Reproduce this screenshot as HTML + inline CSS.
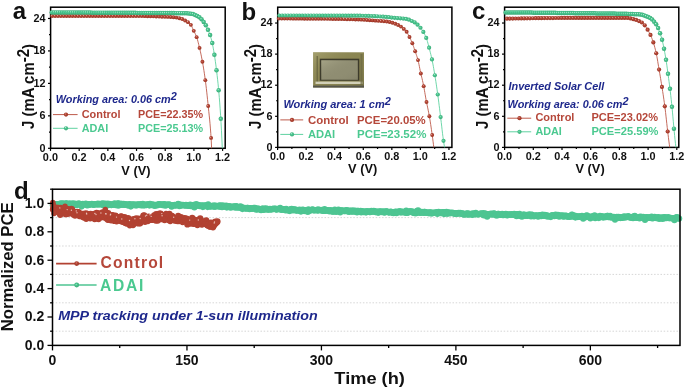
<!DOCTYPE html>
<html><head><meta charset="utf-8"><style>
html,body{margin:0;padding:0;background:#fff;}
svg{display:block;will-change:transform;}
</style></head><body>
<svg width="685" height="390" viewBox="0 0 685 390" font-family='"Liberation Sans", sans-serif'>
<defs><radialGradient id="rg" cx="0.5" cy="0.5" r="0.55" fx="0.35" fy="0.32"><stop offset="0" stop-color="#e8b4a8"/><stop offset="0.3" stop-color="#b84a3b"/><stop offset="1" stop-color="#98301f"/></radialGradient><radialGradient id="gg" cx="0.5" cy="0.5" r="0.55" fx="0.35" fy="0.32"><stop offset="0" stop-color="#c8f2e0"/><stop offset="0.3" stop-color="#50ca94"/><stop offset="1" stop-color="#36a874"/></radialGradient><radialGradient id="rgd" cx="0.5" cy="0.5" r="0.5" fx="0.4" fy="0.4"><stop offset="0" stop-color="#f4dcd6"/><stop offset="0.3" stop-color="#d08070"/><stop offset="0.6" stop-color="#b24232"/><stop offset="1" stop-color="#a83a2b"/></radialGradient><linearGradient id="phg" x1="0" y1="0" x2="1" y2="1"><stop offset="0" stop-color="#b8b484" stop-opacity="0.6"/><stop offset="0.5" stop-color="#8a8552" stop-opacity="0"/><stop offset="1" stop-color="#5a5838" stop-opacity="0.4"/></linearGradient><linearGradient id="phi" x1="0" y1="0" x2="1" y2="1"><stop offset="0" stop-color="#b0ae90" stop-opacity="0.7"/><stop offset="0.6" stop-color="#8f8d72" stop-opacity="0"/><stop offset="1" stop-color="#7a7860" stop-opacity="0.5"/></linearGradient></defs>
<rect width="685" height="390" fill="#fff"/>
<rect x="50.6" y="7.2" width="174.6" height="141.10000000000002" fill="none" stroke="#000" stroke-width="1.5"/>
<line x1="50.50" y1="148.3" x2="50.50" y2="150.9" stroke="#000" stroke-width="1.2"/>
<text x="50.40" y="161.25" font-size="10.85" font-weight="bold" font-style="normal" fill="#111" text-anchor="middle" >0.0</text>
<line x1="64.84" y1="148.3" x2="64.84" y2="149.9" stroke="#000" stroke-width="1.2"/>
<line x1="79.18" y1="148.3" x2="79.18" y2="150.9" stroke="#000" stroke-width="1.2"/>
<text x="79.08" y="161.25" font-size="10.85" font-weight="bold" font-style="normal" fill="#111" text-anchor="middle" >0.2</text>
<line x1="93.52" y1="148.3" x2="93.52" y2="149.9" stroke="#000" stroke-width="1.2"/>
<line x1="107.86" y1="148.3" x2="107.86" y2="150.9" stroke="#000" stroke-width="1.2"/>
<text x="107.76" y="161.25" font-size="10.85" font-weight="bold" font-style="normal" fill="#111" text-anchor="middle" >0.4</text>
<line x1="122.20" y1="148.3" x2="122.20" y2="149.9" stroke="#000" stroke-width="1.2"/>
<line x1="136.54" y1="148.3" x2="136.54" y2="150.9" stroke="#000" stroke-width="1.2"/>
<text x="136.44" y="161.25" font-size="10.85" font-weight="bold" font-style="normal" fill="#111" text-anchor="middle" >0.6</text>
<line x1="150.88" y1="148.3" x2="150.88" y2="149.9" stroke="#000" stroke-width="1.2"/>
<line x1="165.22" y1="148.3" x2="165.22" y2="150.9" stroke="#000" stroke-width="1.2"/>
<text x="165.12" y="161.25" font-size="10.85" font-weight="bold" font-style="normal" fill="#111" text-anchor="middle" >0.8</text>
<line x1="179.56" y1="148.3" x2="179.56" y2="149.9" stroke="#000" stroke-width="1.2"/>
<line x1="193.90" y1="148.3" x2="193.90" y2="150.9" stroke="#000" stroke-width="1.2"/>
<text x="193.80" y="161.25" font-size="10.85" font-weight="bold" font-style="normal" fill="#111" text-anchor="middle" >1.0</text>
<line x1="208.24" y1="148.3" x2="208.24" y2="149.9" stroke="#000" stroke-width="1.2"/>
<line x1="222.58" y1="148.3" x2="222.58" y2="150.9" stroke="#000" stroke-width="1.2"/>
<text x="222.48" y="161.25" font-size="10.85" font-weight="bold" font-style="normal" fill="#111" text-anchor="middle" >1.2</text>
<line x1="48.0" y1="148.30" x2="50.6" y2="148.30" stroke="#000" stroke-width="1.2"/>
<text x="45.50" y="151.55" font-size="10.8" font-weight="bold" font-style="normal" fill="#111" text-anchor="end" >0</text>
<line x1="49.0" y1="132.07" x2="50.6" y2="132.07" stroke="#000" stroke-width="1.2"/>
<line x1="48.0" y1="115.84" x2="50.6" y2="115.84" stroke="#000" stroke-width="1.2"/>
<text x="45.50" y="119.09" font-size="10.8" font-weight="bold" font-style="normal" fill="#111" text-anchor="end" >6</text>
<line x1="49.0" y1="99.61" x2="50.6" y2="99.61" stroke="#000" stroke-width="1.2"/>
<line x1="48.0" y1="83.38" x2="50.6" y2="83.38" stroke="#000" stroke-width="1.2"/>
<text x="45.50" y="86.63" font-size="10.8" font-weight="bold" font-style="normal" fill="#111" text-anchor="end" >12</text>
<line x1="49.0" y1="67.15" x2="50.6" y2="67.15" stroke="#000" stroke-width="1.2"/>
<line x1="48.0" y1="50.92" x2="50.6" y2="50.92" stroke="#000" stroke-width="1.2"/>
<text x="45.50" y="54.17" font-size="10.8" font-weight="bold" font-style="normal" fill="#111" text-anchor="end" >18</text>
<line x1="49.0" y1="34.69" x2="50.6" y2="34.69" stroke="#000" stroke-width="1.2"/>
<line x1="48.0" y1="18.46" x2="50.6" y2="18.46" stroke="#000" stroke-width="1.2"/>
<text x="45.50" y="21.71" font-size="10.8" font-weight="bold" font-style="normal" fill="#111" text-anchor="end" >24</text>
<text x="135.94" y="175.00" font-size="12.8" font-weight="bold" font-style="normal" fill="#111" text-anchor="middle" >V (V)</text>
<text transform="translate(33.80,86.50) rotate(-90)" x="0" y="0" font-size="16.6" font-weight="bold" fill="#111" text-anchor="middle" textLength="85" lengthAdjust="spacingAndGlyphs">J (mA cm<tspan dy="-4.8">-2</tspan><tspan dy="4.8">)</tspan></text>
<text x="12.80" y="19.20" font-size="24" font-weight="bold" font-style="normal" fill="#111" text-anchor="start" >a</text>
<path d="M50.60,16.00 L51.00,16.00 L51.41,16.00 L51.81,16.00 L52.21,16.00 L52.62,16.00 L53.02,16.00 L53.42,16.00 L53.83,16.00 L54.23,16.00 L54.64,16.00 L55.04,16.00 L55.44,16.00 L55.85,16.00 L56.25,16.00 L56.65,16.00 L57.06,16.00 L57.46,16.00 L57.86,16.00 L58.27,16.00 L58.67,16.00 L59.07,16.00 L59.48,16.00 L59.88,16.00 L60.28,16.00 L60.69,16.00 L61.09,16.00 L61.49,16.00 L61.90,16.00 L62.30,16.00 L62.71,16.00 L63.11,16.00 L63.51,16.00 L63.92,16.00 L64.32,16.00 L64.72,16.00 L65.13,16.00 L65.53,16.00 L65.93,16.00 L66.34,16.00 L66.74,16.00 L67.14,16.00 L67.55,16.00 L67.95,16.00 L68.35,16.00 L68.76,16.00 L69.16,16.00 L69.56,16.00 L69.97,16.00 L70.37,16.00 L70.78,16.00 L71.18,16.00 L71.58,16.00 L71.99,16.00 L72.39,16.00 L72.79,16.00 L73.20,16.00 L73.60,16.00 L74.00,16.00 L74.41,16.00 L74.81,16.00 L75.21,16.00 L75.62,16.00 L76.02,16.00 L76.42,16.00 L76.83,16.00 L77.23,16.00 L77.64,16.00 L78.04,16.00 L78.44,16.00 L78.85,16.00 L79.25,16.00 L79.65,16.00 L80.06,16.00 L80.46,16.00 L80.86,16.00 L81.27,16.00 L81.67,16.00 L82.07,16.00 L82.48,16.00 L82.88,16.00 L83.28,16.00 L83.69,16.00 L84.09,16.00 L84.49,16.00 L84.90,16.00 L85.30,16.00 L85.71,16.00 L86.11,16.00 L86.51,16.00 L86.92,16.00 L87.32,16.00 L87.72,16.00 L88.13,16.00 L88.53,16.00 L88.93,16.00 L89.34,16.00 L89.74,16.00 L90.14,16.00 L90.55,16.00 L90.95,16.00 L91.35,16.00 L91.76,16.00 L92.16,16.00 L92.56,16.00 L92.97,16.00 L93.37,16.00 L93.78,16.00 L94.18,16.00 L94.58,16.00 L94.99,16.00 L95.39,16.00 L95.79,16.00 L96.20,16.00 L96.60,16.00 L97.00,16.00 L97.41,16.00 L97.81,16.00 L98.21,16.00 L98.62,16.00 L99.02,16.00 L99.42,16.00 L99.83,16.00 L100.23,16.00 L100.64,16.00 L101.04,16.00 L101.44,16.00 L101.85,16.00 L102.25,16.00 L102.65,16.00 L103.06,16.00 L103.46,16.00 L103.86,16.00 L104.27,16.00 L104.67,16.00 L105.07,16.00 L105.48,16.00 L105.88,16.00 L106.28,16.00 L106.69,16.00 L107.09,16.00 L107.49,16.00 L107.90,16.00 L108.30,16.00 L108.71,16.00 L109.11,16.01 L109.51,16.01 L109.92,16.01 L110.32,16.01 L110.72,16.01 L111.13,16.01 L111.53,16.01 L111.93,16.01 L112.34,16.01 L112.74,16.01 L113.14,16.01 L113.55,16.01 L113.95,16.01 L114.35,16.01 L114.76,16.01 L115.16,16.01 L115.56,16.02 L115.97,16.02 L116.37,16.02 L116.78,16.02 L117.18,16.02 L117.58,16.02 L117.99,16.02 L118.39,16.02 L118.79,16.02 L119.20,16.02 L119.60,16.02 L120.00,16.03 L120.41,16.03 L120.81,16.03 L121.21,16.03 L121.62,16.03 L122.02,16.03 L122.42,16.03 L122.83,16.03 L123.23,16.03 L123.64,16.04 L124.04,16.04 L124.44,16.04 L124.85,16.04 L125.25,16.04 L125.65,16.04 L126.06,16.04 L126.46,16.04 L126.86,16.05 L127.27,16.05 L127.67,16.05 L128.07,16.05 L128.48,16.05 L128.88,16.05 L129.28,16.05 L129.69,16.06 L130.09,16.06 L130.49,16.06 L130.90,16.06 L131.30,16.06 L131.71,16.06 L132.11,16.06 L132.51,16.07 L132.92,16.07 L133.32,16.07 L133.72,16.07 L134.13,16.07 L134.53,16.07 L134.93,16.08 L135.34,16.08 L135.74,16.08 L136.14,16.08 L136.55,16.08 L136.95,16.09 L137.35,16.09 L137.76,16.09 L138.16,16.09 L138.56,16.09 L138.97,16.10 L139.37,16.10 L139.78,16.10 L140.18,16.10 L140.58,16.10 L140.99,16.11 L141.39,16.11 L141.79,16.11 L142.20,16.12 L142.60,16.12 L143.00,16.13 L143.41,16.13 L143.81,16.14 L144.21,16.14 L144.62,16.15 L145.02,16.16 L145.42,16.16 L145.83,16.17 L146.23,16.18 L146.64,16.19 L147.04,16.20 L147.44,16.20 L147.85,16.21 L148.25,16.22 L148.65,16.23 L149.06,16.24 L149.46,16.25 L149.86,16.26 L150.27,16.27 L150.67,16.29 L151.07,16.30 L151.48,16.31 L151.88,16.32 L152.28,16.33 L152.69,16.35 L153.09,16.36 L153.49,16.37 L153.90,16.38 L154.30,16.40 L154.71,16.41 L155.11,16.42 L155.51,16.44 L155.92,16.45 L156.32,16.47 L156.72,16.48 L157.13,16.49 L157.53,16.51 L157.93,16.52 L158.34,16.54 L158.74,16.55 L159.14,16.57 L159.55,16.58 L159.95,16.60 L160.35,16.62 L160.76,16.63 L161.16,16.65 L161.56,16.66 L161.97,16.68 L162.37,16.69 L162.78,16.71 L163.18,16.73 L163.58,16.74 L163.99,16.76 L164.39,16.78 L164.79,16.79 L165.20,16.81 L165.60,16.82 L166.00,16.84 L166.41,16.86 L166.81,16.87 L167.21,16.89 L167.62,16.91 L168.02,16.93 L168.42,16.95 L168.83,16.97 L169.23,16.99 L169.64,17.01 L170.04,17.03 L170.44,17.05 L170.85,17.08 L171.25,17.10 L171.65,17.13 L172.06,17.15 L172.46,17.18 L172.86,17.21 L173.27,17.25 L173.67,17.28 L174.07,17.31 L174.48,17.35 L174.88,17.39 L175.28,17.43 L175.69,17.48 L176.09,17.53 L176.49,17.60 L176.90,17.66 L177.30,17.74 L177.71,17.82 L178.11,17.91 L178.51,18.00 L178.92,18.10 L179.32,18.20 L179.72,18.31 L180.13,18.42 L180.53,18.54 L180.93,18.66 L181.34,18.79 L181.74,18.91 L182.14,19.05 L182.55,19.21 L182.95,19.39 L183.35,19.60 L183.76,19.81 L184.16,20.04 L184.56,20.28 L184.97,20.51 L185.37,20.73 L185.78,20.94 L186.18,21.15 L186.58,21.35 L186.99,21.56 L187.39,21.79 L187.79,22.03 L188.20,22.30 L188.60,22.59 L189.00,22.91 L189.41,23.25 L189.81,23.63 L190.21,24.05 L190.62,24.51 L191.02,25.03 L191.42,25.68 L191.83,26.48 L192.23,27.38 L192.64,28.34 L193.04,29.29 L193.44,30.19 L193.85,31.02 L194.25,31.83 L194.65,32.62 L195.06,33.43 L195.46,34.26 L195.86,35.16 L196.27,36.13 L196.67,37.19 L197.07,38.41 L197.48,39.76 L197.88,41.22 L198.28,42.78 L198.69,44.39 L199.09,46.04 L199.49,47.71 L199.90,49.42 L200.30,51.19 L200.71,53.03 L201.11,54.93 L201.51,56.91 L201.92,58.97 L202.32,61.10 L202.72,63.33 L203.13,65.65 L203.53,68.07 L203.93,70.59 L204.34,73.22 L204.74,75.98 L205.14,78.85 L205.55,81.88 L205.95,85.11 L206.35,88.54 L206.76,92.13 L207.16,95.86 L207.56,99.69 L207.97,103.61 L208.37,107.53 L208.78,111.32 L209.18,115.12 L209.58,119.08 L209.99,123.35 L210.39,128.06 L210.79,133.37 L211.20,139.55 L211.60,148.30" fill="none" stroke="#bd5a4b" stroke-width="0.9"/>
<circle cx="52.15" cy="16.00" r="1.95" fill="url(#rg)"/>
<circle cx="55.04" cy="16.00" r="1.95" fill="url(#rg)"/>
<circle cx="57.93" cy="16.00" r="1.95" fill="url(#rg)"/>
<circle cx="60.82" cy="16.00" r="1.95" fill="url(#rg)"/>
<circle cx="63.71" cy="16.00" r="1.95" fill="url(#rg)"/>
<circle cx="66.60" cy="16.00" r="1.95" fill="url(#rg)"/>
<circle cx="69.49" cy="16.00" r="1.95" fill="url(#rg)"/>
<circle cx="72.38" cy="16.00" r="1.95" fill="url(#rg)"/>
<circle cx="75.27" cy="16.00" r="1.95" fill="url(#rg)"/>
<circle cx="78.16" cy="16.00" r="1.95" fill="url(#rg)"/>
<circle cx="81.05" cy="16.00" r="1.95" fill="url(#rg)"/>
<circle cx="83.94" cy="16.00" r="1.95" fill="url(#rg)"/>
<circle cx="86.83" cy="16.00" r="1.95" fill="url(#rg)"/>
<circle cx="89.72" cy="16.00" r="1.95" fill="url(#rg)"/>
<circle cx="92.61" cy="16.00" r="1.95" fill="url(#rg)"/>
<circle cx="95.50" cy="16.00" r="1.95" fill="url(#rg)"/>
<circle cx="98.39" cy="16.00" r="1.95" fill="url(#rg)"/>
<circle cx="101.28" cy="16.00" r="1.95" fill="url(#rg)"/>
<circle cx="104.17" cy="16.00" r="1.95" fill="url(#rg)"/>
<circle cx="107.06" cy="16.00" r="1.95" fill="url(#rg)"/>
<circle cx="109.95" cy="16.01" r="1.95" fill="url(#rg)"/>
<circle cx="112.84" cy="16.01" r="1.95" fill="url(#rg)"/>
<circle cx="115.73" cy="16.02" r="1.95" fill="url(#rg)"/>
<circle cx="118.62" cy="16.02" r="1.95" fill="url(#rg)"/>
<circle cx="121.51" cy="16.03" r="1.95" fill="url(#rg)"/>
<circle cx="124.40" cy="16.04" r="1.95" fill="url(#rg)"/>
<circle cx="127.29" cy="16.05" r="1.95" fill="url(#rg)"/>
<circle cx="130.18" cy="16.06" r="1.95" fill="url(#rg)"/>
<circle cx="133.07" cy="16.07" r="1.95" fill="url(#rg)"/>
<circle cx="135.96" cy="16.08" r="1.95" fill="url(#rg)"/>
<circle cx="138.85" cy="16.09" r="1.95" fill="url(#rg)"/>
<circle cx="141.74" cy="16.11" r="1.95" fill="url(#rg)"/>
<circle cx="144.63" cy="16.15" r="1.95" fill="url(#rg)"/>
<circle cx="147.52" cy="16.21" r="1.95" fill="url(#rg)"/>
<circle cx="150.41" cy="16.28" r="1.95" fill="url(#rg)"/>
<circle cx="153.30" cy="16.36" r="1.95" fill="url(#rg)"/>
<circle cx="156.19" cy="16.46" r="1.95" fill="url(#rg)"/>
<circle cx="159.08" cy="16.57" r="1.95" fill="url(#rg)"/>
<circle cx="161.97" cy="16.68" r="1.95" fill="url(#rg)"/>
<circle cx="164.86" cy="16.79" r="1.95" fill="url(#rg)"/>
<circle cx="167.75" cy="16.92" r="1.95" fill="url(#rg)"/>
<circle cx="170.64" cy="17.06" r="1.95" fill="url(#rg)"/>
<circle cx="173.53" cy="17.27" r="1.95" fill="url(#rg)"/>
<circle cx="176.42" cy="17.58" r="1.95" fill="url(#rg)"/>
<circle cx="179.31" cy="18.20" r="1.95" fill="url(#rg)"/>
<circle cx="182.20" cy="19.07" r="1.95" fill="url(#rg)"/>
<circle cx="185.09" cy="20.57" r="1.95" fill="url(#rg)"/>
<circle cx="187.98" cy="22.15" r="1.95" fill="url(#rg)"/>
<circle cx="190.87" cy="24.83" r="1.95" fill="url(#rg)"/>
<circle cx="193.76" cy="30.85" r="1.95" fill="url(#rg)"/>
<circle cx="196.65" cy="37.14" r="1.95" fill="url(#rg)"/>
<circle cx="199.54" cy="47.90" r="1.95" fill="url(#rg)"/>
<circle cx="202.43" cy="61.71" r="1.95" fill="url(#rg)"/>
<circle cx="205.32" cy="80.15" r="1.95" fill="url(#rg)"/>
<circle cx="208.21" cy="105.97" r="1.95" fill="url(#rg)"/>
<circle cx="211.10" cy="137.90" r="1.95" fill="url(#rg)"/>
<path d="M50.60,12.50 L51.03,12.50 L51.46,12.50 L51.89,12.50 L52.32,12.50 L52.75,12.50 L53.18,12.50 L53.61,12.51 L54.04,12.51 L54.47,12.51 L54.90,12.51 L55.33,12.51 L55.76,12.51 L56.19,12.51 L56.62,12.51 L57.05,12.51 L57.49,12.51 L57.92,12.51 L58.35,12.51 L58.78,12.52 L59.21,12.52 L59.64,12.52 L60.07,12.52 L60.50,12.52 L60.93,12.52 L61.36,12.52 L61.79,12.52 L62.22,12.52 L62.65,12.53 L63.08,12.53 L63.51,12.53 L63.94,12.53 L64.37,12.53 L64.80,12.53 L65.23,12.53 L65.66,12.53 L66.09,12.53 L66.52,12.54 L66.95,12.54 L67.38,12.54 L67.81,12.54 L68.24,12.54 L68.67,12.54 L69.10,12.54 L69.53,12.54 L69.96,12.55 L70.39,12.55 L70.83,12.55 L71.26,12.55 L71.69,12.55 L72.12,12.55 L72.55,12.55 L72.98,12.56 L73.41,12.56 L73.84,12.56 L74.27,12.56 L74.70,12.56 L75.13,12.56 L75.56,12.57 L75.99,12.57 L76.42,12.57 L76.85,12.57 L77.28,12.57 L77.71,12.57 L78.14,12.57 L78.57,12.58 L79.00,12.58 L79.43,12.58 L79.86,12.58 L80.29,12.58 L80.72,12.58 L81.15,12.59 L81.58,12.59 L82.01,12.59 L82.44,12.59 L82.87,12.59 L83.30,12.59 L83.74,12.60 L84.17,12.60 L84.60,12.60 L85.03,12.60 L85.46,12.60 L85.89,12.61 L86.32,12.61 L86.75,12.61 L87.18,12.61 L87.61,12.61 L88.04,12.61 L88.47,12.62 L88.90,12.62 L89.33,12.62 L89.76,12.62 L90.19,12.62 L90.62,12.63 L91.05,12.63 L91.48,12.63 L91.91,12.63 L92.34,12.63 L92.77,12.64 L93.20,12.64 L93.63,12.64 L94.06,12.64 L94.49,12.64 L94.92,12.65 L95.35,12.65 L95.78,12.65 L96.21,12.65 L96.64,12.65 L97.08,12.66 L97.51,12.66 L97.94,12.66 L98.37,12.66 L98.80,12.67 L99.23,12.67 L99.66,12.67 L100.09,12.67 L100.52,12.67 L100.95,12.68 L101.38,12.68 L101.81,12.68 L102.24,12.68 L102.67,12.68 L103.10,12.69 L103.53,12.69 L103.96,12.69 L104.39,12.69 L104.82,12.70 L105.25,12.70 L105.68,12.70 L106.11,12.70 L106.54,12.70 L106.97,12.71 L107.40,12.71 L107.83,12.71 L108.26,12.71 L108.69,12.72 L109.12,12.72 L109.55,12.72 L109.98,12.72 L110.42,12.73 L110.85,12.73 L111.28,12.73 L111.71,12.73 L112.14,12.74 L112.57,12.74 L113.00,12.74 L113.43,12.74 L113.86,12.74 L114.29,12.75 L114.72,12.75 L115.15,12.75 L115.58,12.75 L116.01,12.76 L116.44,12.76 L116.87,12.76 L117.30,12.76 L117.73,12.77 L118.16,12.77 L118.59,12.77 L119.02,12.77 L119.45,12.78 L119.88,12.78 L120.31,12.78 L120.74,12.78 L121.17,12.79 L121.60,12.79 L122.03,12.79 L122.46,12.79 L122.89,12.80 L123.33,12.80 L123.76,12.80 L124.19,12.80 L124.62,12.81 L125.05,12.81 L125.48,12.81 L125.91,12.81 L126.34,12.82 L126.77,12.82 L127.20,12.82 L127.63,12.82 L128.06,12.83 L128.49,12.83 L128.92,12.83 L129.35,12.83 L129.78,12.84 L130.21,12.84 L130.64,12.84 L131.07,12.85 L131.50,12.85 L131.93,12.85 L132.36,12.85 L132.79,12.86 L133.22,12.86 L133.65,12.86 L134.08,12.86 L134.51,12.87 L134.94,12.87 L135.37,12.87 L135.80,12.87 L136.23,12.88 L136.67,12.88 L137.10,12.88 L137.53,12.88 L137.96,12.89 L138.39,12.89 L138.82,12.89 L139.25,12.90 L139.68,12.90 L140.11,12.90 L140.54,12.90 L140.97,12.91 L141.40,12.91 L141.83,12.91 L142.26,12.91 L142.69,12.92 L143.12,12.92 L143.55,12.92 L143.98,12.92 L144.41,12.93 L144.84,12.93 L145.27,12.93 L145.70,12.93 L146.13,12.93 L146.56,12.94 L146.99,12.94 L147.42,12.94 L147.85,12.94 L148.28,12.94 L148.71,12.95 L149.14,12.95 L149.57,12.95 L150.01,12.95 L150.44,12.96 L150.87,12.96 L151.30,12.96 L151.73,12.96 L152.16,12.96 L152.59,12.97 L153.02,12.97 L153.45,12.97 L153.88,12.97 L154.31,12.97 L154.74,12.98 L155.17,12.98 L155.60,12.98 L156.03,12.98 L156.46,12.99 L156.89,12.99 L157.32,12.99 L157.75,12.99 L158.18,12.99 L158.61,13.00 L159.04,13.00 L159.47,13.00 L159.90,13.00 L160.33,13.01 L160.76,13.01 L161.19,13.01 L161.62,13.02 L162.05,13.02 L162.48,13.02 L162.92,13.02 L163.35,13.03 L163.78,13.03 L164.21,13.03 L164.64,13.04 L165.07,13.04 L165.50,13.04 L165.93,13.05 L166.36,13.05 L166.79,13.05 L167.22,13.06 L167.65,13.06 L168.08,13.06 L168.51,13.07 L168.94,13.07 L169.37,13.08 L169.80,13.08 L170.23,13.08 L170.66,13.09 L171.09,13.09 L171.52,13.10 L171.95,13.10 L172.38,13.11 L172.81,13.11 L173.24,13.12 L173.67,13.12 L174.10,13.13 L174.53,13.13 L174.96,13.14 L175.39,13.14 L175.82,13.15 L176.26,13.15 L176.69,13.16 L177.12,13.17 L177.55,13.17 L177.98,13.18 L178.41,13.18 L178.84,13.19 L179.27,13.20 L179.70,13.20 L180.13,13.21 L180.56,13.22 L180.99,13.23 L181.42,13.23 L181.85,13.24 L182.28,13.25 L182.71,13.26 L183.14,13.26 L183.57,13.27 L184.00,13.28 L184.43,13.29 L184.86,13.30 L185.29,13.31 L185.72,13.32 L186.15,13.34 L186.58,13.36 L187.01,13.38 L187.44,13.41 L187.87,13.44 L188.30,13.48 L188.73,13.52 L189.16,13.56 L189.60,13.61 L190.03,13.66 L190.46,13.71 L190.89,13.76 L191.32,13.82 L191.75,13.88 L192.18,13.95 L192.61,14.02 L193.04,14.11 L193.47,14.23 L193.90,14.37 L194.33,14.54 L194.76,14.72 L195.19,14.92 L195.62,15.12 L196.05,15.33 L196.48,15.54 L196.91,15.76 L197.34,15.97 L197.77,16.19 L198.20,16.42 L198.63,16.67 L199.06,16.93 L199.49,17.22 L199.92,17.54 L200.35,17.90 L200.78,18.31 L201.21,18.78 L201.64,19.28 L202.07,19.81 L202.51,20.36 L202.94,20.92 L203.37,21.49 L203.80,22.09 L204.23,22.72 L204.66,23.38 L205.09,24.08 L205.52,24.80 L205.95,25.57 L206.38,26.40 L206.81,27.28 L207.24,28.21 L207.67,29.18 L208.10,30.15 L208.53,31.13 L208.96,32.13 L209.39,33.19 L209.82,34.32 L210.25,35.55 L210.68,36.92 L211.11,38.45 L211.54,40.11 L211.97,41.90 L212.40,43.81 L212.83,45.89 L213.26,48.16 L213.69,50.60 L214.12,53.19 L214.55,55.88 L214.98,58.73 L215.41,61.76 L215.85,64.95 L216.28,68.29 L216.71,71.79 L217.14,75.43 L217.57,79.25 L218.00,83.31 L218.43,87.67 L218.86,92.36 L219.29,97.44 L219.72,102.93 L220.15,108.88 L220.58,115.30 L221.01,122.30 L221.44,130.22 L221.87,138.96 L222.30,148.30" fill="none" stroke="#5fd2a0" stroke-width="0.9"/>
<circle cx="51.74" cy="12.50" r="2.25" fill="url(#gg)"/>
<circle cx="53.88" cy="12.51" r="2.25" fill="url(#gg)"/>
<circle cx="56.02" cy="12.51" r="2.25" fill="url(#gg)"/>
<circle cx="58.16" cy="12.51" r="2.25" fill="url(#gg)"/>
<circle cx="60.30" cy="12.52" r="2.25" fill="url(#gg)"/>
<circle cx="62.44" cy="12.52" r="2.25" fill="url(#gg)"/>
<circle cx="64.58" cy="12.53" r="2.25" fill="url(#gg)"/>
<circle cx="66.72" cy="12.54" r="2.25" fill="url(#gg)"/>
<circle cx="68.86" cy="12.54" r="2.25" fill="url(#gg)"/>
<circle cx="71.00" cy="12.55" r="2.25" fill="url(#gg)"/>
<circle cx="73.14" cy="12.56" r="2.25" fill="url(#gg)"/>
<circle cx="75.28" cy="12.56" r="2.25" fill="url(#gg)"/>
<circle cx="77.42" cy="12.57" r="2.25" fill="url(#gg)"/>
<circle cx="79.56" cy="12.58" r="2.25" fill="url(#gg)"/>
<circle cx="81.70" cy="12.59" r="2.25" fill="url(#gg)"/>
<circle cx="83.84" cy="12.60" r="2.25" fill="url(#gg)"/>
<circle cx="85.98" cy="12.61" r="2.25" fill="url(#gg)"/>
<circle cx="88.12" cy="12.62" r="2.25" fill="url(#gg)"/>
<circle cx="90.26" cy="12.62" r="2.25" fill="url(#gg)"/>
<circle cx="92.40" cy="12.63" r="2.25" fill="url(#gg)"/>
<circle cx="94.54" cy="12.64" r="2.25" fill="url(#gg)"/>
<circle cx="96.68" cy="12.65" r="2.25" fill="url(#gg)"/>
<circle cx="98.82" cy="12.67" r="2.25" fill="url(#gg)"/>
<circle cx="100.96" cy="12.68" r="2.25" fill="url(#gg)"/>
<circle cx="103.10" cy="12.69" r="2.25" fill="url(#gg)"/>
<circle cx="105.24" cy="12.70" r="2.25" fill="url(#gg)"/>
<circle cx="107.38" cy="12.71" r="2.25" fill="url(#gg)"/>
<circle cx="109.52" cy="12.72" r="2.25" fill="url(#gg)"/>
<circle cx="111.66" cy="12.73" r="2.25" fill="url(#gg)"/>
<circle cx="113.80" cy="12.74" r="2.25" fill="url(#gg)"/>
<circle cx="115.94" cy="12.76" r="2.25" fill="url(#gg)"/>
<circle cx="118.08" cy="12.77" r="2.25" fill="url(#gg)"/>
<circle cx="120.22" cy="12.78" r="2.25" fill="url(#gg)"/>
<circle cx="122.36" cy="12.79" r="2.25" fill="url(#gg)"/>
<circle cx="124.50" cy="12.81" r="2.25" fill="url(#gg)"/>
<circle cx="126.64" cy="12.82" r="2.25" fill="url(#gg)"/>
<circle cx="128.78" cy="12.83" r="2.25" fill="url(#gg)"/>
<circle cx="130.92" cy="12.84" r="2.25" fill="url(#gg)"/>
<circle cx="133.06" cy="12.86" r="2.25" fill="url(#gg)"/>
<circle cx="135.20" cy="12.87" r="2.25" fill="url(#gg)"/>
<circle cx="137.34" cy="12.88" r="2.25" fill="url(#gg)"/>
<circle cx="139.48" cy="12.90" r="2.25" fill="url(#gg)"/>
<circle cx="141.62" cy="12.91" r="2.25" fill="url(#gg)"/>
<circle cx="143.76" cy="12.92" r="2.25" fill="url(#gg)"/>
<circle cx="145.90" cy="12.93" r="2.25" fill="url(#gg)"/>
<circle cx="148.04" cy="12.94" r="2.25" fill="url(#gg)"/>
<circle cx="150.18" cy="12.95" r="2.25" fill="url(#gg)"/>
<circle cx="152.32" cy="12.96" r="2.25" fill="url(#gg)"/>
<circle cx="154.46" cy="12.97" r="2.25" fill="url(#gg)"/>
<circle cx="156.60" cy="12.99" r="2.25" fill="url(#gg)"/>
<circle cx="158.74" cy="13.00" r="2.25" fill="url(#gg)"/>
<circle cx="160.88" cy="13.01" r="2.25" fill="url(#gg)"/>
<circle cx="163.02" cy="13.02" r="2.25" fill="url(#gg)"/>
<circle cx="165.16" cy="13.04" r="2.25" fill="url(#gg)"/>
<circle cx="167.30" cy="13.06" r="2.25" fill="url(#gg)"/>
<circle cx="169.44" cy="13.08" r="2.25" fill="url(#gg)"/>
<circle cx="171.58" cy="13.10" r="2.25" fill="url(#gg)"/>
<circle cx="173.72" cy="13.12" r="2.25" fill="url(#gg)"/>
<circle cx="175.86" cy="13.15" r="2.25" fill="url(#gg)"/>
<circle cx="178.00" cy="13.18" r="2.25" fill="url(#gg)"/>
<circle cx="180.14" cy="13.21" r="2.25" fill="url(#gg)"/>
<circle cx="182.28" cy="13.25" r="2.25" fill="url(#gg)"/>
<circle cx="184.42" cy="13.29" r="2.25" fill="url(#gg)"/>
<circle cx="186.56" cy="13.36" r="2.25" fill="url(#gg)"/>
<circle cx="188.70" cy="13.51" r="2.25" fill="url(#gg)"/>
<circle cx="190.84" cy="13.76" r="2.25" fill="url(#gg)"/>
<circle cx="192.98" cy="14.10" r="2.25" fill="url(#gg)"/>
<circle cx="195.12" cy="14.88" r="2.25" fill="url(#gg)"/>
<circle cx="197.26" cy="15.93" r="2.25" fill="url(#gg)"/>
<circle cx="199.40" cy="17.16" r="2.25" fill="url(#gg)"/>
<circle cx="201.54" cy="19.15" r="2.25" fill="url(#gg)"/>
<circle cx="203.68" cy="21.92" r="2.25" fill="url(#gg)"/>
<circle cx="205.82" cy="25.34" r="2.25" fill="url(#gg)"/>
<circle cx="207.96" cy="29.84" r="2.25" fill="url(#gg)"/>
<circle cx="210.10" cy="35.10" r="2.25" fill="url(#gg)"/>
<circle cx="212.24" cy="43.08" r="2.25" fill="url(#gg)"/>
<circle cx="214.38" cy="54.77" r="2.25" fill="url(#gg)"/>
<circle cx="216.52" cy="70.26" r="2.25" fill="url(#gg)"/>
<circle cx="218.66" cy="90.16" r="2.25" fill="url(#gg)"/>
<circle cx="220.80" cy="118.80" r="2.25" fill="url(#gg)"/>
<line x1="53" y1="114.6" x2="77.6" y2="114.6" stroke="#bd5a4b" stroke-width="1"/>
<circle cx="66" cy="114.6" r="2.1" fill="url(#rg)"/>
<line x1="53" y1="128.3" x2="77.6" y2="128.3" stroke="#5fd2a0" stroke-width="1"/>
<circle cx="66" cy="128.3" r="2.1" fill="url(#gg)"/>
<text x="81.70" y="118.10" font-size="11" font-weight="bold" font-style="normal" fill="#b5473a" text-anchor="start" textLength="38.8" lengthAdjust="spacingAndGlyphs" >Control</text>
<text x="81.70" y="132.00" font-size="11" font-weight="bold" font-style="normal" fill="#4bc990" text-anchor="start" textLength="26.5" lengthAdjust="spacingAndGlyphs" >ADAI</text>
<text x="138.00" y="118.10" font-size="11" font-weight="bold" font-style="normal" fill="#b5473a" text-anchor="start" textLength="65" lengthAdjust="spacingAndGlyphs" >PCE=22.35%</text>
<text x="138.00" y="132.00" font-size="11" font-weight="bold" font-style="normal" fill="#4bc990" text-anchor="start" textLength="65" lengthAdjust="spacingAndGlyphs" >PCE=25.13%</text>
<text x="55.80" y="103.30" font-size="10.85" font-weight="bold" font-style="italic" fill="#1e288c" text-anchor="start" >Working area: 0.06 cm<tspan dy="-3.5">2</tspan></text>
<rect x="277.7" y="7.2" width="174.2" height="140.20000000000002" fill="none" stroke="#000" stroke-width="1.5"/>
<line x1="277.60" y1="147.4" x2="277.60" y2="150.0" stroke="#000" stroke-width="1.2"/>
<text x="277.50" y="160.35" font-size="10.85" font-weight="bold" font-style="normal" fill="#111" text-anchor="middle" >0.0</text>
<line x1="291.88" y1="147.4" x2="291.88" y2="149.0" stroke="#000" stroke-width="1.2"/>
<line x1="306.16" y1="147.4" x2="306.16" y2="150.0" stroke="#000" stroke-width="1.2"/>
<text x="306.06" y="160.35" font-size="10.85" font-weight="bold" font-style="normal" fill="#111" text-anchor="middle" >0.2</text>
<line x1="320.44" y1="147.4" x2="320.44" y2="149.0" stroke="#000" stroke-width="1.2"/>
<line x1="334.72" y1="147.4" x2="334.72" y2="150.0" stroke="#000" stroke-width="1.2"/>
<text x="334.62" y="160.35" font-size="10.85" font-weight="bold" font-style="normal" fill="#111" text-anchor="middle" >0.4</text>
<line x1="349.00" y1="147.4" x2="349.00" y2="149.0" stroke="#000" stroke-width="1.2"/>
<line x1="363.28" y1="147.4" x2="363.28" y2="150.0" stroke="#000" stroke-width="1.2"/>
<text x="363.18" y="160.35" font-size="10.85" font-weight="bold" font-style="normal" fill="#111" text-anchor="middle" >0.6</text>
<line x1="377.56" y1="147.4" x2="377.56" y2="149.0" stroke="#000" stroke-width="1.2"/>
<line x1="391.84" y1="147.4" x2="391.84" y2="150.0" stroke="#000" stroke-width="1.2"/>
<text x="391.74" y="160.35" font-size="10.85" font-weight="bold" font-style="normal" fill="#111" text-anchor="middle" >0.8</text>
<line x1="406.12" y1="147.4" x2="406.12" y2="149.0" stroke="#000" stroke-width="1.2"/>
<line x1="420.40" y1="147.4" x2="420.40" y2="150.0" stroke="#000" stroke-width="1.2"/>
<text x="420.30" y="160.35" font-size="10.85" font-weight="bold" font-style="normal" fill="#111" text-anchor="middle" >1.0</text>
<line x1="434.68" y1="147.4" x2="434.68" y2="149.0" stroke="#000" stroke-width="1.2"/>
<line x1="448.96" y1="147.4" x2="448.96" y2="150.0" stroke="#000" stroke-width="1.2"/>
<text x="448.86" y="160.35" font-size="10.85" font-weight="bold" font-style="normal" fill="#111" text-anchor="middle" >1.2</text>
<line x1="275.09999999999997" y1="147.40" x2="277.7" y2="147.40" stroke="#000" stroke-width="1.2"/>
<text x="272.60" y="150.65" font-size="10.8" font-weight="bold" font-style="normal" fill="#111" text-anchor="end" >0</text>
<line x1="276.09999999999997" y1="131.85" x2="277.7" y2="131.85" stroke="#000" stroke-width="1.2"/>
<line x1="275.09999999999997" y1="116.31" x2="277.7" y2="116.31" stroke="#000" stroke-width="1.2"/>
<text x="272.60" y="119.56" font-size="10.8" font-weight="bold" font-style="normal" fill="#111" text-anchor="end" >6</text>
<line x1="276.09999999999997" y1="100.76" x2="277.7" y2="100.76" stroke="#000" stroke-width="1.2"/>
<line x1="275.09999999999997" y1="85.22" x2="277.7" y2="85.22" stroke="#000" stroke-width="1.2"/>
<text x="272.60" y="88.47" font-size="10.8" font-weight="bold" font-style="normal" fill="#111" text-anchor="end" >12</text>
<line x1="276.09999999999997" y1="69.67" x2="277.7" y2="69.67" stroke="#000" stroke-width="1.2"/>
<line x1="275.09999999999997" y1="54.12" x2="277.7" y2="54.12" stroke="#000" stroke-width="1.2"/>
<text x="272.60" y="57.37" font-size="10.8" font-weight="bold" font-style="normal" fill="#111" text-anchor="end" >18</text>
<line x1="276.09999999999997" y1="38.58" x2="277.7" y2="38.58" stroke="#000" stroke-width="1.2"/>
<line x1="275.09999999999997" y1="23.03" x2="277.7" y2="23.03" stroke="#000" stroke-width="1.2"/>
<text x="272.60" y="26.28" font-size="10.8" font-weight="bold" font-style="normal" fill="#111" text-anchor="end" >24</text>
<text x="362.68" y="173.00" font-size="12.8" font-weight="bold" font-style="normal" fill="#111" text-anchor="middle" >V (V)</text>
<text transform="translate(260.90,86.50) rotate(-90)" x="0" y="0" font-size="16.6" font-weight="bold" fill="#111" text-anchor="middle" textLength="85" lengthAdjust="spacingAndGlyphs">J (mA cm<tspan dy="-4.8">-2</tspan><tspan dy="4.8">)</tspan></text>
<text x="241.60" y="19.70" font-size="24" font-weight="bold" font-style="normal" fill="#111" text-anchor="start" >b</text>
<path d="M278.00,18.60 L278.39,18.60 L278.78,18.60 L279.17,18.60 L279.56,18.60 L279.95,18.60 L280.34,18.60 L280.73,18.60 L281.12,18.60 L281.51,18.60 L281.90,18.60 L282.30,18.60 L282.69,18.60 L283.08,18.60 L283.47,18.60 L283.86,18.60 L284.25,18.61 L284.64,18.61 L285.03,18.61 L285.42,18.61 L285.81,18.61 L286.20,18.61 L286.59,18.61 L286.98,18.61 L287.37,18.61 L287.76,18.61 L288.15,18.61 L288.54,18.62 L288.93,18.62 L289.32,18.62 L289.71,18.62 L290.10,18.62 L290.50,18.62 L290.89,18.62 L291.28,18.62 L291.67,18.63 L292.06,18.63 L292.45,18.63 L292.84,18.63 L293.23,18.63 L293.62,18.63 L294.01,18.63 L294.40,18.64 L294.79,18.64 L295.18,18.64 L295.57,18.64 L295.96,18.64 L296.35,18.64 L296.74,18.65 L297.13,18.65 L297.52,18.65 L297.91,18.65 L298.30,18.65 L298.70,18.66 L299.09,18.66 L299.48,18.66 L299.87,18.66 L300.26,18.66 L300.65,18.67 L301.04,18.67 L301.43,18.67 L301.82,18.67 L302.21,18.68 L302.60,18.68 L302.99,18.68 L303.38,18.68 L303.77,18.69 L304.16,18.69 L304.55,18.69 L304.94,18.69 L305.33,18.69 L305.72,18.70 L306.11,18.70 L306.50,18.70 L306.90,18.71 L307.29,18.71 L307.68,18.71 L308.07,18.71 L308.46,18.72 L308.85,18.72 L309.24,18.72 L309.63,18.72 L310.02,18.73 L310.41,18.73 L310.80,18.73 L311.19,18.74 L311.58,18.74 L311.97,18.74 L312.36,18.74 L312.75,18.75 L313.14,18.75 L313.53,18.75 L313.92,18.76 L314.31,18.76 L314.70,18.76 L315.10,18.77 L315.49,18.77 L315.88,18.77 L316.27,18.78 L316.66,18.78 L317.05,18.78 L317.44,18.79 L317.83,18.79 L318.22,18.79 L318.61,18.80 L319.00,18.80 L319.39,18.80 L319.78,18.81 L320.17,18.81 L320.56,18.81 L320.95,18.82 L321.34,18.82 L321.73,18.82 L322.12,18.83 L322.51,18.83 L322.90,18.83 L323.30,18.84 L323.69,18.84 L324.08,18.84 L324.47,18.85 L324.86,18.85 L325.25,18.85 L325.64,18.86 L326.03,18.86 L326.42,18.87 L326.81,18.87 L327.20,18.87 L327.59,18.88 L327.98,18.88 L328.37,18.88 L328.76,18.89 L329.15,18.89 L329.54,18.90 L329.93,18.90 L330.32,18.90 L330.71,18.91 L331.10,18.91 L331.50,18.92 L331.89,18.92 L332.28,18.92 L332.67,18.93 L333.06,18.93 L333.45,18.94 L333.84,18.94 L334.23,18.95 L334.62,18.96 L335.01,18.96 L335.40,18.97 L335.79,18.97 L336.18,18.98 L336.57,18.98 L336.96,18.99 L337.35,19.00 L337.74,19.00 L338.13,19.01 L338.52,19.02 L338.91,19.02 L339.30,19.03 L339.70,19.04 L340.09,19.05 L340.48,19.05 L340.87,19.06 L341.26,19.07 L341.65,19.08 L342.04,19.08 L342.43,19.09 L342.82,19.10 L343.21,19.11 L343.60,19.12 L343.99,19.13 L344.38,19.14 L344.77,19.14 L345.16,19.15 L345.55,19.16 L345.94,19.17 L346.33,19.18 L346.72,19.19 L347.11,19.20 L347.50,19.21 L347.90,19.22 L348.29,19.23 L348.68,19.24 L349.07,19.25 L349.46,19.26 L349.85,19.27 L350.24,19.29 L350.63,19.30 L351.02,19.31 L351.41,19.32 L351.80,19.33 L352.19,19.34 L352.58,19.35 L352.97,19.37 L353.36,19.38 L353.75,19.39 L354.14,19.40 L354.53,19.41 L354.92,19.43 L355.31,19.44 L355.70,19.45 L356.10,19.46 L356.49,19.48 L356.88,19.49 L357.27,19.50 L357.66,19.52 L358.05,19.53 L358.44,19.54 L358.83,19.56 L359.22,19.57 L359.61,19.59 L360.00,19.60 L360.39,19.61 L360.78,19.63 L361.17,19.65 L361.56,19.66 L361.95,19.68 L362.34,19.70 L362.73,19.72 L363.12,19.74 L363.51,19.76 L363.90,19.78 L364.30,19.81 L364.69,19.83 L365.08,19.85 L365.47,19.88 L365.86,19.90 L366.25,19.93 L366.64,19.95 L367.03,19.98 L367.42,20.01 L367.81,20.04 L368.20,20.06 L368.59,20.09 L368.98,20.12 L369.37,20.15 L369.76,20.18 L370.15,20.21 L370.54,20.24 L370.93,20.27 L371.32,20.30 L371.71,20.33 L372.10,20.36 L372.50,20.39 L372.89,20.43 L373.28,20.46 L373.67,20.49 L374.06,20.52 L374.45,20.55 L374.84,20.58 L375.23,20.62 L375.62,20.65 L376.01,20.68 L376.40,20.71 L376.79,20.74 L377.18,20.77 L377.57,20.81 L377.96,20.84 L378.35,20.87 L378.74,20.90 L379.13,20.93 L379.52,20.95 L379.91,20.98 L380.30,21.01 L380.70,21.04 L381.09,21.07 L381.48,21.10 L381.87,21.13 L382.26,21.16 L382.65,21.19 L383.04,21.22 L383.43,21.25 L383.82,21.28 L384.21,21.32 L384.60,21.35 L384.99,21.39 L385.38,21.43 L385.77,21.47 L386.16,21.51 L386.55,21.55 L386.94,21.60 L387.33,21.64 L387.72,21.69 L388.11,21.74 L388.50,21.80 L388.90,21.85 L389.29,21.91 L389.68,21.98 L390.07,22.06 L390.46,22.16 L390.85,22.26 L391.24,22.37 L391.63,22.49 L392.02,22.62 L392.41,22.75 L392.80,22.89 L393.19,23.03 L393.58,23.17 L393.97,23.32 L394.36,23.46 L394.75,23.61 L395.14,23.75 L395.53,23.90 L395.92,24.05 L396.31,24.20 L396.70,24.36 L397.10,24.52 L397.49,24.69 L397.88,24.87 L398.27,25.05 L398.66,25.25 L399.05,25.45 L399.44,25.65 L399.83,25.87 L400.22,26.11 L400.61,26.37 L401.00,26.64 L401.39,26.93 L401.78,27.24 L402.17,27.55 L402.56,27.87 L402.95,28.19 L403.34,28.52 L403.73,28.85 L404.12,29.18 L404.51,29.52 L404.90,29.87 L405.30,30.25 L405.69,30.65 L406.08,31.08 L406.47,31.56 L406.86,32.10 L407.25,32.73 L407.64,33.43 L408.03,34.18 L408.42,34.95 L408.81,35.73 L409.20,36.49 L409.59,37.26 L409.98,38.03 L410.37,38.82 L410.76,39.63 L411.15,40.46 L411.54,41.33 L411.93,42.24 L412.32,43.20 L412.71,44.21 L413.10,45.28 L413.50,46.38 L413.89,47.51 L414.28,48.66 L414.67,49.81 L415.06,50.97 L415.45,52.11 L415.84,53.23 L416.23,54.36 L416.62,55.52 L417.01,56.73 L417.40,58.00 L417.79,59.35 L418.18,60.82 L418.57,62.48 L418.96,64.34 L419.35,66.30 L419.74,68.29 L420.13,70.24 L420.52,72.06 L420.91,73.79 L421.30,75.46 L421.70,77.11 L422.09,78.76 L422.48,80.44 L422.87,82.17 L423.26,84.00 L423.65,85.96 L424.04,88.06 L424.43,90.26 L424.82,92.53 L425.21,94.82 L425.60,97.08 L425.99,99.27 L426.38,101.35 L426.77,103.32 L427.16,105.23 L427.55,107.10 L427.94,108.97 L428.33,110.87 L428.72,112.84 L429.11,114.90 L429.50,117.10 L429.90,119.44 L430.29,121.88 L430.68,124.42 L431.07,127.04 L431.46,129.73 L431.85,132.48 L432.24,135.27 L432.63,138.16 L433.02,141.15 L433.41,144.24 L433.80,147.40" fill="none" stroke="#bd5a4b" stroke-width="0.9"/>
<circle cx="278.84" cy="18.60" r="1.95" fill="url(#rg)"/>
<circle cx="281.68" cy="18.60" r="1.95" fill="url(#rg)"/>
<circle cx="284.52" cy="18.61" r="1.95" fill="url(#rg)"/>
<circle cx="287.36" cy="18.61" r="1.95" fill="url(#rg)"/>
<circle cx="290.20" cy="18.62" r="1.95" fill="url(#rg)"/>
<circle cx="293.04" cy="18.63" r="1.95" fill="url(#rg)"/>
<circle cx="295.88" cy="18.64" r="1.95" fill="url(#rg)"/>
<circle cx="298.72" cy="18.66" r="1.95" fill="url(#rg)"/>
<circle cx="301.56" cy="18.67" r="1.95" fill="url(#rg)"/>
<circle cx="304.40" cy="18.69" r="1.95" fill="url(#rg)"/>
<circle cx="307.24" cy="18.71" r="1.95" fill="url(#rg)"/>
<circle cx="310.08" cy="18.73" r="1.95" fill="url(#rg)"/>
<circle cx="312.92" cy="18.75" r="1.95" fill="url(#rg)"/>
<circle cx="315.76" cy="18.77" r="1.95" fill="url(#rg)"/>
<circle cx="318.60" cy="18.80" r="1.95" fill="url(#rg)"/>
<circle cx="321.44" cy="18.82" r="1.95" fill="url(#rg)"/>
<circle cx="324.28" cy="18.85" r="1.95" fill="url(#rg)"/>
<circle cx="327.12" cy="18.87" r="1.95" fill="url(#rg)"/>
<circle cx="329.96" cy="18.90" r="1.95" fill="url(#rg)"/>
<circle cx="332.80" cy="18.93" r="1.95" fill="url(#rg)"/>
<circle cx="335.64" cy="18.97" r="1.95" fill="url(#rg)"/>
<circle cx="338.48" cy="19.02" r="1.95" fill="url(#rg)"/>
<circle cx="341.32" cy="19.07" r="1.95" fill="url(#rg)"/>
<circle cx="344.16" cy="19.13" r="1.95" fill="url(#rg)"/>
<circle cx="347.00" cy="19.20" r="1.95" fill="url(#rg)"/>
<circle cx="349.84" cy="19.27" r="1.95" fill="url(#rg)"/>
<circle cx="352.68" cy="19.36" r="1.95" fill="url(#rg)"/>
<circle cx="355.52" cy="19.45" r="1.95" fill="url(#rg)"/>
<circle cx="358.36" cy="19.54" r="1.95" fill="url(#rg)"/>
<circle cx="361.20" cy="19.65" r="1.95" fill="url(#rg)"/>
<circle cx="364.04" cy="19.79" r="1.95" fill="url(#rg)"/>
<circle cx="366.88" cy="19.97" r="1.95" fill="url(#rg)"/>
<circle cx="369.72" cy="20.18" r="1.95" fill="url(#rg)"/>
<circle cx="372.56" cy="20.40" r="1.95" fill="url(#rg)"/>
<circle cx="375.40" cy="20.63" r="1.95" fill="url(#rg)"/>
<circle cx="378.24" cy="20.86" r="1.95" fill="url(#rg)"/>
<circle cx="381.08" cy="21.07" r="1.95" fill="url(#rg)"/>
<circle cx="383.92" cy="21.29" r="1.95" fill="url(#rg)"/>
<circle cx="386.76" cy="21.57" r="1.95" fill="url(#rg)"/>
<circle cx="389.60" cy="21.97" r="1.95" fill="url(#rg)"/>
<circle cx="392.44" cy="22.76" r="1.95" fill="url(#rg)"/>
<circle cx="395.28" cy="23.80" r="1.95" fill="url(#rg)"/>
<circle cx="398.12" cy="24.98" r="1.95" fill="url(#rg)"/>
<circle cx="400.96" cy="26.62" r="1.95" fill="url(#rg)"/>
<circle cx="403.80" cy="28.90" r="1.95" fill="url(#rg)"/>
<circle cx="406.64" cy="31.79" r="1.95" fill="url(#rg)"/>
<circle cx="409.48" cy="37.04" r="1.95" fill="url(#rg)"/>
<circle cx="412.32" cy="43.19" r="1.95" fill="url(#rg)"/>
<circle cx="415.16" cy="51.27" r="1.95" fill="url(#rg)"/>
<circle cx="418.00" cy="60.12" r="1.95" fill="url(#rg)"/>
<circle cx="420.84" cy="73.47" r="1.95" fill="url(#rg)"/>
<circle cx="423.68" cy="86.13" r="1.95" fill="url(#rg)"/>
<circle cx="426.52" cy="102.06" r="1.95" fill="url(#rg)"/>
<circle cx="429.36" cy="116.27" r="1.95" fill="url(#rg)"/>
<circle cx="432.20" cy="135.00" r="1.95" fill="url(#rg)"/>
<path d="M278.00,15.50 L278.42,15.50 L278.84,15.50 L279.25,15.50 L279.67,15.50 L280.09,15.50 L280.51,15.50 L280.92,15.50 L281.34,15.50 L281.76,15.50 L282.18,15.50 L282.59,15.50 L283.01,15.50 L283.43,15.50 L283.85,15.50 L284.26,15.50 L284.68,15.50 L285.10,15.50 L285.52,15.50 L285.93,15.50 L286.35,15.50 L286.77,15.50 L287.19,15.50 L287.60,15.50 L288.02,15.50 L288.44,15.50 L288.86,15.50 L289.27,15.50 L289.69,15.50 L290.11,15.50 L290.53,15.50 L290.94,15.50 L291.36,15.50 L291.78,15.50 L292.20,15.50 L292.61,15.50 L293.03,15.51 L293.45,15.51 L293.87,15.51 L294.28,15.51 L294.70,15.51 L295.12,15.51 L295.54,15.51 L295.95,15.51 L296.37,15.51 L296.79,15.51 L297.21,15.51 L297.62,15.51 L298.04,15.51 L298.46,15.51 L298.88,15.51 L299.29,15.51 L299.71,15.51 L300.13,15.51 L300.55,15.51 L300.96,15.51 L301.38,15.51 L301.80,15.51 L302.22,15.51 L302.64,15.51 L303.05,15.52 L303.47,15.52 L303.89,15.52 L304.31,15.52 L304.72,15.52 L305.14,15.52 L305.56,15.52 L305.98,15.52 L306.39,15.52 L306.81,15.52 L307.23,15.52 L307.65,15.52 L308.06,15.52 L308.48,15.52 L308.90,15.52 L309.32,15.52 L309.73,15.53 L310.15,15.53 L310.57,15.53 L310.99,15.53 L311.40,15.53 L311.82,15.53 L312.24,15.53 L312.66,15.53 L313.07,15.53 L313.49,15.53 L313.91,15.53 L314.33,15.53 L314.74,15.53 L315.16,15.54 L315.58,15.54 L316.00,15.54 L316.41,15.54 L316.83,15.54 L317.25,15.54 L317.67,15.54 L318.08,15.54 L318.50,15.54 L318.92,15.54 L319.34,15.54 L319.75,15.55 L320.17,15.55 L320.59,15.55 L321.01,15.55 L321.42,15.55 L321.84,15.55 L322.26,15.55 L322.68,15.55 L323.09,15.55 L323.51,15.55 L323.93,15.56 L324.35,15.56 L324.76,15.56 L325.18,15.56 L325.60,15.56 L326.02,15.56 L326.44,15.56 L326.85,15.56 L327.27,15.56 L327.69,15.57 L328.11,15.57 L328.52,15.57 L328.94,15.57 L329.36,15.57 L329.78,15.57 L330.19,15.57 L330.61,15.57 L331.03,15.58 L331.45,15.58 L331.86,15.58 L332.28,15.58 L332.70,15.58 L333.12,15.58 L333.53,15.58 L333.95,15.59 L334.37,15.59 L334.79,15.59 L335.20,15.59 L335.62,15.59 L336.04,15.59 L336.46,15.59 L336.87,15.60 L337.29,15.60 L337.71,15.60 L338.13,15.60 L338.54,15.60 L338.96,15.60 L339.38,15.60 L339.80,15.61 L340.21,15.61 L340.63,15.61 L341.05,15.61 L341.47,15.61 L341.88,15.61 L342.30,15.62 L342.72,15.62 L343.14,15.62 L343.55,15.62 L343.97,15.62 L344.39,15.62 L344.81,15.63 L345.22,15.63 L345.64,15.63 L346.06,15.63 L346.48,15.63 L346.89,15.64 L347.31,15.64 L347.73,15.64 L348.15,15.64 L348.56,15.64 L348.98,15.64 L349.40,15.65 L349.82,15.65 L350.24,15.65 L350.65,15.65 L351.07,15.65 L351.49,15.66 L351.91,15.66 L352.32,15.66 L352.74,15.66 L353.16,15.66 L353.58,15.67 L353.99,15.67 L354.41,15.67 L354.83,15.67 L355.25,15.67 L355.66,15.68 L356.08,15.68 L356.50,15.68 L356.92,15.68 L357.33,15.69 L357.75,15.69 L358.17,15.69 L358.59,15.69 L359.00,15.69 L359.42,15.70 L359.84,15.70 L360.26,15.70 L360.67,15.70 L361.09,15.71 L361.51,15.71 L361.93,15.72 L362.34,15.73 L362.76,15.73 L363.18,15.74 L363.60,15.75 L364.01,15.76 L364.43,15.77 L364.85,15.78 L365.27,15.79 L365.68,15.80 L366.10,15.81 L366.52,15.83 L366.94,15.84 L367.35,15.85 L367.77,15.87 L368.19,15.88 L368.61,15.90 L369.02,15.91 L369.44,15.93 L369.86,15.95 L370.28,15.97 L370.69,15.98 L371.11,16.00 L371.53,16.02 L371.95,16.04 L372.36,16.06 L372.78,16.08 L373.20,16.10 L373.62,16.12 L374.04,16.15 L374.45,16.17 L374.87,16.19 L375.29,16.21 L375.71,16.24 L376.12,16.26 L376.54,16.28 L376.96,16.31 L377.38,16.33 L377.79,16.36 L378.21,16.38 L378.63,16.40 L379.05,16.43 L379.46,16.45 L379.88,16.48 L380.30,16.51 L380.72,16.53 L381.13,16.56 L381.55,16.58 L381.97,16.61 L382.39,16.64 L382.80,16.66 L383.22,16.69 L383.64,16.72 L384.06,16.74 L384.47,16.78 L384.89,16.81 L385.31,16.85 L385.73,16.88 L386.14,16.92 L386.56,16.96 L386.98,17.01 L387.40,17.05 L387.81,17.09 L388.23,17.14 L388.65,17.19 L389.07,17.23 L389.48,17.28 L389.90,17.33 L390.32,17.38 L390.74,17.43 L391.15,17.48 L391.57,17.53 L391.99,17.57 L392.41,17.62 L392.82,17.67 L393.24,17.72 L393.66,17.76 L394.08,17.81 L394.49,17.85 L394.91,17.89 L395.33,17.93 L395.75,17.97 L396.16,18.01 L396.58,18.04 L397.00,18.07 L397.42,18.11 L397.84,18.14 L398.25,18.17 L398.67,18.20 L399.09,18.23 L399.51,18.26 L399.92,18.28 L400.34,18.31 L400.76,18.35 L401.18,18.38 L401.59,18.41 L402.01,18.44 L402.43,18.48 L402.85,18.52 L403.26,18.56 L403.68,18.60 L404.10,18.65 L404.52,18.69 L404.93,18.74 L405.35,18.80 L405.77,18.86 L406.19,18.92 L406.60,18.98 L407.02,19.06 L407.44,19.16 L407.86,19.29 L408.27,19.43 L408.69,19.60 L409.11,19.77 L409.53,19.95 L409.94,20.14 L410.36,20.33 L410.78,20.52 L411.20,20.71 L411.61,20.89 L412.03,21.07 L412.45,21.25 L412.87,21.44 L413.28,21.63 L413.70,21.84 L414.12,22.05 L414.54,22.28 L414.95,22.53 L415.37,22.81 L415.79,23.13 L416.21,23.46 L416.62,23.82 L417.04,24.20 L417.46,24.58 L417.88,24.97 L418.29,25.37 L418.71,25.79 L419.13,26.23 L419.55,26.68 L419.96,27.16 L420.38,27.66 L420.80,28.18 L421.22,28.72 L421.64,29.28 L422.05,29.87 L422.47,30.49 L422.89,31.14 L423.31,31.82 L423.72,32.54 L424.14,33.30 L424.56,34.11 L424.98,34.98 L425.39,35.89 L425.81,36.87 L426.23,37.91 L426.65,39.03 L427.06,40.27 L427.48,41.65 L427.90,43.14 L428.32,44.71 L428.73,46.31 L429.15,47.91 L429.57,49.51 L429.99,51.11 L430.40,52.75 L430.82,54.44 L431.24,56.18 L431.66,58.00 L432.07,59.90 L432.49,61.92 L432.91,64.06 L433.33,66.31 L433.74,68.66 L434.16,71.08 L434.58,73.56 L435.00,76.09 L435.41,78.68 L435.83,81.36 L436.25,84.11 L436.67,86.93 L437.08,89.83 L437.50,92.78 L437.92,95.80 L438.34,98.92 L438.75,102.15 L439.17,105.44 L439.59,108.77 L440.01,112.13 L440.42,115.49 L440.84,118.91 L441.26,122.47 L441.68,126.11 L442.09,129.73 L442.51,133.27 L442.93,136.63 L443.35,139.74 L443.76,142.54 L444.18,145.07 L444.60,147.40" fill="none" stroke="#5fd2a0" stroke-width="0.9"/>
<circle cx="279.34" cy="15.50" r="2.1" fill="url(#gg)"/>
<circle cx="282.22" cy="15.50" r="2.1" fill="url(#gg)"/>
<circle cx="285.10" cy="15.50" r="2.1" fill="url(#gg)"/>
<circle cx="287.98" cy="15.50" r="2.1" fill="url(#gg)"/>
<circle cx="290.86" cy="15.50" r="2.1" fill="url(#gg)"/>
<circle cx="293.74" cy="15.51" r="2.1" fill="url(#gg)"/>
<circle cx="296.62" cy="15.51" r="2.1" fill="url(#gg)"/>
<circle cx="299.50" cy="15.51" r="2.1" fill="url(#gg)"/>
<circle cx="302.38" cy="15.51" r="2.1" fill="url(#gg)"/>
<circle cx="305.26" cy="15.52" r="2.1" fill="url(#gg)"/>
<circle cx="308.14" cy="15.52" r="2.1" fill="url(#gg)"/>
<circle cx="311.02" cy="15.53" r="2.1" fill="url(#gg)"/>
<circle cx="313.90" cy="15.53" r="2.1" fill="url(#gg)"/>
<circle cx="316.78" cy="15.54" r="2.1" fill="url(#gg)"/>
<circle cx="319.66" cy="15.54" r="2.1" fill="url(#gg)"/>
<circle cx="322.54" cy="15.55" r="2.1" fill="url(#gg)"/>
<circle cx="325.42" cy="15.56" r="2.1" fill="url(#gg)"/>
<circle cx="328.30" cy="15.57" r="2.1" fill="url(#gg)"/>
<circle cx="331.18" cy="15.58" r="2.1" fill="url(#gg)"/>
<circle cx="334.06" cy="15.59" r="2.1" fill="url(#gg)"/>
<circle cx="336.94" cy="15.60" r="2.1" fill="url(#gg)"/>
<circle cx="339.82" cy="15.61" r="2.1" fill="url(#gg)"/>
<circle cx="342.70" cy="15.62" r="2.1" fill="url(#gg)"/>
<circle cx="345.58" cy="15.63" r="2.1" fill="url(#gg)"/>
<circle cx="348.46" cy="15.64" r="2.1" fill="url(#gg)"/>
<circle cx="351.34" cy="15.66" r="2.1" fill="url(#gg)"/>
<circle cx="354.22" cy="15.67" r="2.1" fill="url(#gg)"/>
<circle cx="357.10" cy="15.68" r="2.1" fill="url(#gg)"/>
<circle cx="359.98" cy="15.70" r="2.1" fill="url(#gg)"/>
<circle cx="362.86" cy="15.73" r="2.1" fill="url(#gg)"/>
<circle cx="365.74" cy="15.80" r="2.1" fill="url(#gg)"/>
<circle cx="368.62" cy="15.90" r="2.1" fill="url(#gg)"/>
<circle cx="371.50" cy="16.02" r="2.1" fill="url(#gg)"/>
<circle cx="374.38" cy="16.16" r="2.1" fill="url(#gg)"/>
<circle cx="377.26" cy="16.32" r="2.1" fill="url(#gg)"/>
<circle cx="380.14" cy="16.50" r="2.1" fill="url(#gg)"/>
<circle cx="383.02" cy="16.68" r="2.1" fill="url(#gg)"/>
<circle cx="385.90" cy="16.90" r="2.1" fill="url(#gg)"/>
<circle cx="388.78" cy="17.20" r="2.1" fill="url(#gg)"/>
<circle cx="391.66" cy="17.54" r="2.1" fill="url(#gg)"/>
<circle cx="394.54" cy="17.85" r="2.1" fill="url(#gg)"/>
<circle cx="397.42" cy="18.11" r="2.1" fill="url(#gg)"/>
<circle cx="400.30" cy="18.31" r="2.1" fill="url(#gg)"/>
<circle cx="403.18" cy="18.55" r="2.1" fill="url(#gg)"/>
<circle cx="406.06" cy="18.90" r="2.1" fill="url(#gg)"/>
<circle cx="408.94" cy="19.70" r="2.1" fill="url(#gg)"/>
<circle cx="411.82" cy="20.98" r="2.1" fill="url(#gg)"/>
<circle cx="414.70" cy="22.38" r="2.1" fill="url(#gg)"/>
<circle cx="417.58" cy="24.69" r="2.1" fill="url(#gg)"/>
<circle cx="420.46" cy="27.75" r="2.1" fill="url(#gg)"/>
<circle cx="423.34" cy="31.88" r="2.1" fill="url(#gg)"/>
<circle cx="426.22" cy="37.89" r="2.1" fill="url(#gg)"/>
<circle cx="429.10" cy="47.72" r="2.1" fill="url(#gg)"/>
<circle cx="431.98" cy="59.47" r="2.1" fill="url(#gg)"/>
<circle cx="434.86" cy="75.26" r="2.1" fill="url(#gg)"/>
<circle cx="437.74" cy="94.49" r="2.1" fill="url(#gg)"/>
<circle cx="440.62" cy="117.07" r="2.1" fill="url(#gg)"/>
<circle cx="443.50" cy="140.80" r="2.1" fill="url(#gg)"/>
<line x1="280.3" y1="119.9" x2="303.2" y2="119.9" stroke="#bd5a4b" stroke-width="1"/>
<circle cx="292" cy="119.9" r="2.1" fill="url(#rg)"/>
<line x1="280.3" y1="134.4" x2="303.2" y2="134.4" stroke="#5fd2a0" stroke-width="1"/>
<circle cx="292" cy="134.4" r="2.1" fill="url(#gg)"/>
<text x="307.90" y="123.90" font-size="11" font-weight="bold" font-style="normal" fill="#b5473a" text-anchor="start" textLength="40.7" lengthAdjust="spacingAndGlyphs" >Control</text>
<text x="307.90" y="138.40" font-size="11" font-weight="bold" font-style="normal" fill="#4bc990" text-anchor="start" textLength="27.3" lengthAdjust="spacingAndGlyphs" >ADAI</text>
<text x="357.00" y="123.90" font-size="11" font-weight="bold" font-style="normal" fill="#b5473a" text-anchor="start" textLength="68.7" lengthAdjust="spacingAndGlyphs" >PCE=20.05%</text>
<text x="357.00" y="138.40" font-size="11" font-weight="bold" font-style="normal" fill="#4bc990" text-anchor="start" textLength="69.4" lengthAdjust="spacingAndGlyphs" >PCE=23.52%</text>
<text x="283.40" y="108.40" font-size="11.0" font-weight="bold" font-style="italic" fill="#1e288c" text-anchor="start" >Working area: 1 cm<tspan dy="-3.5">2</tspan></text>
<g><rect x="313.1" y="52.3" width="50.9" height="35.2" fill="#8a8552"/><rect x="313.1" y="52.3" width="50.9" height="35.2" fill="url(#phg)"/><rect x="316.6" y="56" width="1.2" height="26" fill="#5e5b3a" opacity="0.8"/><rect x="319.8" y="58.7" width="39.5" height="22" fill="#3d3b2b"/><rect x="321.3" y="60.3" width="36.5" height="19.4" fill="#8f8d72"/><rect x="321.3" y="60.3" width="36.5" height="19.4" fill="url(#phi)"/><rect x="315.5" y="81.6" width="47" height="2.4" fill="#d2d0b8"/><rect x="313.1" y="85.6" width="50.9" height="1.9" fill="#55554c"/><rect x="360.5" y="54" width="2" height="31" fill="#6b6842" opacity="0.7"/></g>
<rect x="504.6" y="7.2" width="174.19999999999993" height="140.20000000000002" fill="none" stroke="#000" stroke-width="1.5"/>
<line x1="504.60" y1="147.4" x2="504.60" y2="150.0" stroke="#000" stroke-width="1.2"/>
<text x="504.50" y="160.35" font-size="10.85" font-weight="bold" font-style="normal" fill="#111" text-anchor="middle" >0.0</text>
<line x1="518.95" y1="147.4" x2="518.95" y2="149.0" stroke="#000" stroke-width="1.2"/>
<line x1="533.30" y1="147.4" x2="533.30" y2="150.0" stroke="#000" stroke-width="1.2"/>
<text x="533.20" y="160.35" font-size="10.85" font-weight="bold" font-style="normal" fill="#111" text-anchor="middle" >0.2</text>
<line x1="547.65" y1="147.4" x2="547.65" y2="149.0" stroke="#000" stroke-width="1.2"/>
<line x1="562.00" y1="147.4" x2="562.00" y2="150.0" stroke="#000" stroke-width="1.2"/>
<text x="561.90" y="160.35" font-size="10.85" font-weight="bold" font-style="normal" fill="#111" text-anchor="middle" >0.4</text>
<line x1="576.35" y1="147.4" x2="576.35" y2="149.0" stroke="#000" stroke-width="1.2"/>
<line x1="590.70" y1="147.4" x2="590.70" y2="150.0" stroke="#000" stroke-width="1.2"/>
<text x="590.60" y="160.35" font-size="10.85" font-weight="bold" font-style="normal" fill="#111" text-anchor="middle" >0.6</text>
<line x1="605.05" y1="147.4" x2="605.05" y2="149.0" stroke="#000" stroke-width="1.2"/>
<line x1="619.40" y1="147.4" x2="619.40" y2="150.0" stroke="#000" stroke-width="1.2"/>
<text x="619.30" y="160.35" font-size="10.85" font-weight="bold" font-style="normal" fill="#111" text-anchor="middle" >0.8</text>
<line x1="633.75" y1="147.4" x2="633.75" y2="149.0" stroke="#000" stroke-width="1.2"/>
<line x1="648.10" y1="147.4" x2="648.10" y2="150.0" stroke="#000" stroke-width="1.2"/>
<text x="648.00" y="160.35" font-size="10.85" font-weight="bold" font-style="normal" fill="#111" text-anchor="middle" >1.0</text>
<line x1="662.45" y1="147.4" x2="662.45" y2="149.0" stroke="#000" stroke-width="1.2"/>
<line x1="676.80" y1="147.4" x2="676.80" y2="150.0" stroke="#000" stroke-width="1.2"/>
<text x="676.70" y="160.35" font-size="10.85" font-weight="bold" font-style="normal" fill="#111" text-anchor="middle" >1.2</text>
<line x1="502.0" y1="147.40" x2="504.6" y2="147.40" stroke="#000" stroke-width="1.2"/>
<text x="499.50" y="150.65" font-size="10.8" font-weight="bold" font-style="normal" fill="#111" text-anchor="end" >0</text>
<line x1="503.0" y1="131.85" x2="504.6" y2="131.85" stroke="#000" stroke-width="1.2"/>
<line x1="502.0" y1="116.31" x2="504.6" y2="116.31" stroke="#000" stroke-width="1.2"/>
<text x="499.50" y="119.56" font-size="10.8" font-weight="bold" font-style="normal" fill="#111" text-anchor="end" >6</text>
<line x1="503.0" y1="100.76" x2="504.6" y2="100.76" stroke="#000" stroke-width="1.2"/>
<line x1="502.0" y1="85.22" x2="504.6" y2="85.22" stroke="#000" stroke-width="1.2"/>
<text x="499.50" y="88.47" font-size="10.8" font-weight="bold" font-style="normal" fill="#111" text-anchor="end" >12</text>
<line x1="503.0" y1="69.67" x2="504.6" y2="69.67" stroke="#000" stroke-width="1.2"/>
<line x1="502.0" y1="54.12" x2="504.6" y2="54.12" stroke="#000" stroke-width="1.2"/>
<text x="499.50" y="57.37" font-size="10.8" font-weight="bold" font-style="normal" fill="#111" text-anchor="end" >18</text>
<line x1="503.0" y1="38.58" x2="504.6" y2="38.58" stroke="#000" stroke-width="1.2"/>
<line x1="502.0" y1="23.03" x2="504.6" y2="23.03" stroke="#000" stroke-width="1.2"/>
<text x="499.50" y="26.28" font-size="10.8" font-weight="bold" font-style="normal" fill="#111" text-anchor="end" >24</text>
<text x="590.10" y="173.00" font-size="12.8" font-weight="bold" font-style="normal" fill="#111" text-anchor="middle" >V (V)</text>
<text transform="translate(487.80,86.50) rotate(-90)" x="0" y="0" font-size="16.6" font-weight="bold" fill="#111" text-anchor="middle" textLength="85" lengthAdjust="spacingAndGlyphs">J (mA cm<tspan dy="-4.8">-2</tspan><tspan dy="4.8">)</tspan></text>
<text x="472.00" y="19.40" font-size="24" font-weight="bold" font-style="normal" fill="#111" text-anchor="start" >c</text>
<path d="M505.00,18.70 L505.41,18.69 L505.83,18.69 L506.24,18.68 L506.65,18.67 L507.06,18.66 L507.48,18.66 L507.89,18.65 L508.30,18.64 L508.72,18.64 L509.13,18.63 L509.54,18.62 L509.95,18.62 L510.37,18.61 L510.78,18.60 L511.19,18.59 L511.60,18.59 L512.02,18.58 L512.43,18.57 L512.84,18.57 L513.26,18.56 L513.67,18.55 L514.08,18.55 L514.49,18.54 L514.91,18.53 L515.32,18.53 L515.73,18.52 L516.15,18.51 L516.56,18.51 L516.97,18.50 L517.38,18.49 L517.80,18.49 L518.21,18.48 L518.62,18.47 L519.03,18.47 L519.45,18.46 L519.86,18.45 L520.27,18.45 L520.69,18.44 L521.10,18.43 L521.51,18.43 L521.92,18.42 L522.34,18.41 L522.75,18.41 L523.16,18.40 L523.58,18.40 L523.99,18.39 L524.40,18.38 L524.81,18.38 L525.23,18.37 L525.64,18.36 L526.05,18.36 L526.46,18.35 L526.88,18.35 L527.29,18.34 L527.70,18.33 L528.12,18.33 L528.53,18.32 L528.94,18.32 L529.35,18.31 L529.77,18.30 L530.18,18.30 L530.59,18.29 L531.01,18.29 L531.42,18.28 L531.83,18.28 L532.24,18.27 L532.66,18.26 L533.07,18.26 L533.48,18.25 L533.89,18.25 L534.31,18.24 L534.72,18.24 L535.13,18.23 L535.55,18.22 L535.96,18.22 L536.37,18.21 L536.78,18.21 L537.20,18.20 L537.61,18.20 L538.02,18.19 L538.44,18.19 L538.85,18.18 L539.26,18.18 L539.67,18.17 L540.09,18.17 L540.50,18.16 L540.91,18.16 L541.32,18.15 L541.74,18.15 L542.15,18.14 L542.56,18.14 L542.98,18.13 L543.39,18.13 L543.80,18.12 L544.21,18.12 L544.63,18.11 L545.04,18.11 L545.45,18.10 L545.87,18.10 L546.28,18.10 L546.69,18.09 L547.10,18.09 L547.52,18.08 L547.93,18.08 L548.34,18.07 L548.75,18.07 L549.17,18.07 L549.58,18.06 L549.99,18.06 L550.41,18.05 L550.82,18.05 L551.23,18.05 L551.64,18.04 L552.06,18.04 L552.47,18.03 L552.88,18.03 L553.30,18.03 L553.71,18.02 L554.12,18.02 L554.53,18.02 L554.95,18.01 L555.36,18.01 L555.77,18.01 L556.18,18.00 L556.60,18.00 L557.01,18.00 L557.42,17.99 L557.84,17.99 L558.25,17.99 L558.66,17.98 L559.07,17.98 L559.49,17.98 L559.90,17.97 L560.31,17.97 L560.73,17.97 L561.14,17.97 L561.55,17.96 L561.96,17.96 L562.38,17.96 L562.79,17.95 L563.20,17.95 L563.62,17.95 L564.03,17.95 L564.44,17.94 L564.85,17.94 L565.27,17.94 L565.68,17.94 L566.09,17.94 L566.50,17.93 L566.92,17.93 L567.33,17.93 L567.74,17.93 L568.16,17.93 L568.57,17.92 L568.98,17.92 L569.39,17.92 L569.81,17.92 L570.22,17.92 L570.63,17.92 L571.05,17.92 L571.46,17.91 L571.87,17.91 L572.28,17.91 L572.70,17.91 L573.11,17.91 L573.52,17.91 L573.93,17.91 L574.35,17.91 L574.76,17.91 L575.17,17.90 L575.59,17.90 L576.00,17.90 L576.41,17.90 L576.82,17.90 L577.24,17.90 L577.65,17.90 L578.06,17.90 L578.48,17.90 L578.89,17.90 L579.30,17.90 L579.71,17.90 L580.13,17.90 L580.54,17.90 L580.95,17.90 L581.36,17.90 L581.78,17.90 L582.19,17.90 L582.60,17.90 L583.02,17.90 L583.43,17.90 L583.84,17.90 L584.25,17.90 L584.67,17.90 L585.08,17.90 L585.49,17.90 L585.91,17.90 L586.32,17.90 L586.73,17.90 L587.14,17.90 L587.56,17.90 L587.97,17.90 L588.38,17.90 L588.79,17.90 L589.21,17.90 L589.62,17.90 L590.03,17.90 L590.45,17.90 L590.86,17.90 L591.27,17.90 L591.68,17.90 L592.10,17.90 L592.51,17.90 L592.92,17.90 L593.34,17.90 L593.75,17.90 L594.16,17.90 L594.57,17.90 L594.99,17.90 L595.40,17.90 L595.81,17.90 L596.22,17.90 L596.64,17.90 L597.05,17.90 L597.46,17.90 L597.88,17.90 L598.29,17.90 L598.70,17.90 L599.11,17.90 L599.53,17.90 L599.94,17.90 L600.35,17.90 L600.77,17.90 L601.18,17.90 L601.59,17.90 L602.00,17.90 L602.42,17.90 L602.83,17.90 L603.24,17.90 L603.65,17.90 L604.07,17.90 L604.48,17.90 L604.89,17.90 L605.31,17.90 L605.72,17.90 L606.13,17.90 L606.54,17.90 L606.96,17.90 L607.37,17.90 L607.78,17.90 L608.20,17.90 L608.61,17.90 L609.02,17.90 L609.43,17.90 L609.85,17.90 L610.26,17.90 L610.67,17.90 L611.08,17.90 L611.50,17.90 L611.91,17.90 L612.32,17.90 L612.74,17.90 L613.15,17.90 L613.56,17.90 L613.97,17.90 L614.39,17.90 L614.80,17.90 L615.21,17.90 L615.63,17.90 L616.04,17.90 L616.45,17.90 L616.86,17.90 L617.28,17.90 L617.69,17.90 L618.10,17.90 L618.52,17.90 L618.93,17.90 L619.34,17.90 L619.75,17.90 L620.17,17.90 L620.58,17.90 L620.99,17.90 L621.40,17.90 L621.82,17.90 L622.23,17.90 L622.64,17.90 L623.06,17.90 L623.47,17.90 L623.88,17.90 L624.29,17.90 L624.71,17.90 L625.12,17.90 L625.53,17.90 L625.95,17.90 L626.36,17.90 L626.77,17.90 L627.18,17.91 L627.60,17.93 L628.01,17.97 L628.42,18.02 L628.83,18.08 L629.25,18.14 L629.66,18.22 L630.07,18.31 L630.49,18.40 L630.90,18.50 L631.31,18.60 L631.72,18.71 L632.14,18.83 L632.55,18.94 L632.96,19.06 L633.38,19.18 L633.79,19.29 L634.20,19.41 L634.61,19.52 L635.03,19.63 L635.44,19.75 L635.85,19.88 L636.26,20.01 L636.68,20.15 L637.09,20.30 L637.50,20.45 L637.92,20.61 L638.33,20.77 L638.74,20.94 L639.15,21.11 L639.57,21.28 L639.98,21.46 L640.39,21.65 L640.81,21.86 L641.22,22.08 L641.63,22.33 L642.04,22.60 L642.46,22.92 L642.87,23.28 L643.28,23.68 L643.69,24.12 L644.11,24.58 L644.52,25.06 L644.93,25.56 L645.35,26.11 L645.76,26.70 L646.17,27.33 L646.58,27.99 L647.00,28.67 L647.41,29.35 L647.82,30.04 L648.24,30.73 L648.65,31.44 L649.06,32.17 L649.47,32.94 L649.89,33.74 L650.30,34.59 L650.71,35.48 L651.12,36.43 L651.54,37.43 L651.95,38.48 L652.36,39.58 L652.78,40.74 L653.19,41.96 L653.60,43.23 L654.01,44.58 L654.43,46.01 L654.84,47.52 L655.25,49.12 L655.67,50.81 L656.08,52.60 L656.49,54.51 L656.90,56.64 L657.32,58.98 L657.73,61.43 L658.14,63.94 L658.55,66.45 L658.97,68.88 L659.38,71.29 L659.79,73.71 L660.21,76.15 L660.62,78.61 L661.03,81.11 L661.44,83.66 L661.86,86.26 L662.27,88.89 L662.68,91.53 L663.10,94.21 L663.51,96.95 L663.92,99.77 L664.33,102.69 L664.75,105.73 L665.16,108.95 L665.57,112.43 L665.98,116.10 L666.40,119.87 L666.81,123.66 L667.22,127.39 L667.64,130.97 L668.05,134.38 L668.46,137.73 L668.87,141.01 L669.29,144.23 L669.70,147.40" fill="none" stroke="#bd5a4b" stroke-width="0.9"/>
<circle cx="506.98" cy="18.67" r="2.1" fill="url(#rg)"/>
<circle cx="509.85" cy="18.62" r="2.1" fill="url(#rg)"/>
<circle cx="512.72" cy="18.57" r="2.1" fill="url(#rg)"/>
<circle cx="515.59" cy="18.52" r="2.1" fill="url(#rg)"/>
<circle cx="518.46" cy="18.48" r="2.1" fill="url(#rg)"/>
<circle cx="521.33" cy="18.43" r="2.1" fill="url(#rg)"/>
<circle cx="524.20" cy="18.39" r="2.1" fill="url(#rg)"/>
<circle cx="527.07" cy="18.34" r="2.1" fill="url(#rg)"/>
<circle cx="529.94" cy="18.30" r="2.1" fill="url(#rg)"/>
<circle cx="532.81" cy="18.26" r="2.1" fill="url(#rg)"/>
<circle cx="535.68" cy="18.22" r="2.1" fill="url(#rg)"/>
<circle cx="538.55" cy="18.19" r="2.1" fill="url(#rg)"/>
<circle cx="541.42" cy="18.15" r="2.1" fill="url(#rg)"/>
<circle cx="544.29" cy="18.12" r="2.1" fill="url(#rg)"/>
<circle cx="547.16" cy="18.09" r="2.1" fill="url(#rg)"/>
<circle cx="550.03" cy="18.06" r="2.1" fill="url(#rg)"/>
<circle cx="552.90" cy="18.03" r="2.1" fill="url(#rg)"/>
<circle cx="555.77" cy="18.01" r="2.1" fill="url(#rg)"/>
<circle cx="558.64" cy="17.98" r="2.1" fill="url(#rg)"/>
<circle cx="561.51" cy="17.96" r="2.1" fill="url(#rg)"/>
<circle cx="564.38" cy="17.95" r="2.1" fill="url(#rg)"/>
<circle cx="567.25" cy="17.93" r="2.1" fill="url(#rg)"/>
<circle cx="570.12" cy="17.92" r="2.1" fill="url(#rg)"/>
<circle cx="572.99" cy="17.91" r="2.1" fill="url(#rg)"/>
<circle cx="575.86" cy="17.90" r="2.1" fill="url(#rg)"/>
<circle cx="578.73" cy="17.90" r="2.1" fill="url(#rg)"/>
<circle cx="581.60" cy="17.90" r="2.1" fill="url(#rg)"/>
<circle cx="584.47" cy="17.90" r="2.1" fill="url(#rg)"/>
<circle cx="587.34" cy="17.90" r="2.1" fill="url(#rg)"/>
<circle cx="590.21" cy="17.90" r="2.1" fill="url(#rg)"/>
<circle cx="593.08" cy="17.90" r="2.1" fill="url(#rg)"/>
<circle cx="595.95" cy="17.90" r="2.1" fill="url(#rg)"/>
<circle cx="598.82" cy="17.90" r="2.1" fill="url(#rg)"/>
<circle cx="601.69" cy="17.90" r="2.1" fill="url(#rg)"/>
<circle cx="604.56" cy="17.90" r="2.1" fill="url(#rg)"/>
<circle cx="607.43" cy="17.90" r="2.1" fill="url(#rg)"/>
<circle cx="610.30" cy="17.90" r="2.1" fill="url(#rg)"/>
<circle cx="613.17" cy="17.90" r="2.1" fill="url(#rg)"/>
<circle cx="616.04" cy="17.90" r="2.1" fill="url(#rg)"/>
<circle cx="618.91" cy="17.90" r="2.1" fill="url(#rg)"/>
<circle cx="621.78" cy="17.90" r="2.1" fill="url(#rg)"/>
<circle cx="624.65" cy="17.90" r="2.1" fill="url(#rg)"/>
<circle cx="627.52" cy="17.93" r="2.1" fill="url(#rg)"/>
<circle cx="630.39" cy="18.38" r="2.1" fill="url(#rg)"/>
<circle cx="633.26" cy="19.14" r="2.1" fill="url(#rg)"/>
<circle cx="636.13" cy="19.97" r="2.1" fill="url(#rg)"/>
<circle cx="639.00" cy="21.04" r="2.1" fill="url(#rg)"/>
<circle cx="641.87" cy="22.48" r="2.1" fill="url(#rg)"/>
<circle cx="644.74" cy="25.33" r="2.1" fill="url(#rg)"/>
<circle cx="647.61" cy="29.68" r="2.1" fill="url(#rg)"/>
<circle cx="650.48" cy="34.97" r="2.1" fill="url(#rg)"/>
<circle cx="653.35" cy="42.45" r="2.1" fill="url(#rg)"/>
<circle cx="656.22" cy="53.24" r="2.1" fill="url(#rg)"/>
<circle cx="659.09" cy="69.60" r="2.1" fill="url(#rg)"/>
<circle cx="661.96" cy="86.92" r="2.1" fill="url(#rg)"/>
<circle cx="664.83" cy="106.37" r="2.1" fill="url(#rg)"/>
<circle cx="667.70" cy="131.50" r="2.1" fill="url(#rg)"/>
<path d="M505.00,12.40 L505.43,12.40 L505.86,12.41 L506.28,12.41 L506.71,12.41 L507.14,12.41 L507.57,12.42 L508.00,12.42 L508.43,12.42 L508.85,12.42 L509.28,12.43 L509.71,12.43 L510.14,12.43 L510.57,12.44 L511.00,12.44 L511.42,12.44 L511.85,12.45 L512.28,12.45 L512.71,12.45 L513.14,12.45 L513.57,12.46 L513.99,12.46 L514.42,12.46 L514.85,12.47 L515.28,12.47 L515.71,12.47 L516.14,12.48 L516.56,12.48 L516.99,12.48 L517.42,12.49 L517.85,12.49 L518.28,12.49 L518.71,12.50 L519.13,12.50 L519.56,12.50 L519.99,12.51 L520.42,12.51 L520.85,12.52 L521.28,12.52 L521.70,12.52 L522.13,12.53 L522.56,12.53 L522.99,12.53 L523.42,12.54 L523.85,12.54 L524.27,12.55 L524.70,12.55 L525.13,12.55 L525.56,12.56 L525.99,12.56 L526.42,12.56 L526.84,12.57 L527.27,12.57 L527.70,12.58 L528.13,12.58 L528.56,12.58 L528.99,12.59 L529.41,12.59 L529.84,12.60 L530.27,12.60 L530.70,12.61 L531.13,12.61 L531.56,12.61 L531.98,12.62 L532.41,12.62 L532.84,12.63 L533.27,12.63 L533.70,12.63 L534.13,12.64 L534.55,12.64 L534.98,12.65 L535.41,12.65 L535.84,12.66 L536.27,12.66 L536.70,12.67 L537.12,12.67 L537.55,12.67 L537.98,12.68 L538.41,12.68 L538.84,12.69 L539.27,12.69 L539.69,12.70 L540.12,12.70 L540.55,12.71 L540.98,12.71 L541.41,12.72 L541.84,12.72 L542.26,12.73 L542.69,12.73 L543.12,12.73 L543.55,12.74 L543.98,12.74 L544.41,12.75 L544.83,12.75 L545.26,12.76 L545.69,12.76 L546.12,12.77 L546.55,12.77 L546.98,12.78 L547.40,12.78 L547.83,12.79 L548.26,12.79 L548.69,12.80 L549.12,12.80 L549.55,12.81 L549.97,12.81 L550.40,12.82 L550.83,12.82 L551.26,12.83 L551.69,12.83 L552.12,12.84 L552.54,12.84 L552.97,12.85 L553.40,12.85 L553.83,12.86 L554.26,12.86 L554.69,12.87 L555.11,12.87 L555.54,12.88 L555.97,12.89 L556.40,12.89 L556.83,12.90 L557.26,12.90 L557.68,12.91 L558.11,12.91 L558.54,12.92 L558.97,12.92 L559.40,12.93 L559.83,12.93 L560.25,12.94 L560.68,12.94 L561.11,12.95 L561.54,12.95 L561.97,12.96 L562.39,12.97 L562.82,12.97 L563.25,12.98 L563.68,12.98 L564.11,12.99 L564.54,12.99 L564.96,13.00 L565.39,13.00 L565.82,13.01 L566.25,13.02 L566.68,13.02 L567.11,13.03 L567.53,13.03 L567.96,13.04 L568.39,13.04 L568.82,13.05 L569.25,13.05 L569.68,13.06 L570.10,13.07 L570.53,13.07 L570.96,13.08 L571.39,13.08 L571.82,13.09 L572.25,13.09 L572.67,13.10 L573.10,13.11 L573.53,13.11 L573.96,13.12 L574.39,13.12 L574.82,13.13 L575.24,13.13 L575.67,13.14 L576.10,13.15 L576.53,13.15 L576.96,13.16 L577.39,13.16 L577.81,13.17 L578.24,13.18 L578.67,13.18 L579.10,13.19 L579.53,13.19 L579.96,13.20 L580.38,13.21 L580.81,13.21 L581.24,13.22 L581.67,13.22 L582.10,13.23 L582.53,13.23 L582.95,13.24 L583.38,13.24 L583.81,13.25 L584.24,13.25 L584.67,13.26 L585.10,13.26 L585.52,13.27 L585.95,13.27 L586.38,13.28 L586.81,13.28 L587.24,13.29 L587.67,13.29 L588.09,13.30 L588.52,13.30 L588.95,13.31 L589.38,13.31 L589.81,13.32 L590.24,13.32 L590.66,13.32 L591.09,13.33 L591.52,13.33 L591.95,13.34 L592.38,13.34 L592.81,13.35 L593.23,13.35 L593.66,13.35 L594.09,13.36 L594.52,13.36 L594.95,13.37 L595.38,13.37 L595.80,13.38 L596.23,13.38 L596.66,13.38 L597.09,13.39 L597.52,13.39 L597.95,13.40 L598.37,13.40 L598.80,13.41 L599.23,13.41 L599.66,13.42 L600.09,13.42 L600.52,13.42 L600.94,13.43 L601.37,13.43 L601.80,13.44 L602.23,13.44 L602.66,13.45 L603.09,13.45 L603.51,13.46 L603.94,13.46 L604.37,13.47 L604.80,13.47 L605.23,13.48 L605.66,13.48 L606.08,13.49 L606.51,13.49 L606.94,13.50 L607.37,13.50 L607.80,13.51 L608.23,13.51 L608.65,13.52 L609.08,13.53 L609.51,13.53 L609.94,13.54 L610.37,13.54 L610.80,13.55 L611.22,13.56 L611.65,13.56 L612.08,13.57 L612.51,13.58 L612.94,13.58 L613.37,13.59 L613.79,13.60 L614.22,13.60 L614.65,13.61 L615.08,13.62 L615.51,13.63 L615.94,13.63 L616.36,13.64 L616.79,13.65 L617.22,13.66 L617.65,13.67 L618.08,13.67 L618.51,13.68 L618.93,13.69 L619.36,13.70 L619.79,13.71 L620.22,13.72 L620.65,13.73 L621.07,13.74 L621.50,13.75 L621.93,13.76 L622.36,13.77 L622.79,13.78 L623.22,13.79 L623.64,13.80 L624.07,13.81 L624.50,13.82 L624.93,13.83 L625.36,13.84 L625.79,13.86 L626.21,13.87 L626.64,13.88 L627.07,13.89 L627.50,13.90 L627.93,13.92 L628.36,13.93 L628.78,13.94 L629.21,13.96 L629.64,13.97 L630.07,13.98 L630.50,14.00 L630.93,14.01 L631.35,14.03 L631.78,14.04 L632.21,14.06 L632.64,14.07 L633.07,14.09 L633.50,14.10 L633.92,14.12 L634.35,14.13 L634.78,14.15 L635.21,14.17 L635.64,14.18 L636.07,14.20 L636.49,14.22 L636.92,14.24 L637.35,14.25 L637.78,14.27 L638.21,14.29 L638.64,14.31 L639.06,14.34 L639.49,14.38 L639.92,14.43 L640.35,14.49 L640.78,14.56 L641.21,14.63 L641.63,14.72 L642.06,14.82 L642.49,14.92 L642.92,15.03 L643.35,15.15 L643.78,15.28 L644.20,15.41 L644.63,15.55 L645.06,15.70 L645.49,15.86 L645.92,16.02 L646.35,16.19 L646.77,16.36 L647.20,16.54 L647.63,16.73 L648.06,16.92 L648.49,17.12 L648.92,17.32 L649.34,17.52 L649.77,17.74 L650.20,17.95 L650.63,18.21 L651.06,18.51 L651.49,18.86 L651.91,19.24 L652.34,19.66 L652.77,20.11 L653.20,20.58 L653.63,21.08 L654.06,21.59 L654.48,22.11 L654.91,22.64 L655.34,23.21 L655.77,23.82 L656.20,24.49 L656.63,25.20 L657.05,25.96 L657.48,26.77 L657.91,27.65 L658.34,28.64 L658.77,29.71 L659.20,30.84 L659.62,32.01 L660.05,33.21 L660.48,34.46 L660.91,35.77 L661.34,37.16 L661.77,38.64 L662.19,40.24 L662.62,42.01 L663.05,43.91 L663.48,45.93 L663.91,48.04 L664.34,50.22 L664.76,52.51 L665.19,54.91 L665.62,57.42 L666.05,60.05 L666.48,62.81 L666.91,65.78 L667.33,68.90 L667.76,72.08 L668.19,75.27 L668.62,78.43 L669.05,81.61 L669.48,84.86 L669.90,88.23 L670.33,91.77 L670.76,95.51 L671.19,99.42 L671.62,103.50 L672.05,107.72 L672.47,112.11 L672.90,116.86 L673.33,121.79 L673.76,126.65 L674.19,131.19 L674.62,135.47 L675.04,139.61 L675.47,143.59 L675.90,147.40" fill="none" stroke="#5fd2a0" stroke-width="0.9"/>
<circle cx="505.64" cy="12.40" r="2.25" fill="url(#gg)"/>
<circle cx="507.62" cy="12.42" r="2.25" fill="url(#gg)"/>
<circle cx="509.60" cy="12.43" r="2.25" fill="url(#gg)"/>
<circle cx="511.58" cy="12.44" r="2.25" fill="url(#gg)"/>
<circle cx="513.56" cy="12.46" r="2.25" fill="url(#gg)"/>
<circle cx="515.54" cy="12.47" r="2.25" fill="url(#gg)"/>
<circle cx="517.52" cy="12.49" r="2.25" fill="url(#gg)"/>
<circle cx="519.50" cy="12.50" r="2.25" fill="url(#gg)"/>
<circle cx="521.48" cy="12.52" r="2.25" fill="url(#gg)"/>
<circle cx="523.46" cy="12.54" r="2.25" fill="url(#gg)"/>
<circle cx="525.44" cy="12.56" r="2.25" fill="url(#gg)"/>
<circle cx="527.42" cy="12.57" r="2.25" fill="url(#gg)"/>
<circle cx="529.40" cy="12.59" r="2.25" fill="url(#gg)"/>
<circle cx="531.38" cy="12.61" r="2.25" fill="url(#gg)"/>
<circle cx="533.36" cy="12.63" r="2.25" fill="url(#gg)"/>
<circle cx="535.34" cy="12.65" r="2.25" fill="url(#gg)"/>
<circle cx="537.32" cy="12.67" r="2.25" fill="url(#gg)"/>
<circle cx="539.30" cy="12.69" r="2.25" fill="url(#gg)"/>
<circle cx="541.28" cy="12.71" r="2.25" fill="url(#gg)"/>
<circle cx="543.26" cy="12.74" r="2.25" fill="url(#gg)"/>
<circle cx="545.24" cy="12.76" r="2.25" fill="url(#gg)"/>
<circle cx="547.22" cy="12.78" r="2.25" fill="url(#gg)"/>
<circle cx="549.20" cy="12.80" r="2.25" fill="url(#gg)"/>
<circle cx="551.18" cy="12.83" r="2.25" fill="url(#gg)"/>
<circle cx="553.16" cy="12.85" r="2.25" fill="url(#gg)"/>
<circle cx="555.14" cy="12.87" r="2.25" fill="url(#gg)"/>
<circle cx="557.12" cy="12.90" r="2.25" fill="url(#gg)"/>
<circle cx="559.10" cy="12.92" r="2.25" fill="url(#gg)"/>
<circle cx="561.08" cy="12.95" r="2.25" fill="url(#gg)"/>
<circle cx="563.06" cy="12.97" r="2.25" fill="url(#gg)"/>
<circle cx="565.04" cy="13.00" r="2.25" fill="url(#gg)"/>
<circle cx="567.02" cy="13.03" r="2.25" fill="url(#gg)"/>
<circle cx="569.00" cy="13.05" r="2.25" fill="url(#gg)"/>
<circle cx="570.98" cy="13.08" r="2.25" fill="url(#gg)"/>
<circle cx="572.96" cy="13.10" r="2.25" fill="url(#gg)"/>
<circle cx="574.94" cy="13.13" r="2.25" fill="url(#gg)"/>
<circle cx="576.92" cy="13.16" r="2.25" fill="url(#gg)"/>
<circle cx="578.90" cy="13.18" r="2.25" fill="url(#gg)"/>
<circle cx="580.88" cy="13.21" r="2.25" fill="url(#gg)"/>
<circle cx="582.86" cy="13.24" r="2.25" fill="url(#gg)"/>
<circle cx="584.84" cy="13.26" r="2.25" fill="url(#gg)"/>
<circle cx="586.82" cy="13.28" r="2.25" fill="url(#gg)"/>
<circle cx="588.80" cy="13.31" r="2.25" fill="url(#gg)"/>
<circle cx="590.78" cy="13.33" r="2.25" fill="url(#gg)"/>
<circle cx="592.76" cy="13.35" r="2.25" fill="url(#gg)"/>
<circle cx="594.74" cy="13.37" r="2.25" fill="url(#gg)"/>
<circle cx="596.72" cy="13.39" r="2.25" fill="url(#gg)"/>
<circle cx="598.70" cy="13.41" r="2.25" fill="url(#gg)"/>
<circle cx="600.68" cy="13.43" r="2.25" fill="url(#gg)"/>
<circle cx="602.66" cy="13.45" r="2.25" fill="url(#gg)"/>
<circle cx="604.64" cy="13.47" r="2.25" fill="url(#gg)"/>
<circle cx="606.62" cy="13.49" r="2.25" fill="url(#gg)"/>
<circle cx="608.60" cy="13.52" r="2.25" fill="url(#gg)"/>
<circle cx="610.58" cy="13.55" r="2.25" fill="url(#gg)"/>
<circle cx="612.56" cy="13.58" r="2.25" fill="url(#gg)"/>
<circle cx="614.54" cy="13.61" r="2.25" fill="url(#gg)"/>
<circle cx="616.52" cy="13.65" r="2.25" fill="url(#gg)"/>
<circle cx="618.50" cy="13.68" r="2.25" fill="url(#gg)"/>
<circle cx="620.48" cy="13.73" r="2.25" fill="url(#gg)"/>
<circle cx="622.46" cy="13.77" r="2.25" fill="url(#gg)"/>
<circle cx="624.44" cy="13.82" r="2.25" fill="url(#gg)"/>
<circle cx="626.42" cy="13.87" r="2.25" fill="url(#gg)"/>
<circle cx="628.40" cy="13.93" r="2.25" fill="url(#gg)"/>
<circle cx="630.38" cy="13.99" r="2.25" fill="url(#gg)"/>
<circle cx="632.36" cy="14.06" r="2.25" fill="url(#gg)"/>
<circle cx="634.34" cy="14.13" r="2.25" fill="url(#gg)"/>
<circle cx="636.32" cy="14.21" r="2.25" fill="url(#gg)"/>
<circle cx="638.30" cy="14.30" r="2.25" fill="url(#gg)"/>
<circle cx="640.28" cy="14.48" r="2.25" fill="url(#gg)"/>
<circle cx="642.26" cy="14.86" r="2.25" fill="url(#gg)"/>
<circle cx="644.24" cy="15.42" r="2.25" fill="url(#gg)"/>
<circle cx="646.22" cy="16.14" r="2.25" fill="url(#gg)"/>
<circle cx="648.20" cy="16.98" r="2.25" fill="url(#gg)"/>
<circle cx="650.18" cy="17.94" r="2.25" fill="url(#gg)"/>
<circle cx="652.16" cy="19.48" r="2.25" fill="url(#gg)"/>
<circle cx="654.14" cy="21.69" r="2.25" fill="url(#gg)"/>
<circle cx="656.12" cy="24.36" r="2.25" fill="url(#gg)"/>
<circle cx="658.10" cy="28.08" r="2.25" fill="url(#gg)"/>
<circle cx="660.08" cy="33.29" r="2.25" fill="url(#gg)"/>
<circle cx="662.06" cy="39.73" r="2.25" fill="url(#gg)"/>
<circle cx="664.04" cy="48.70" r="2.25" fill="url(#gg)"/>
<circle cx="666.02" cy="59.87" r="2.25" fill="url(#gg)"/>
<circle cx="668.00" cy="73.86" r="2.25" fill="url(#gg)"/>
<circle cx="669.98" cy="88.85" r="2.25" fill="url(#gg)"/>
<circle cx="671.96" cy="106.87" r="2.25" fill="url(#gg)"/>
<circle cx="673.94" cy="128.63" r="2.25" fill="url(#gg)"/>
<line x1="507.3" y1="118.2" x2="531.2" y2="118.2" stroke="#bd5a4b" stroke-width="1"/>
<circle cx="519.5" cy="118.2" r="2.1" fill="url(#rg)"/>
<line x1="507.3" y1="131.8" x2="531.2" y2="131.8" stroke="#5fd2a0" stroke-width="1"/>
<circle cx="519.5" cy="131.8" r="2.1" fill="url(#gg)"/>
<text x="535.40" y="121.30" font-size="11" font-weight="bold" font-style="normal" fill="#b5473a" text-anchor="start" textLength="39" lengthAdjust="spacingAndGlyphs" >Control</text>
<text x="535.40" y="135.30" font-size="11" font-weight="bold" font-style="normal" fill="#4bc990" text-anchor="start" textLength="26.4" lengthAdjust="spacingAndGlyphs" >ADAI</text>
<text x="591.40" y="121.30" font-size="11" font-weight="bold" font-style="normal" fill="#b5473a" text-anchor="start" textLength="66.6" lengthAdjust="spacingAndGlyphs" >PCE=23.02%</text>
<text x="591.40" y="135.30" font-size="11" font-weight="bold" font-style="normal" fill="#4bc990" text-anchor="start" textLength="67.1" lengthAdjust="spacingAndGlyphs" >PCE=25.59%</text>
<text x="508.50" y="90.20" font-size="10.2" font-weight="bold" font-style="italic" fill="#1e288c" text-anchor="start" textLength="95.8" lengthAdjust="spacingAndGlyphs" >Inverted Solar Cell</text>
<text x="507.60" y="108.40" font-size="10.85" font-weight="bold" font-style="italic" fill="#1e288c" text-anchor="start" >Working area: 0.06 cm<tspan dy="-3.5">2</tspan></text>
<line x1="52.5" y1="331.20" x2="680.0" y2="331.20" stroke="#cfcfcf" stroke-width="0.85" stroke-dasharray="1.5,1.7"/>
<line x1="52.5" y1="302.80" x2="680.0" y2="302.80" stroke="#cfcfcf" stroke-width="0.85" stroke-dasharray="1.5,1.7"/>
<line x1="52.5" y1="274.40" x2="680.0" y2="274.40" stroke="#cfcfcf" stroke-width="0.85" stroke-dasharray="1.5,1.7"/>
<line x1="52.5" y1="246.00" x2="680.0" y2="246.00" stroke="#cfcfcf" stroke-width="0.85" stroke-dasharray="1.5,1.7"/>
<line x1="52.5" y1="217.60" x2="680.0" y2="217.60" stroke="#cfcfcf" stroke-width="0.85" stroke-dasharray="1.5,1.7"/>
<circle cx="52.8" cy="205.3" r="3.05" fill="#4ec592"/>
<circle cx="53.4" cy="204.0" r="3.05" fill="#4ec592"/>
<circle cx="54.0" cy="203.8" r="3.05" fill="#4ec592"/>
<circle cx="54.6" cy="204.3" r="3.05" fill="#4ec592"/>
<circle cx="55.2" cy="204.9" r="3.05" fill="#4ec592"/>
<circle cx="55.8" cy="204.7" r="3.05" fill="#4ec592"/>
<circle cx="56.4" cy="204.6" r="3.05" fill="#4ec592"/>
<circle cx="57.0" cy="204.1" r="3.05" fill="#4ec592"/>
<circle cx="57.6" cy="204.6" r="3.05" fill="#4ec592"/>
<circle cx="58.2" cy="204.4" r="3.05" fill="#4ec592"/>
<circle cx="58.8" cy="205.3" r="3.05" fill="#4ec592"/>
<circle cx="59.4" cy="204.4" r="3.05" fill="#4ec592"/>
<circle cx="60.0" cy="204.3" r="3.05" fill="#4ec592"/>
<circle cx="60.6" cy="203.4" r="3.05" fill="#4ec592"/>
<circle cx="61.2" cy="204.9" r="3.05" fill="#4ec592"/>
<circle cx="61.8" cy="204.1" r="3.05" fill="#4ec592"/>
<circle cx="62.4" cy="203.3" r="3.05" fill="#4ec592"/>
<circle cx="63.0" cy="204.6" r="3.05" fill="#4ec592"/>
<circle cx="63.6" cy="203.6" r="3.05" fill="#4ec592"/>
<circle cx="64.2" cy="205.2" r="3.05" fill="#4ec592"/>
<circle cx="64.8" cy="204.8" r="3.05" fill="#4ec592"/>
<circle cx="65.4" cy="204.2" r="3.05" fill="#4ec592"/>
<circle cx="66.0" cy="203.3" r="3.05" fill="#4ec592"/>
<circle cx="66.6" cy="203.2" r="3.05" fill="#4ec592"/>
<circle cx="67.2" cy="204.5" r="3.05" fill="#4ec592"/>
<circle cx="67.8" cy="204.0" r="3.05" fill="#4ec592"/>
<circle cx="68.4" cy="204.4" r="3.05" fill="#4ec592"/>
<circle cx="69.0" cy="204.5" r="3.05" fill="#4ec592"/>
<circle cx="69.6" cy="203.4" r="3.05" fill="#4ec592"/>
<circle cx="70.2" cy="204.6" r="3.05" fill="#4ec592"/>
<circle cx="70.8" cy="204.2" r="3.05" fill="#4ec592"/>
<circle cx="71.4" cy="205.0" r="3.05" fill="#4ec592"/>
<circle cx="72.0" cy="204.1" r="3.05" fill="#4ec592"/>
<circle cx="72.6" cy="203.2" r="3.05" fill="#4ec592"/>
<circle cx="73.2" cy="204.1" r="3.05" fill="#4ec592"/>
<circle cx="73.8" cy="203.8" r="3.05" fill="#4ec592"/>
<circle cx="74.4" cy="204.1" r="3.05" fill="#4ec592"/>
<circle cx="75.0" cy="203.6" r="3.05" fill="#4ec592"/>
<circle cx="75.6" cy="204.4" r="3.05" fill="#4ec592"/>
<circle cx="76.2" cy="205.2" r="3.05" fill="#4ec592"/>
<circle cx="76.8" cy="204.5" r="3.05" fill="#4ec592"/>
<circle cx="77.4" cy="204.7" r="3.05" fill="#4ec592"/>
<circle cx="78.0" cy="204.2" r="3.05" fill="#4ec592"/>
<circle cx="78.6" cy="203.2" r="3.05" fill="#4ec592"/>
<circle cx="79.2" cy="204.5" r="3.05" fill="#4ec592"/>
<circle cx="79.8" cy="203.7" r="3.05" fill="#4ec592"/>
<circle cx="80.4" cy="204.1" r="3.05" fill="#4ec592"/>
<circle cx="81.0" cy="205.1" r="3.05" fill="#4ec592"/>
<circle cx="81.6" cy="206.6" r="3.05" fill="#4ec592"/>
<circle cx="82.2" cy="204.7" r="3.05" fill="#4ec592"/>
<circle cx="82.8" cy="203.9" r="3.05" fill="#4ec592"/>
<circle cx="83.4" cy="204.3" r="3.05" fill="#4ec592"/>
<circle cx="84.0" cy="204.1" r="3.05" fill="#4ec592"/>
<circle cx="84.6" cy="204.0" r="3.05" fill="#4ec592"/>
<circle cx="85.2" cy="204.6" r="3.05" fill="#4ec592"/>
<circle cx="85.8" cy="203.5" r="3.05" fill="#4ec592"/>
<circle cx="86.4" cy="205.2" r="3.05" fill="#4ec592"/>
<circle cx="87.0" cy="204.4" r="3.05" fill="#4ec592"/>
<circle cx="87.6" cy="205.4" r="3.05" fill="#4ec592"/>
<circle cx="88.2" cy="204.1" r="3.05" fill="#4ec592"/>
<circle cx="88.8" cy="205.0" r="3.05" fill="#4ec592"/>
<circle cx="89.4" cy="204.7" r="3.05" fill="#4ec592"/>
<circle cx="90.0" cy="204.4" r="3.05" fill="#4ec592"/>
<circle cx="90.6" cy="204.1" r="3.05" fill="#4ec592"/>
<circle cx="91.2" cy="204.1" r="3.05" fill="#4ec592"/>
<circle cx="91.8" cy="203.9" r="3.05" fill="#4ec592"/>
<circle cx="92.4" cy="204.3" r="3.05" fill="#4ec592"/>
<circle cx="93.0" cy="204.8" r="3.05" fill="#4ec592"/>
<circle cx="93.6" cy="205.0" r="3.05" fill="#4ec592"/>
<circle cx="94.2" cy="204.6" r="3.05" fill="#4ec592"/>
<circle cx="94.8" cy="204.0" r="3.05" fill="#4ec592"/>
<circle cx="95.4" cy="204.2" r="3.05" fill="#4ec592"/>
<circle cx="96.0" cy="204.1" r="3.05" fill="#4ec592"/>
<circle cx="96.6" cy="204.5" r="3.05" fill="#4ec592"/>
<circle cx="97.2" cy="204.5" r="3.05" fill="#4ec592"/>
<circle cx="97.8" cy="203.6" r="3.05" fill="#4ec592"/>
<circle cx="98.4" cy="204.0" r="3.05" fill="#4ec592"/>
<circle cx="99.0" cy="204.7" r="3.05" fill="#4ec592"/>
<circle cx="99.6" cy="203.7" r="3.05" fill="#4ec592"/>
<circle cx="100.2" cy="204.1" r="3.05" fill="#4ec592"/>
<circle cx="100.8" cy="204.3" r="3.05" fill="#4ec592"/>
<circle cx="101.4" cy="203.9" r="3.05" fill="#4ec592"/>
<circle cx="102.0" cy="204.4" r="3.05" fill="#4ec592"/>
<circle cx="102.6" cy="203.4" r="3.05" fill="#4ec592"/>
<circle cx="103.2" cy="205.1" r="3.05" fill="#4ec592"/>
<circle cx="103.8" cy="205.5" r="3.05" fill="#4ec592"/>
<circle cx="104.4" cy="203.5" r="3.05" fill="#4ec592"/>
<circle cx="105.0" cy="204.9" r="3.05" fill="#4ec592"/>
<circle cx="105.6" cy="203.9" r="3.05" fill="#4ec592"/>
<circle cx="106.2" cy="204.7" r="3.05" fill="#4ec592"/>
<circle cx="106.8" cy="205.6" r="3.05" fill="#4ec592"/>
<circle cx="107.4" cy="203.6" r="3.05" fill="#4ec592"/>
<circle cx="108.0" cy="204.8" r="3.05" fill="#4ec592"/>
<circle cx="108.6" cy="205.1" r="3.05" fill="#4ec592"/>
<circle cx="109.2" cy="203.8" r="3.05" fill="#4ec592"/>
<circle cx="109.8" cy="204.0" r="3.05" fill="#4ec592"/>
<circle cx="110.4" cy="204.4" r="3.05" fill="#4ec592"/>
<circle cx="111.0" cy="205.1" r="3.05" fill="#4ec592"/>
<circle cx="111.6" cy="205.1" r="3.05" fill="#4ec592"/>
<circle cx="112.2" cy="204.8" r="3.05" fill="#4ec592"/>
<circle cx="112.8" cy="204.2" r="3.05" fill="#4ec592"/>
<circle cx="113.4" cy="204.7" r="3.05" fill="#4ec592"/>
<circle cx="114.0" cy="204.6" r="3.05" fill="#4ec592"/>
<circle cx="114.6" cy="203.4" r="3.05" fill="#4ec592"/>
<circle cx="115.2" cy="204.4" r="3.05" fill="#4ec592"/>
<circle cx="115.8" cy="205.2" r="3.05" fill="#4ec592"/>
<circle cx="116.4" cy="204.7" r="3.05" fill="#4ec592"/>
<circle cx="117.0" cy="204.1" r="3.05" fill="#4ec592"/>
<circle cx="117.6" cy="203.3" r="3.05" fill="#4ec592"/>
<circle cx="118.2" cy="205.8" r="3.05" fill="#4ec592"/>
<circle cx="118.8" cy="203.4" r="3.05" fill="#4ec592"/>
<circle cx="119.4" cy="204.9" r="3.05" fill="#4ec592"/>
<circle cx="120.0" cy="205.1" r="3.05" fill="#4ec592"/>
<circle cx="120.6" cy="204.6" r="3.05" fill="#4ec592"/>
<circle cx="121.2" cy="203.7" r="3.05" fill="#4ec592"/>
<circle cx="121.8" cy="203.7" r="3.05" fill="#4ec592"/>
<circle cx="122.4" cy="204.7" r="3.05" fill="#4ec592"/>
<circle cx="123.0" cy="205.0" r="3.05" fill="#4ec592"/>
<circle cx="123.6" cy="203.9" r="3.05" fill="#4ec592"/>
<circle cx="124.2" cy="204.4" r="3.05" fill="#4ec592"/>
<circle cx="124.8" cy="204.9" r="3.05" fill="#4ec592"/>
<circle cx="125.4" cy="204.2" r="3.05" fill="#4ec592"/>
<circle cx="126.0" cy="204.2" r="3.05" fill="#4ec592"/>
<circle cx="126.6" cy="204.6" r="3.05" fill="#4ec592"/>
<circle cx="127.2" cy="204.7" r="3.05" fill="#4ec592"/>
<circle cx="127.8" cy="205.6" r="3.05" fill="#4ec592"/>
<circle cx="128.4" cy="204.5" r="3.05" fill="#4ec592"/>
<circle cx="129.0" cy="204.5" r="3.05" fill="#4ec592"/>
<circle cx="129.6" cy="204.0" r="3.05" fill="#4ec592"/>
<circle cx="130.2" cy="204.6" r="3.05" fill="#4ec592"/>
<circle cx="130.8" cy="206.6" r="3.05" fill="#4ec592"/>
<circle cx="131.4" cy="205.0" r="3.05" fill="#4ec592"/>
<circle cx="132.0" cy="204.5" r="3.05" fill="#4ec592"/>
<circle cx="132.6" cy="204.3" r="3.05" fill="#4ec592"/>
<circle cx="133.2" cy="204.9" r="3.05" fill="#4ec592"/>
<circle cx="133.8" cy="205.3" r="3.05" fill="#4ec592"/>
<circle cx="134.4" cy="204.3" r="3.05" fill="#4ec592"/>
<circle cx="135.0" cy="204.8" r="3.05" fill="#4ec592"/>
<circle cx="135.6" cy="205.4" r="3.05" fill="#4ec592"/>
<circle cx="136.2" cy="204.7" r="3.05" fill="#4ec592"/>
<circle cx="136.8" cy="205.5" r="3.05" fill="#4ec592"/>
<circle cx="137.4" cy="204.3" r="3.05" fill="#4ec592"/>
<circle cx="138.0" cy="204.6" r="3.05" fill="#4ec592"/>
<circle cx="138.6" cy="204.6" r="3.05" fill="#4ec592"/>
<circle cx="139.2" cy="204.7" r="3.05" fill="#4ec592"/>
<circle cx="139.8" cy="205.3" r="3.05" fill="#4ec592"/>
<circle cx="140.4" cy="204.4" r="3.05" fill="#4ec592"/>
<circle cx="141.0" cy="204.1" r="3.05" fill="#4ec592"/>
<circle cx="141.6" cy="205.5" r="3.05" fill="#4ec592"/>
<circle cx="142.2" cy="205.2" r="3.05" fill="#4ec592"/>
<circle cx="142.8" cy="203.7" r="3.05" fill="#4ec592"/>
<circle cx="143.4" cy="205.0" r="3.05" fill="#4ec592"/>
<circle cx="144.0" cy="205.6" r="3.05" fill="#4ec592"/>
<circle cx="144.6" cy="204.8" r="3.05" fill="#4ec592"/>
<circle cx="145.2" cy="204.5" r="3.05" fill="#4ec592"/>
<circle cx="145.8" cy="205.2" r="3.05" fill="#4ec592"/>
<circle cx="146.4" cy="205.1" r="3.05" fill="#4ec592"/>
<circle cx="147.0" cy="204.4" r="3.05" fill="#4ec592"/>
<circle cx="147.6" cy="204.5" r="3.05" fill="#4ec592"/>
<circle cx="148.2" cy="204.6" r="3.05" fill="#4ec592"/>
<circle cx="148.8" cy="204.5" r="3.05" fill="#4ec592"/>
<circle cx="149.4" cy="205.6" r="3.05" fill="#4ec592"/>
<circle cx="150.0" cy="203.8" r="3.05" fill="#4ec592"/>
<circle cx="150.6" cy="204.7" r="3.05" fill="#4ec592"/>
<circle cx="151.2" cy="205.1" r="3.05" fill="#4ec592"/>
<circle cx="151.8" cy="204.2" r="3.05" fill="#4ec592"/>
<circle cx="152.4" cy="205.2" r="3.05" fill="#4ec592"/>
<circle cx="153.0" cy="204.9" r="3.05" fill="#4ec592"/>
<circle cx="153.6" cy="204.6" r="3.05" fill="#4ec592"/>
<circle cx="154.2" cy="205.5" r="3.05" fill="#4ec592"/>
<circle cx="154.8" cy="206.0" r="3.05" fill="#4ec592"/>
<circle cx="155.4" cy="204.9" r="3.05" fill="#4ec592"/>
<circle cx="156.0" cy="205.1" r="3.05" fill="#4ec592"/>
<circle cx="156.6" cy="204.8" r="3.05" fill="#4ec592"/>
<circle cx="157.2" cy="205.5" r="3.05" fill="#4ec592"/>
<circle cx="157.8" cy="204.8" r="3.05" fill="#4ec592"/>
<circle cx="158.4" cy="204.2" r="3.05" fill="#4ec592"/>
<circle cx="159.0" cy="204.0" r="3.05" fill="#4ec592"/>
<circle cx="159.6" cy="204.6" r="3.05" fill="#4ec592"/>
<circle cx="160.2" cy="204.2" r="3.05" fill="#4ec592"/>
<circle cx="160.8" cy="204.5" r="3.05" fill="#4ec592"/>
<circle cx="161.4" cy="204.6" r="3.05" fill="#4ec592"/>
<circle cx="162.0" cy="204.5" r="3.05" fill="#4ec592"/>
<circle cx="162.6" cy="205.2" r="3.05" fill="#4ec592"/>
<circle cx="163.2" cy="204.5" r="3.05" fill="#4ec592"/>
<circle cx="163.8" cy="204.3" r="3.05" fill="#4ec592"/>
<circle cx="164.4" cy="204.0" r="3.05" fill="#4ec592"/>
<circle cx="165.0" cy="205.7" r="3.05" fill="#4ec592"/>
<circle cx="165.6" cy="204.9" r="3.05" fill="#4ec592"/>
<circle cx="166.2" cy="205.2" r="3.05" fill="#4ec592"/>
<circle cx="166.8" cy="205.2" r="3.05" fill="#4ec592"/>
<circle cx="167.4" cy="204.2" r="3.05" fill="#4ec592"/>
<circle cx="168.0" cy="205.0" r="3.05" fill="#4ec592"/>
<circle cx="168.6" cy="205.0" r="3.05" fill="#4ec592"/>
<circle cx="169.2" cy="204.2" r="3.05" fill="#4ec592"/>
<circle cx="169.8" cy="204.7" r="3.05" fill="#4ec592"/>
<circle cx="170.4" cy="205.3" r="3.05" fill="#4ec592"/>
<circle cx="171.0" cy="205.6" r="3.05" fill="#4ec592"/>
<circle cx="171.6" cy="206.7" r="3.05" fill="#4ec592"/>
<circle cx="172.2" cy="206.3" r="3.05" fill="#4ec592"/>
<circle cx="172.8" cy="205.1" r="3.05" fill="#4ec592"/>
<circle cx="173.4" cy="205.2" r="3.05" fill="#4ec592"/>
<circle cx="174.0" cy="205.0" r="3.05" fill="#4ec592"/>
<circle cx="174.6" cy="204.7" r="3.05" fill="#4ec592"/>
<circle cx="175.2" cy="205.5" r="3.05" fill="#4ec592"/>
<circle cx="175.8" cy="205.8" r="3.05" fill="#4ec592"/>
<circle cx="176.4" cy="204.8" r="3.05" fill="#4ec592"/>
<circle cx="177.0" cy="204.7" r="3.05" fill="#4ec592"/>
<circle cx="177.6" cy="204.8" r="3.05" fill="#4ec592"/>
<circle cx="178.2" cy="203.9" r="3.05" fill="#4ec592"/>
<circle cx="178.8" cy="205.3" r="3.05" fill="#4ec592"/>
<circle cx="179.4" cy="206.3" r="3.05" fill="#4ec592"/>
<circle cx="180.0" cy="205.2" r="3.05" fill="#4ec592"/>
<circle cx="180.6" cy="204.5" r="3.05" fill="#4ec592"/>
<circle cx="181.2" cy="205.2" r="3.05" fill="#4ec592"/>
<circle cx="181.8" cy="205.6" r="3.05" fill="#4ec592"/>
<circle cx="182.4" cy="205.1" r="3.05" fill="#4ec592"/>
<circle cx="183.0" cy="204.7" r="3.05" fill="#4ec592"/>
<circle cx="183.6" cy="205.3" r="3.05" fill="#4ec592"/>
<circle cx="184.2" cy="205.2" r="3.05" fill="#4ec592"/>
<circle cx="184.8" cy="205.4" r="3.05" fill="#4ec592"/>
<circle cx="185.4" cy="205.8" r="3.05" fill="#4ec592"/>
<circle cx="186.0" cy="204.8" r="3.05" fill="#4ec592"/>
<circle cx="186.6" cy="205.2" r="3.05" fill="#4ec592"/>
<circle cx="187.2" cy="205.4" r="3.05" fill="#4ec592"/>
<circle cx="187.8" cy="205.7" r="3.05" fill="#4ec592"/>
<circle cx="188.4" cy="205.4" r="3.05" fill="#4ec592"/>
<circle cx="189.0" cy="205.9" r="3.05" fill="#4ec592"/>
<circle cx="189.6" cy="205.5" r="3.05" fill="#4ec592"/>
<circle cx="190.2" cy="204.5" r="3.05" fill="#4ec592"/>
<circle cx="190.8" cy="206.3" r="3.05" fill="#4ec592"/>
<circle cx="191.4" cy="205.1" r="3.05" fill="#4ec592"/>
<circle cx="192.0" cy="206.1" r="3.05" fill="#4ec592"/>
<circle cx="192.6" cy="206.3" r="3.05" fill="#4ec592"/>
<circle cx="193.2" cy="205.1" r="3.05" fill="#4ec592"/>
<circle cx="193.8" cy="204.7" r="3.05" fill="#4ec592"/>
<circle cx="194.4" cy="207.4" r="3.05" fill="#4ec592"/>
<circle cx="195.0" cy="205.2" r="3.05" fill="#4ec592"/>
<circle cx="195.6" cy="205.9" r="3.05" fill="#4ec592"/>
<circle cx="196.2" cy="204.0" r="3.05" fill="#4ec592"/>
<circle cx="196.8" cy="205.8" r="3.05" fill="#4ec592"/>
<circle cx="197.4" cy="205.2" r="3.05" fill="#4ec592"/>
<circle cx="198.0" cy="204.8" r="3.05" fill="#4ec592"/>
<circle cx="198.6" cy="205.7" r="3.05" fill="#4ec592"/>
<circle cx="199.2" cy="205.3" r="3.05" fill="#4ec592"/>
<circle cx="199.8" cy="206.3" r="3.05" fill="#4ec592"/>
<circle cx="200.4" cy="206.0" r="3.05" fill="#4ec592"/>
<circle cx="201.0" cy="205.3" r="3.05" fill="#4ec592"/>
<circle cx="201.6" cy="206.0" r="3.05" fill="#4ec592"/>
<circle cx="202.2" cy="205.6" r="3.05" fill="#4ec592"/>
<circle cx="202.8" cy="207.1" r="3.05" fill="#4ec592"/>
<circle cx="203.4" cy="205.3" r="3.05" fill="#4ec592"/>
<circle cx="204.0" cy="206.3" r="3.05" fill="#4ec592"/>
<circle cx="204.6" cy="206.1" r="3.05" fill="#4ec592"/>
<circle cx="205.2" cy="205.5" r="3.05" fill="#4ec592"/>
<circle cx="205.8" cy="205.3" r="3.05" fill="#4ec592"/>
<circle cx="206.4" cy="205.9" r="3.05" fill="#4ec592"/>
<circle cx="207.0" cy="205.5" r="3.05" fill="#4ec592"/>
<circle cx="207.6" cy="207.1" r="3.05" fill="#4ec592"/>
<circle cx="208.2" cy="204.3" r="3.05" fill="#4ec592"/>
<circle cx="208.8" cy="206.0" r="3.05" fill="#4ec592"/>
<circle cx="209.4" cy="205.8" r="3.05" fill="#4ec592"/>
<circle cx="210.0" cy="206.5" r="3.05" fill="#4ec592"/>
<circle cx="210.6" cy="206.7" r="3.05" fill="#4ec592"/>
<circle cx="211.2" cy="206.1" r="3.05" fill="#4ec592"/>
<circle cx="211.8" cy="205.9" r="3.05" fill="#4ec592"/>
<circle cx="212.4" cy="205.7" r="3.05" fill="#4ec592"/>
<circle cx="213.0" cy="206.2" r="3.05" fill="#4ec592"/>
<circle cx="213.6" cy="206.8" r="3.05" fill="#4ec592"/>
<circle cx="214.2" cy="205.4" r="3.05" fill="#4ec592"/>
<circle cx="214.8" cy="206.8" r="3.05" fill="#4ec592"/>
<circle cx="215.4" cy="206.7" r="3.05" fill="#4ec592"/>
<circle cx="216.0" cy="205.9" r="3.05" fill="#4ec592"/>
<circle cx="216.6" cy="205.8" r="3.05" fill="#4ec592"/>
<circle cx="217.2" cy="206.0" r="3.05" fill="#4ec592"/>
<circle cx="217.8" cy="206.3" r="3.05" fill="#4ec592"/>
<circle cx="218.4" cy="205.9" r="3.05" fill="#4ec592"/>
<circle cx="219.0" cy="206.7" r="3.05" fill="#4ec592"/>
<circle cx="219.6" cy="205.4" r="3.05" fill="#4ec592"/>
<circle cx="220.2" cy="206.7" r="3.05" fill="#4ec592"/>
<circle cx="220.8" cy="205.6" r="3.05" fill="#4ec592"/>
<circle cx="221.4" cy="206.5" r="3.05" fill="#4ec592"/>
<circle cx="222.0" cy="207.3" r="3.05" fill="#4ec592"/>
<circle cx="222.6" cy="205.3" r="3.05" fill="#4ec592"/>
<circle cx="223.2" cy="206.0" r="3.05" fill="#4ec592"/>
<circle cx="223.8" cy="206.8" r="3.05" fill="#4ec592"/>
<circle cx="224.4" cy="205.8" r="3.05" fill="#4ec592"/>
<circle cx="225.0" cy="206.8" r="3.05" fill="#4ec592"/>
<circle cx="225.6" cy="206.1" r="3.05" fill="#4ec592"/>
<circle cx="226.2" cy="205.6" r="3.05" fill="#4ec592"/>
<circle cx="226.8" cy="207.6" r="3.05" fill="#4ec592"/>
<circle cx="227.4" cy="206.6" r="3.05" fill="#4ec592"/>
<circle cx="228.0" cy="206.1" r="3.05" fill="#4ec592"/>
<circle cx="228.6" cy="206.6" r="3.05" fill="#4ec592"/>
<circle cx="229.2" cy="206.4" r="3.05" fill="#4ec592"/>
<circle cx="229.8" cy="206.4" r="3.05" fill="#4ec592"/>
<circle cx="230.4" cy="207.7" r="3.05" fill="#4ec592"/>
<circle cx="231.0" cy="206.6" r="3.05" fill="#4ec592"/>
<circle cx="231.6" cy="207.3" r="3.05" fill="#4ec592"/>
<circle cx="232.2" cy="207.1" r="3.05" fill="#4ec592"/>
<circle cx="232.8" cy="207.1" r="3.05" fill="#4ec592"/>
<circle cx="233.4" cy="206.3" r="3.05" fill="#4ec592"/>
<circle cx="234.0" cy="206.5" r="3.05" fill="#4ec592"/>
<circle cx="234.6" cy="206.9" r="3.05" fill="#4ec592"/>
<circle cx="235.2" cy="207.7" r="3.05" fill="#4ec592"/>
<circle cx="235.8" cy="206.3" r="3.05" fill="#4ec592"/>
<circle cx="236.4" cy="206.1" r="3.05" fill="#4ec592"/>
<circle cx="237.0" cy="207.4" r="3.05" fill="#4ec592"/>
<circle cx="237.6" cy="207.5" r="3.05" fill="#4ec592"/>
<circle cx="238.2" cy="207.2" r="3.05" fill="#4ec592"/>
<circle cx="238.8" cy="207.4" r="3.05" fill="#4ec592"/>
<circle cx="239.4" cy="206.9" r="3.05" fill="#4ec592"/>
<circle cx="240.0" cy="207.7" r="3.05" fill="#4ec592"/>
<circle cx="240.6" cy="206.3" r="3.05" fill="#4ec592"/>
<circle cx="241.2" cy="208.1" r="3.05" fill="#4ec592"/>
<circle cx="241.8" cy="207.1" r="3.05" fill="#4ec592"/>
<circle cx="242.4" cy="209.1" r="3.05" fill="#4ec592"/>
<circle cx="243.0" cy="207.9" r="3.05" fill="#4ec592"/>
<circle cx="243.6" cy="208.2" r="3.05" fill="#4ec592"/>
<circle cx="244.2" cy="208.1" r="3.05" fill="#4ec592"/>
<circle cx="244.8" cy="207.8" r="3.05" fill="#4ec592"/>
<circle cx="245.4" cy="208.6" r="3.05" fill="#4ec592"/>
<circle cx="246.0" cy="208.3" r="3.05" fill="#4ec592"/>
<circle cx="246.6" cy="208.7" r="3.05" fill="#4ec592"/>
<circle cx="247.2" cy="207.9" r="3.05" fill="#4ec592"/>
<circle cx="247.8" cy="207.7" r="3.05" fill="#4ec592"/>
<circle cx="248.4" cy="208.8" r="3.05" fill="#4ec592"/>
<circle cx="249.0" cy="208.3" r="3.05" fill="#4ec592"/>
<circle cx="249.6" cy="209.2" r="3.05" fill="#4ec592"/>
<circle cx="250.2" cy="208.6" r="3.05" fill="#4ec592"/>
<circle cx="250.8" cy="208.0" r="3.05" fill="#4ec592"/>
<circle cx="251.4" cy="208.8" r="3.05" fill="#4ec592"/>
<circle cx="252.0" cy="208.7" r="3.05" fill="#4ec592"/>
<circle cx="252.6" cy="208.6" r="3.05" fill="#4ec592"/>
<circle cx="253.2" cy="208.5" r="3.05" fill="#4ec592"/>
<circle cx="253.8" cy="207.8" r="3.05" fill="#4ec592"/>
<circle cx="254.4" cy="208.8" r="3.05" fill="#4ec592"/>
<circle cx="255.0" cy="207.9" r="3.05" fill="#4ec592"/>
<circle cx="255.6" cy="208.5" r="3.05" fill="#4ec592"/>
<circle cx="256.2" cy="209.7" r="3.05" fill="#4ec592"/>
<circle cx="256.8" cy="208.6" r="3.05" fill="#4ec592"/>
<circle cx="257.4" cy="209.4" r="3.05" fill="#4ec592"/>
<circle cx="258.0" cy="208.6" r="3.05" fill="#4ec592"/>
<circle cx="258.6" cy="208.8" r="3.05" fill="#4ec592"/>
<circle cx="259.2" cy="208.9" r="3.05" fill="#4ec592"/>
<circle cx="259.8" cy="209.4" r="3.05" fill="#4ec592"/>
<circle cx="260.4" cy="209.5" r="3.05" fill="#4ec592"/>
<circle cx="261.0" cy="210.2" r="3.05" fill="#4ec592"/>
<circle cx="261.6" cy="209.4" r="3.05" fill="#4ec592"/>
<circle cx="262.2" cy="209.5" r="3.05" fill="#4ec592"/>
<circle cx="262.8" cy="208.3" r="3.05" fill="#4ec592"/>
<circle cx="263.4" cy="210.0" r="3.05" fill="#4ec592"/>
<circle cx="264.0" cy="209.8" r="3.05" fill="#4ec592"/>
<circle cx="264.6" cy="209.0" r="3.05" fill="#4ec592"/>
<circle cx="265.2" cy="208.8" r="3.05" fill="#4ec592"/>
<circle cx="265.8" cy="208.3" r="3.05" fill="#4ec592"/>
<circle cx="266.4" cy="209.3" r="3.05" fill="#4ec592"/>
<circle cx="267.0" cy="209.7" r="3.05" fill="#4ec592"/>
<circle cx="267.6" cy="208.9" r="3.05" fill="#4ec592"/>
<circle cx="268.2" cy="209.6" r="3.05" fill="#4ec592"/>
<circle cx="268.8" cy="209.6" r="3.05" fill="#4ec592"/>
<circle cx="269.4" cy="209.2" r="3.05" fill="#4ec592"/>
<circle cx="270.0" cy="208.9" r="3.05" fill="#4ec592"/>
<circle cx="270.6" cy="209.4" r="3.05" fill="#4ec592"/>
<circle cx="271.2" cy="209.7" r="3.05" fill="#4ec592"/>
<circle cx="271.8" cy="209.0" r="3.05" fill="#4ec592"/>
<circle cx="272.4" cy="208.7" r="3.05" fill="#4ec592"/>
<circle cx="273.0" cy="208.7" r="3.05" fill="#4ec592"/>
<circle cx="273.6" cy="209.2" r="3.05" fill="#4ec592"/>
<circle cx="274.2" cy="208.6" r="3.05" fill="#4ec592"/>
<circle cx="274.8" cy="209.0" r="3.05" fill="#4ec592"/>
<circle cx="275.4" cy="208.5" r="3.05" fill="#4ec592"/>
<circle cx="276.0" cy="209.6" r="3.05" fill="#4ec592"/>
<circle cx="276.6" cy="209.5" r="3.05" fill="#4ec592"/>
<circle cx="277.2" cy="209.5" r="3.05" fill="#4ec592"/>
<circle cx="277.8" cy="208.9" r="3.05" fill="#4ec592"/>
<circle cx="278.4" cy="209.1" r="3.05" fill="#4ec592"/>
<circle cx="279.0" cy="208.9" r="3.05" fill="#4ec592"/>
<circle cx="279.6" cy="209.2" r="3.05" fill="#4ec592"/>
<circle cx="280.2" cy="207.8" r="3.05" fill="#4ec592"/>
<circle cx="280.8" cy="209.5" r="3.05" fill="#4ec592"/>
<circle cx="281.4" cy="210.0" r="3.05" fill="#4ec592"/>
<circle cx="282.0" cy="209.2" r="3.05" fill="#4ec592"/>
<circle cx="282.6" cy="209.4" r="3.05" fill="#4ec592"/>
<circle cx="283.2" cy="209.6" r="3.05" fill="#4ec592"/>
<circle cx="283.8" cy="209.1" r="3.05" fill="#4ec592"/>
<circle cx="284.4" cy="209.9" r="3.05" fill="#4ec592"/>
<circle cx="285.0" cy="209.4" r="3.05" fill="#4ec592"/>
<circle cx="285.6" cy="210.4" r="3.05" fill="#4ec592"/>
<circle cx="286.2" cy="208.7" r="3.05" fill="#4ec592"/>
<circle cx="286.8" cy="210.3" r="3.05" fill="#4ec592"/>
<circle cx="287.4" cy="210.1" r="3.05" fill="#4ec592"/>
<circle cx="288.0" cy="209.9" r="3.05" fill="#4ec592"/>
<circle cx="288.6" cy="210.6" r="3.05" fill="#4ec592"/>
<circle cx="289.2" cy="210.5" r="3.05" fill="#4ec592"/>
<circle cx="289.8" cy="211.1" r="3.05" fill="#4ec592"/>
<circle cx="290.4" cy="209.6" r="3.05" fill="#4ec592"/>
<circle cx="291.0" cy="209.1" r="3.05" fill="#4ec592"/>
<circle cx="291.6" cy="208.8" r="3.05" fill="#4ec592"/>
<circle cx="292.2" cy="209.6" r="3.05" fill="#4ec592"/>
<circle cx="292.8" cy="210.4" r="3.05" fill="#4ec592"/>
<circle cx="293.4" cy="209.2" r="3.05" fill="#4ec592"/>
<circle cx="294.0" cy="209.9" r="3.05" fill="#4ec592"/>
<circle cx="294.6" cy="209.2" r="3.05" fill="#4ec592"/>
<circle cx="295.2" cy="210.4" r="3.05" fill="#4ec592"/>
<circle cx="295.8" cy="209.5" r="3.05" fill="#4ec592"/>
<circle cx="296.4" cy="210.6" r="3.05" fill="#4ec592"/>
<circle cx="297.0" cy="210.5" r="3.05" fill="#4ec592"/>
<circle cx="297.6" cy="210.5" r="3.05" fill="#4ec592"/>
<circle cx="298.2" cy="210.1" r="3.05" fill="#4ec592"/>
<circle cx="298.8" cy="210.6" r="3.05" fill="#4ec592"/>
<circle cx="299.4" cy="209.6" r="3.05" fill="#4ec592"/>
<circle cx="300.0" cy="210.4" r="3.05" fill="#4ec592"/>
<circle cx="300.6" cy="211.4" r="3.05" fill="#4ec592"/>
<circle cx="301.2" cy="211.4" r="3.05" fill="#4ec592"/>
<circle cx="301.8" cy="210.2" r="3.05" fill="#4ec592"/>
<circle cx="302.4" cy="209.5" r="3.05" fill="#4ec592"/>
<circle cx="303.0" cy="211.0" r="3.05" fill="#4ec592"/>
<circle cx="303.6" cy="209.8" r="3.05" fill="#4ec592"/>
<circle cx="304.2" cy="211.1" r="3.05" fill="#4ec592"/>
<circle cx="304.8" cy="210.3" r="3.05" fill="#4ec592"/>
<circle cx="305.4" cy="210.3" r="3.05" fill="#4ec592"/>
<circle cx="306.0" cy="211.1" r="3.05" fill="#4ec592"/>
<circle cx="306.6" cy="210.1" r="3.05" fill="#4ec592"/>
<circle cx="307.2" cy="210.3" r="3.05" fill="#4ec592"/>
<circle cx="307.8" cy="212.0" r="3.05" fill="#4ec592"/>
<circle cx="308.4" cy="209.3" r="3.05" fill="#4ec592"/>
<circle cx="309.0" cy="210.7" r="3.05" fill="#4ec592"/>
<circle cx="309.6" cy="210.3" r="3.05" fill="#4ec592"/>
<circle cx="310.2" cy="210.8" r="3.05" fill="#4ec592"/>
<circle cx="310.8" cy="210.2" r="3.05" fill="#4ec592"/>
<circle cx="311.4" cy="209.7" r="3.05" fill="#4ec592"/>
<circle cx="312.0" cy="209.8" r="3.05" fill="#4ec592"/>
<circle cx="312.6" cy="209.3" r="3.05" fill="#4ec592"/>
<circle cx="313.2" cy="209.9" r="3.05" fill="#4ec592"/>
<circle cx="313.8" cy="210.5" r="3.05" fill="#4ec592"/>
<circle cx="314.4" cy="210.4" r="3.05" fill="#4ec592"/>
<circle cx="315.0" cy="210.0" r="3.05" fill="#4ec592"/>
<circle cx="315.6" cy="210.1" r="3.05" fill="#4ec592"/>
<circle cx="316.2" cy="210.0" r="3.05" fill="#4ec592"/>
<circle cx="316.8" cy="210.0" r="3.05" fill="#4ec592"/>
<circle cx="317.4" cy="210.8" r="3.05" fill="#4ec592"/>
<circle cx="318.0" cy="209.4" r="3.05" fill="#4ec592"/>
<circle cx="318.6" cy="210.5" r="3.05" fill="#4ec592"/>
<circle cx="319.2" cy="210.0" r="3.05" fill="#4ec592"/>
<circle cx="319.8" cy="209.8" r="3.05" fill="#4ec592"/>
<circle cx="320.4" cy="210.2" r="3.05" fill="#4ec592"/>
<circle cx="321.0" cy="210.2" r="3.05" fill="#4ec592"/>
<circle cx="321.6" cy="210.5" r="3.05" fill="#4ec592"/>
<circle cx="322.2" cy="209.9" r="3.05" fill="#4ec592"/>
<circle cx="322.8" cy="210.9" r="3.05" fill="#4ec592"/>
<circle cx="323.4" cy="210.3" r="3.05" fill="#4ec592"/>
<circle cx="324.0" cy="210.9" r="3.05" fill="#4ec592"/>
<circle cx="324.6" cy="209.1" r="3.05" fill="#4ec592"/>
<circle cx="325.2" cy="211.0" r="3.05" fill="#4ec592"/>
<circle cx="325.8" cy="210.5" r="3.05" fill="#4ec592"/>
<circle cx="326.4" cy="210.0" r="3.05" fill="#4ec592"/>
<circle cx="327.0" cy="210.6" r="3.05" fill="#4ec592"/>
<circle cx="327.6" cy="210.1" r="3.05" fill="#4ec592"/>
<circle cx="328.2" cy="210.4" r="3.05" fill="#4ec592"/>
<circle cx="328.8" cy="210.6" r="3.05" fill="#4ec592"/>
<circle cx="329.4" cy="211.5" r="3.05" fill="#4ec592"/>
<circle cx="330.0" cy="211.0" r="3.05" fill="#4ec592"/>
<circle cx="330.6" cy="210.1" r="3.05" fill="#4ec592"/>
<circle cx="331.2" cy="210.6" r="3.05" fill="#4ec592"/>
<circle cx="331.8" cy="211.6" r="3.05" fill="#4ec592"/>
<circle cx="332.4" cy="211.1" r="3.05" fill="#4ec592"/>
<circle cx="333.0" cy="211.8" r="3.05" fill="#4ec592"/>
<circle cx="333.6" cy="211.6" r="3.05" fill="#4ec592"/>
<circle cx="334.2" cy="210.4" r="3.05" fill="#4ec592"/>
<circle cx="334.8" cy="209.6" r="3.05" fill="#4ec592"/>
<circle cx="335.4" cy="210.9" r="3.05" fill="#4ec592"/>
<circle cx="336.0" cy="212.0" r="3.05" fill="#4ec592"/>
<circle cx="336.6" cy="211.2" r="3.05" fill="#4ec592"/>
<circle cx="337.2" cy="210.9" r="3.05" fill="#4ec592"/>
<circle cx="337.8" cy="211.4" r="3.05" fill="#4ec592"/>
<circle cx="338.4" cy="209.6" r="3.05" fill="#4ec592"/>
<circle cx="339.0" cy="211.2" r="3.05" fill="#4ec592"/>
<circle cx="339.6" cy="210.8" r="3.05" fill="#4ec592"/>
<circle cx="340.2" cy="212.5" r="3.05" fill="#4ec592"/>
<circle cx="340.8" cy="210.4" r="3.05" fill="#4ec592"/>
<circle cx="341.4" cy="210.6" r="3.05" fill="#4ec592"/>
<circle cx="342.0" cy="210.4" r="3.05" fill="#4ec592"/>
<circle cx="342.6" cy="210.7" r="3.05" fill="#4ec592"/>
<circle cx="343.2" cy="211.1" r="3.05" fill="#4ec592"/>
<circle cx="343.8" cy="210.5" r="3.05" fill="#4ec592"/>
<circle cx="344.4" cy="211.3" r="3.05" fill="#4ec592"/>
<circle cx="345.0" cy="211.2" r="3.05" fill="#4ec592"/>
<circle cx="345.6" cy="210.3" r="3.05" fill="#4ec592"/>
<circle cx="346.2" cy="210.6" r="3.05" fill="#4ec592"/>
<circle cx="346.8" cy="210.0" r="3.05" fill="#4ec592"/>
<circle cx="347.4" cy="211.4" r="3.05" fill="#4ec592"/>
<circle cx="348.0" cy="210.6" r="3.05" fill="#4ec592"/>
<circle cx="348.6" cy="211.5" r="3.05" fill="#4ec592"/>
<circle cx="349.2" cy="211.9" r="3.05" fill="#4ec592"/>
<circle cx="349.8" cy="210.5" r="3.05" fill="#4ec592"/>
<circle cx="350.4" cy="210.9" r="3.05" fill="#4ec592"/>
<circle cx="351.0" cy="210.8" r="3.05" fill="#4ec592"/>
<circle cx="351.6" cy="211.6" r="3.05" fill="#4ec592"/>
<circle cx="352.2" cy="211.6" r="3.05" fill="#4ec592"/>
<circle cx="352.8" cy="210.3" r="3.05" fill="#4ec592"/>
<circle cx="353.4" cy="211.4" r="3.05" fill="#4ec592"/>
<circle cx="354.0" cy="211.1" r="3.05" fill="#4ec592"/>
<circle cx="354.6" cy="211.7" r="3.05" fill="#4ec592"/>
<circle cx="355.2" cy="210.5" r="3.05" fill="#4ec592"/>
<circle cx="355.8" cy="211.1" r="3.05" fill="#4ec592"/>
<circle cx="356.4" cy="211.7" r="3.05" fill="#4ec592"/>
<circle cx="357.0" cy="212.4" r="3.05" fill="#4ec592"/>
<circle cx="357.6" cy="210.9" r="3.05" fill="#4ec592"/>
<circle cx="358.2" cy="210.9" r="3.05" fill="#4ec592"/>
<circle cx="358.8" cy="211.6" r="3.05" fill="#4ec592"/>
<circle cx="359.4" cy="211.5" r="3.05" fill="#4ec592"/>
<circle cx="360.0" cy="211.3" r="3.05" fill="#4ec592"/>
<circle cx="360.6" cy="210.9" r="3.05" fill="#4ec592"/>
<circle cx="361.2" cy="212.4" r="3.05" fill="#4ec592"/>
<circle cx="361.8" cy="212.0" r="3.05" fill="#4ec592"/>
<circle cx="362.4" cy="211.1" r="3.05" fill="#4ec592"/>
<circle cx="363.0" cy="211.5" r="3.05" fill="#4ec592"/>
<circle cx="363.6" cy="212.1" r="3.05" fill="#4ec592"/>
<circle cx="364.2" cy="212.1" r="3.05" fill="#4ec592"/>
<circle cx="364.8" cy="211.7" r="3.05" fill="#4ec592"/>
<circle cx="365.4" cy="211.4" r="3.05" fill="#4ec592"/>
<circle cx="366.0" cy="212.6" r="3.05" fill="#4ec592"/>
<circle cx="366.6" cy="211.2" r="3.05" fill="#4ec592"/>
<circle cx="367.2" cy="211.6" r="3.05" fill="#4ec592"/>
<circle cx="367.8" cy="211.3" r="3.05" fill="#4ec592"/>
<circle cx="368.4" cy="212.0" r="3.05" fill="#4ec592"/>
<circle cx="369.0" cy="211.2" r="3.05" fill="#4ec592"/>
<circle cx="369.6" cy="212.1" r="3.05" fill="#4ec592"/>
<circle cx="370.2" cy="212.3" r="3.05" fill="#4ec592"/>
<circle cx="370.8" cy="212.0" r="3.05" fill="#4ec592"/>
<circle cx="371.4" cy="210.9" r="3.05" fill="#4ec592"/>
<circle cx="372.0" cy="211.4" r="3.05" fill="#4ec592"/>
<circle cx="372.6" cy="211.2" r="3.05" fill="#4ec592"/>
<circle cx="373.2" cy="211.6" r="3.05" fill="#4ec592"/>
<circle cx="373.8" cy="210.9" r="3.05" fill="#4ec592"/>
<circle cx="374.4" cy="211.1" r="3.05" fill="#4ec592"/>
<circle cx="375.0" cy="211.7" r="3.05" fill="#4ec592"/>
<circle cx="375.6" cy="212.3" r="3.05" fill="#4ec592"/>
<circle cx="376.2" cy="212.3" r="3.05" fill="#4ec592"/>
<circle cx="376.8" cy="211.5" r="3.05" fill="#4ec592"/>
<circle cx="377.4" cy="211.5" r="3.05" fill="#4ec592"/>
<circle cx="378.0" cy="212.6" r="3.05" fill="#4ec592"/>
<circle cx="378.6" cy="212.7" r="3.05" fill="#4ec592"/>
<circle cx="379.2" cy="211.6" r="3.05" fill="#4ec592"/>
<circle cx="379.8" cy="211.5" r="3.05" fill="#4ec592"/>
<circle cx="380.4" cy="211.3" r="3.05" fill="#4ec592"/>
<circle cx="381.0" cy="211.8" r="3.05" fill="#4ec592"/>
<circle cx="381.6" cy="212.1" r="3.05" fill="#4ec592"/>
<circle cx="382.2" cy="211.5" r="3.05" fill="#4ec592"/>
<circle cx="382.8" cy="212.3" r="3.05" fill="#4ec592"/>
<circle cx="383.4" cy="211.2" r="3.05" fill="#4ec592"/>
<circle cx="384.0" cy="212.2" r="3.05" fill="#4ec592"/>
<circle cx="384.6" cy="212.7" r="3.05" fill="#4ec592"/>
<circle cx="385.2" cy="212.1" r="3.05" fill="#4ec592"/>
<circle cx="385.8" cy="211.2" r="3.05" fill="#4ec592"/>
<circle cx="386.4" cy="211.4" r="3.05" fill="#4ec592"/>
<circle cx="387.0" cy="211.8" r="3.05" fill="#4ec592"/>
<circle cx="387.6" cy="211.6" r="3.05" fill="#4ec592"/>
<circle cx="388.2" cy="212.2" r="3.05" fill="#4ec592"/>
<circle cx="388.8" cy="212.6" r="3.05" fill="#4ec592"/>
<circle cx="389.4" cy="212.4" r="3.05" fill="#4ec592"/>
<circle cx="390.0" cy="212.1" r="3.05" fill="#4ec592"/>
<circle cx="390.6" cy="211.6" r="3.05" fill="#4ec592"/>
<circle cx="391.2" cy="211.7" r="3.05" fill="#4ec592"/>
<circle cx="391.8" cy="212.0" r="3.05" fill="#4ec592"/>
<circle cx="392.4" cy="213.0" r="3.05" fill="#4ec592"/>
<circle cx="393.0" cy="212.9" r="3.05" fill="#4ec592"/>
<circle cx="393.6" cy="213.3" r="3.05" fill="#4ec592"/>
<circle cx="394.2" cy="212.3" r="3.05" fill="#4ec592"/>
<circle cx="394.8" cy="212.4" r="3.05" fill="#4ec592"/>
<circle cx="395.4" cy="211.5" r="3.05" fill="#4ec592"/>
<circle cx="396.0" cy="211.7" r="3.05" fill="#4ec592"/>
<circle cx="396.6" cy="213.2" r="3.05" fill="#4ec592"/>
<circle cx="397.2" cy="211.7" r="3.05" fill="#4ec592"/>
<circle cx="397.8" cy="212.0" r="3.05" fill="#4ec592"/>
<circle cx="398.4" cy="212.0" r="3.05" fill="#4ec592"/>
<circle cx="399.0" cy="211.3" r="3.05" fill="#4ec592"/>
<circle cx="399.6" cy="211.2" r="3.05" fill="#4ec592"/>
<circle cx="400.2" cy="212.4" r="3.05" fill="#4ec592"/>
<circle cx="400.8" cy="211.4" r="3.05" fill="#4ec592"/>
<circle cx="401.4" cy="212.5" r="3.05" fill="#4ec592"/>
<circle cx="402.0" cy="212.1" r="3.05" fill="#4ec592"/>
<circle cx="402.6" cy="211.8" r="3.05" fill="#4ec592"/>
<circle cx="403.2" cy="211.9" r="3.05" fill="#4ec592"/>
<circle cx="403.8" cy="212.5" r="3.05" fill="#4ec592"/>
<circle cx="404.4" cy="211.8" r="3.05" fill="#4ec592"/>
<circle cx="405.0" cy="212.4" r="3.05" fill="#4ec592"/>
<circle cx="405.6" cy="212.8" r="3.05" fill="#4ec592"/>
<circle cx="406.2" cy="210.6" r="3.05" fill="#4ec592"/>
<circle cx="406.8" cy="213.0" r="3.05" fill="#4ec592"/>
<circle cx="407.4" cy="211.9" r="3.05" fill="#4ec592"/>
<circle cx="408.0" cy="212.8" r="3.05" fill="#4ec592"/>
<circle cx="408.6" cy="212.2" r="3.05" fill="#4ec592"/>
<circle cx="409.2" cy="211.2" r="3.05" fill="#4ec592"/>
<circle cx="409.8" cy="211.6" r="3.05" fill="#4ec592"/>
<circle cx="410.4" cy="211.4" r="3.05" fill="#4ec592"/>
<circle cx="411.0" cy="211.6" r="3.05" fill="#4ec592"/>
<circle cx="411.6" cy="212.0" r="3.05" fill="#4ec592"/>
<circle cx="412.2" cy="211.3" r="3.05" fill="#4ec592"/>
<circle cx="412.8" cy="212.8" r="3.05" fill="#4ec592"/>
<circle cx="413.4" cy="212.3" r="3.05" fill="#4ec592"/>
<circle cx="414.0" cy="213.0" r="3.05" fill="#4ec592"/>
<circle cx="414.6" cy="213.2" r="3.05" fill="#4ec592"/>
<circle cx="415.2" cy="213.1" r="3.05" fill="#4ec592"/>
<circle cx="415.8" cy="213.2" r="3.05" fill="#4ec592"/>
<circle cx="416.4" cy="213.2" r="3.05" fill="#4ec592"/>
<circle cx="417.0" cy="210.9" r="3.05" fill="#4ec592"/>
<circle cx="417.6" cy="212.1" r="3.05" fill="#4ec592"/>
<circle cx="418.2" cy="210.3" r="3.05" fill="#4ec592"/>
<circle cx="418.8" cy="212.3" r="3.05" fill="#4ec592"/>
<circle cx="419.4" cy="212.2" r="3.05" fill="#4ec592"/>
<circle cx="420.0" cy="212.9" r="3.05" fill="#4ec592"/>
<circle cx="420.6" cy="212.6" r="3.05" fill="#4ec592"/>
<circle cx="421.2" cy="212.4" r="3.05" fill="#4ec592"/>
<circle cx="421.8" cy="211.7" r="3.05" fill="#4ec592"/>
<circle cx="422.4" cy="212.3" r="3.05" fill="#4ec592"/>
<circle cx="423.0" cy="212.8" r="3.05" fill="#4ec592"/>
<circle cx="423.6" cy="212.9" r="3.05" fill="#4ec592"/>
<circle cx="424.2" cy="211.7" r="3.05" fill="#4ec592"/>
<circle cx="424.8" cy="211.9" r="3.05" fill="#4ec592"/>
<circle cx="425.4" cy="212.7" r="3.05" fill="#4ec592"/>
<circle cx="426.0" cy="212.6" r="3.05" fill="#4ec592"/>
<circle cx="426.6" cy="212.7" r="3.05" fill="#4ec592"/>
<circle cx="427.2" cy="212.2" r="3.05" fill="#4ec592"/>
<circle cx="427.8" cy="212.7" r="3.05" fill="#4ec592"/>
<circle cx="428.4" cy="213.2" r="3.05" fill="#4ec592"/>
<circle cx="429.0" cy="213.3" r="3.05" fill="#4ec592"/>
<circle cx="429.6" cy="212.2" r="3.05" fill="#4ec592"/>
<circle cx="430.2" cy="212.4" r="3.05" fill="#4ec592"/>
<circle cx="430.8" cy="213.4" r="3.05" fill="#4ec592"/>
<circle cx="431.4" cy="212.6" r="3.05" fill="#4ec592"/>
<circle cx="432.0" cy="213.5" r="3.05" fill="#4ec592"/>
<circle cx="432.6" cy="213.3" r="3.05" fill="#4ec592"/>
<circle cx="433.2" cy="212.6" r="3.05" fill="#4ec592"/>
<circle cx="433.8" cy="212.8" r="3.05" fill="#4ec592"/>
<circle cx="434.4" cy="212.9" r="3.05" fill="#4ec592"/>
<circle cx="435.0" cy="212.7" r="3.05" fill="#4ec592"/>
<circle cx="435.6" cy="212.6" r="3.05" fill="#4ec592"/>
<circle cx="436.2" cy="212.9" r="3.05" fill="#4ec592"/>
<circle cx="436.8" cy="212.0" r="3.05" fill="#4ec592"/>
<circle cx="437.4" cy="213.9" r="3.05" fill="#4ec592"/>
<circle cx="438.0" cy="212.4" r="3.05" fill="#4ec592"/>
<circle cx="438.6" cy="211.8" r="3.05" fill="#4ec592"/>
<circle cx="439.2" cy="212.7" r="3.05" fill="#4ec592"/>
<circle cx="439.8" cy="212.5" r="3.05" fill="#4ec592"/>
<circle cx="440.4" cy="213.1" r="3.05" fill="#4ec592"/>
<circle cx="441.0" cy="212.5" r="3.05" fill="#4ec592"/>
<circle cx="441.6" cy="213.3" r="3.05" fill="#4ec592"/>
<circle cx="442.2" cy="212.1" r="3.05" fill="#4ec592"/>
<circle cx="442.8" cy="212.6" r="3.05" fill="#4ec592"/>
<circle cx="443.4" cy="212.3" r="3.05" fill="#4ec592"/>
<circle cx="444.0" cy="214.1" r="3.05" fill="#4ec592"/>
<circle cx="444.6" cy="212.1" r="3.05" fill="#4ec592"/>
<circle cx="445.2" cy="213.1" r="3.05" fill="#4ec592"/>
<circle cx="445.8" cy="213.3" r="3.05" fill="#4ec592"/>
<circle cx="446.4" cy="211.7" r="3.05" fill="#4ec592"/>
<circle cx="447.0" cy="213.8" r="3.05" fill="#4ec592"/>
<circle cx="447.6" cy="213.6" r="3.05" fill="#4ec592"/>
<circle cx="448.2" cy="212.4" r="3.05" fill="#4ec592"/>
<circle cx="448.8" cy="212.8" r="3.05" fill="#4ec592"/>
<circle cx="449.4" cy="213.5" r="3.05" fill="#4ec592"/>
<circle cx="450.0" cy="212.6" r="3.05" fill="#4ec592"/>
<circle cx="450.6" cy="213.3" r="3.05" fill="#4ec592"/>
<circle cx="451.2" cy="212.9" r="3.05" fill="#4ec592"/>
<circle cx="451.8" cy="213.1" r="3.05" fill="#4ec592"/>
<circle cx="452.4" cy="212.6" r="3.05" fill="#4ec592"/>
<circle cx="453.0" cy="213.2" r="3.05" fill="#4ec592"/>
<circle cx="453.6" cy="213.4" r="3.05" fill="#4ec592"/>
<circle cx="454.2" cy="213.4" r="3.05" fill="#4ec592"/>
<circle cx="454.8" cy="213.6" r="3.05" fill="#4ec592"/>
<circle cx="455.4" cy="214.0" r="3.05" fill="#4ec592"/>
<circle cx="456.0" cy="213.0" r="3.05" fill="#4ec592"/>
<circle cx="456.6" cy="213.3" r="3.05" fill="#4ec592"/>
<circle cx="457.2" cy="214.0" r="3.05" fill="#4ec592"/>
<circle cx="457.8" cy="213.0" r="3.05" fill="#4ec592"/>
<circle cx="458.4" cy="212.8" r="3.05" fill="#4ec592"/>
<circle cx="459.0" cy="213.4" r="3.05" fill="#4ec592"/>
<circle cx="459.6" cy="213.3" r="3.05" fill="#4ec592"/>
<circle cx="460.2" cy="212.7" r="3.05" fill="#4ec592"/>
<circle cx="460.8" cy="213.7" r="3.05" fill="#4ec592"/>
<circle cx="461.4" cy="213.6" r="3.05" fill="#4ec592"/>
<circle cx="462.0" cy="214.0" r="3.05" fill="#4ec592"/>
<circle cx="462.6" cy="213.3" r="3.05" fill="#4ec592"/>
<circle cx="463.2" cy="213.6" r="3.05" fill="#4ec592"/>
<circle cx="463.8" cy="214.7" r="3.05" fill="#4ec592"/>
<circle cx="464.4" cy="214.5" r="3.05" fill="#4ec592"/>
<circle cx="465.0" cy="214.2" r="3.05" fill="#4ec592"/>
<circle cx="465.6" cy="214.3" r="3.05" fill="#4ec592"/>
<circle cx="466.2" cy="213.8" r="3.05" fill="#4ec592"/>
<circle cx="466.8" cy="213.2" r="3.05" fill="#4ec592"/>
<circle cx="467.4" cy="214.6" r="3.05" fill="#4ec592"/>
<circle cx="468.0" cy="213.4" r="3.05" fill="#4ec592"/>
<circle cx="468.6" cy="214.8" r="3.05" fill="#4ec592"/>
<circle cx="469.2" cy="213.7" r="3.05" fill="#4ec592"/>
<circle cx="469.8" cy="214.1" r="3.05" fill="#4ec592"/>
<circle cx="470.4" cy="214.3" r="3.05" fill="#4ec592"/>
<circle cx="471.0" cy="213.7" r="3.05" fill="#4ec592"/>
<circle cx="471.6" cy="214.3" r="3.05" fill="#4ec592"/>
<circle cx="472.2" cy="214.9" r="3.05" fill="#4ec592"/>
<circle cx="472.8" cy="213.4" r="3.05" fill="#4ec592"/>
<circle cx="473.4" cy="214.2" r="3.05" fill="#4ec592"/>
<circle cx="474.0" cy="213.6" r="3.05" fill="#4ec592"/>
<circle cx="474.6" cy="214.4" r="3.05" fill="#4ec592"/>
<circle cx="475.2" cy="214.3" r="3.05" fill="#4ec592"/>
<circle cx="475.8" cy="212.9" r="3.05" fill="#4ec592"/>
<circle cx="476.4" cy="213.7" r="3.05" fill="#4ec592"/>
<circle cx="477.0" cy="214.0" r="3.05" fill="#4ec592"/>
<circle cx="477.6" cy="214.6" r="3.05" fill="#4ec592"/>
<circle cx="478.2" cy="214.2" r="3.05" fill="#4ec592"/>
<circle cx="478.8" cy="214.2" r="3.05" fill="#4ec592"/>
<circle cx="479.4" cy="214.3" r="3.05" fill="#4ec592"/>
<circle cx="480.0" cy="213.5" r="3.05" fill="#4ec592"/>
<circle cx="480.6" cy="213.9" r="3.05" fill="#4ec592"/>
<circle cx="481.2" cy="213.9" r="3.05" fill="#4ec592"/>
<circle cx="481.8" cy="213.3" r="3.05" fill="#4ec592"/>
<circle cx="482.4" cy="214.2" r="3.05" fill="#4ec592"/>
<circle cx="483.0" cy="215.1" r="3.05" fill="#4ec592"/>
<circle cx="483.6" cy="213.0" r="3.05" fill="#4ec592"/>
<circle cx="484.2" cy="215.4" r="3.05" fill="#4ec592"/>
<circle cx="484.8" cy="214.0" r="3.05" fill="#4ec592"/>
<circle cx="485.4" cy="213.5" r="3.05" fill="#4ec592"/>
<circle cx="486.0" cy="213.8" r="3.05" fill="#4ec592"/>
<circle cx="486.6" cy="214.0" r="3.05" fill="#4ec592"/>
<circle cx="487.2" cy="216.7" r="3.05" fill="#4ec592"/>
<circle cx="487.8" cy="214.1" r="3.05" fill="#4ec592"/>
<circle cx="488.4" cy="214.1" r="3.05" fill="#4ec592"/>
<circle cx="489.0" cy="214.7" r="3.05" fill="#4ec592"/>
<circle cx="489.6" cy="214.2" r="3.05" fill="#4ec592"/>
<circle cx="490.2" cy="214.3" r="3.05" fill="#4ec592"/>
<circle cx="490.8" cy="213.5" r="3.05" fill="#4ec592"/>
<circle cx="491.4" cy="214.5" r="3.05" fill="#4ec592"/>
<circle cx="492.0" cy="213.8" r="3.05" fill="#4ec592"/>
<circle cx="492.6" cy="214.6" r="3.05" fill="#4ec592"/>
<circle cx="493.2" cy="214.3" r="3.05" fill="#4ec592"/>
<circle cx="493.8" cy="213.4" r="3.05" fill="#4ec592"/>
<circle cx="494.4" cy="213.5" r="3.05" fill="#4ec592"/>
<circle cx="495.0" cy="214.0" r="3.05" fill="#4ec592"/>
<circle cx="495.6" cy="215.2" r="3.05" fill="#4ec592"/>
<circle cx="496.2" cy="215.4" r="3.05" fill="#4ec592"/>
<circle cx="496.8" cy="214.4" r="3.05" fill="#4ec592"/>
<circle cx="497.4" cy="215.5" r="3.05" fill="#4ec592"/>
<circle cx="498.0" cy="213.9" r="3.05" fill="#4ec592"/>
<circle cx="498.6" cy="213.8" r="3.05" fill="#4ec592"/>
<circle cx="499.2" cy="214.8" r="3.05" fill="#4ec592"/>
<circle cx="499.8" cy="214.9" r="3.05" fill="#4ec592"/>
<circle cx="500.4" cy="214.6" r="3.05" fill="#4ec592"/>
<circle cx="501.0" cy="214.4" r="3.05" fill="#4ec592"/>
<circle cx="501.6" cy="214.3" r="3.05" fill="#4ec592"/>
<circle cx="502.2" cy="213.7" r="3.05" fill="#4ec592"/>
<circle cx="502.8" cy="215.1" r="3.05" fill="#4ec592"/>
<circle cx="503.4" cy="215.3" r="3.05" fill="#4ec592"/>
<circle cx="504.0" cy="214.5" r="3.05" fill="#4ec592"/>
<circle cx="504.6" cy="214.0" r="3.05" fill="#4ec592"/>
<circle cx="505.2" cy="214.7" r="3.05" fill="#4ec592"/>
<circle cx="505.8" cy="213.7" r="3.05" fill="#4ec592"/>
<circle cx="506.4" cy="214.0" r="3.05" fill="#4ec592"/>
<circle cx="507.0" cy="215.5" r="3.05" fill="#4ec592"/>
<circle cx="507.6" cy="215.1" r="3.05" fill="#4ec592"/>
<circle cx="508.2" cy="214.6" r="3.05" fill="#4ec592"/>
<circle cx="508.8" cy="214.3" r="3.05" fill="#4ec592"/>
<circle cx="509.4" cy="214.7" r="3.05" fill="#4ec592"/>
<circle cx="510.0" cy="214.7" r="3.05" fill="#4ec592"/>
<circle cx="510.6" cy="214.6" r="3.05" fill="#4ec592"/>
<circle cx="511.2" cy="214.1" r="3.05" fill="#4ec592"/>
<circle cx="511.8" cy="214.7" r="3.05" fill="#4ec592"/>
<circle cx="512.4" cy="214.7" r="3.05" fill="#4ec592"/>
<circle cx="513.0" cy="214.7" r="3.05" fill="#4ec592"/>
<circle cx="513.6" cy="214.5" r="3.05" fill="#4ec592"/>
<circle cx="514.2" cy="213.7" r="3.05" fill="#4ec592"/>
<circle cx="514.8" cy="215.3" r="3.05" fill="#4ec592"/>
<circle cx="515.4" cy="215.1" r="3.05" fill="#4ec592"/>
<circle cx="516.0" cy="214.4" r="3.05" fill="#4ec592"/>
<circle cx="516.6" cy="216.3" r="3.05" fill="#4ec592"/>
<circle cx="517.2" cy="214.1" r="3.05" fill="#4ec592"/>
<circle cx="517.8" cy="214.3" r="3.05" fill="#4ec592"/>
<circle cx="518.4" cy="214.7" r="3.05" fill="#4ec592"/>
<circle cx="519.0" cy="215.5" r="3.05" fill="#4ec592"/>
<circle cx="519.6" cy="213.9" r="3.05" fill="#4ec592"/>
<circle cx="520.2" cy="215.7" r="3.05" fill="#4ec592"/>
<circle cx="520.8" cy="216.2" r="3.05" fill="#4ec592"/>
<circle cx="521.4" cy="215.6" r="3.05" fill="#4ec592"/>
<circle cx="522.0" cy="216.7" r="3.05" fill="#4ec592"/>
<circle cx="522.6" cy="215.3" r="3.05" fill="#4ec592"/>
<circle cx="523.2" cy="215.1" r="3.05" fill="#4ec592"/>
<circle cx="523.8" cy="214.4" r="3.05" fill="#4ec592"/>
<circle cx="524.4" cy="215.3" r="3.05" fill="#4ec592"/>
<circle cx="525.0" cy="216.0" r="3.05" fill="#4ec592"/>
<circle cx="525.6" cy="215.5" r="3.05" fill="#4ec592"/>
<circle cx="526.2" cy="215.4" r="3.05" fill="#4ec592"/>
<circle cx="526.8" cy="214.9" r="3.05" fill="#4ec592"/>
<circle cx="527.4" cy="216.0" r="3.05" fill="#4ec592"/>
<circle cx="528.0" cy="215.5" r="3.05" fill="#4ec592"/>
<circle cx="528.6" cy="215.2" r="3.05" fill="#4ec592"/>
<circle cx="529.2" cy="214.4" r="3.05" fill="#4ec592"/>
<circle cx="529.8" cy="214.7" r="3.05" fill="#4ec592"/>
<circle cx="530.4" cy="215.2" r="3.05" fill="#4ec592"/>
<circle cx="531.0" cy="216.4" r="3.05" fill="#4ec592"/>
<circle cx="531.6" cy="214.5" r="3.05" fill="#4ec592"/>
<circle cx="532.2" cy="214.9" r="3.05" fill="#4ec592"/>
<circle cx="532.8" cy="215.6" r="3.05" fill="#4ec592"/>
<circle cx="533.4" cy="215.9" r="3.05" fill="#4ec592"/>
<circle cx="534.0" cy="216.4" r="3.05" fill="#4ec592"/>
<circle cx="534.6" cy="215.5" r="3.05" fill="#4ec592"/>
<circle cx="535.2" cy="215.8" r="3.05" fill="#4ec592"/>
<circle cx="535.8" cy="215.5" r="3.05" fill="#4ec592"/>
<circle cx="536.4" cy="215.5" r="3.05" fill="#4ec592"/>
<circle cx="537.0" cy="215.2" r="3.05" fill="#4ec592"/>
<circle cx="537.6" cy="216.2" r="3.05" fill="#4ec592"/>
<circle cx="538.2" cy="216.7" r="3.05" fill="#4ec592"/>
<circle cx="538.8" cy="215.7" r="3.05" fill="#4ec592"/>
<circle cx="539.4" cy="215.4" r="3.05" fill="#4ec592"/>
<circle cx="540.0" cy="215.2" r="3.05" fill="#4ec592"/>
<circle cx="540.6" cy="215.0" r="3.05" fill="#4ec592"/>
<circle cx="541.2" cy="216.2" r="3.05" fill="#4ec592"/>
<circle cx="541.8" cy="215.5" r="3.05" fill="#4ec592"/>
<circle cx="542.4" cy="214.6" r="3.05" fill="#4ec592"/>
<circle cx="543.0" cy="215.8" r="3.05" fill="#4ec592"/>
<circle cx="543.6" cy="215.6" r="3.05" fill="#4ec592"/>
<circle cx="544.2" cy="216.0" r="3.05" fill="#4ec592"/>
<circle cx="544.8" cy="214.8" r="3.05" fill="#4ec592"/>
<circle cx="545.4" cy="215.4" r="3.05" fill="#4ec592"/>
<circle cx="546.0" cy="216.2" r="3.05" fill="#4ec592"/>
<circle cx="546.6" cy="215.3" r="3.05" fill="#4ec592"/>
<circle cx="547.2" cy="215.5" r="3.05" fill="#4ec592"/>
<circle cx="547.8" cy="216.7" r="3.05" fill="#4ec592"/>
<circle cx="548.4" cy="215.9" r="3.05" fill="#4ec592"/>
<circle cx="549.0" cy="216.3" r="3.05" fill="#4ec592"/>
<circle cx="549.6" cy="216.2" r="3.05" fill="#4ec592"/>
<circle cx="550.2" cy="216.2" r="3.05" fill="#4ec592"/>
<circle cx="550.8" cy="217.1" r="3.05" fill="#4ec592"/>
<circle cx="551.4" cy="215.7" r="3.05" fill="#4ec592"/>
<circle cx="552.0" cy="215.0" r="3.05" fill="#4ec592"/>
<circle cx="552.6" cy="215.9" r="3.05" fill="#4ec592"/>
<circle cx="553.2" cy="215.5" r="3.05" fill="#4ec592"/>
<circle cx="553.8" cy="215.2" r="3.05" fill="#4ec592"/>
<circle cx="554.4" cy="216.2" r="3.05" fill="#4ec592"/>
<circle cx="555.0" cy="215.4" r="3.05" fill="#4ec592"/>
<circle cx="555.6" cy="214.5" r="3.05" fill="#4ec592"/>
<circle cx="556.2" cy="216.0" r="3.05" fill="#4ec592"/>
<circle cx="556.8" cy="215.8" r="3.05" fill="#4ec592"/>
<circle cx="557.4" cy="215.7" r="3.05" fill="#4ec592"/>
<circle cx="558.0" cy="214.8" r="3.05" fill="#4ec592"/>
<circle cx="558.6" cy="216.1" r="3.05" fill="#4ec592"/>
<circle cx="559.2" cy="216.7" r="3.05" fill="#4ec592"/>
<circle cx="559.8" cy="215.3" r="3.05" fill="#4ec592"/>
<circle cx="560.4" cy="216.1" r="3.05" fill="#4ec592"/>
<circle cx="561.0" cy="215.7" r="3.05" fill="#4ec592"/>
<circle cx="561.6" cy="215.5" r="3.05" fill="#4ec592"/>
<circle cx="562.2" cy="216.2" r="3.05" fill="#4ec592"/>
<circle cx="562.8" cy="215.2" r="3.05" fill="#4ec592"/>
<circle cx="563.4" cy="216.7" r="3.05" fill="#4ec592"/>
<circle cx="564.0" cy="215.9" r="3.05" fill="#4ec592"/>
<circle cx="564.6" cy="216.5" r="3.05" fill="#4ec592"/>
<circle cx="565.2" cy="215.8" r="3.05" fill="#4ec592"/>
<circle cx="565.8" cy="215.6" r="3.05" fill="#4ec592"/>
<circle cx="566.4" cy="215.9" r="3.05" fill="#4ec592"/>
<circle cx="567.0" cy="216.6" r="3.05" fill="#4ec592"/>
<circle cx="567.6" cy="216.8" r="3.05" fill="#4ec592"/>
<circle cx="568.2" cy="216.3" r="3.05" fill="#4ec592"/>
<circle cx="568.8" cy="216.6" r="3.05" fill="#4ec592"/>
<circle cx="569.4" cy="216.9" r="3.05" fill="#4ec592"/>
<circle cx="570.0" cy="216.0" r="3.05" fill="#4ec592"/>
<circle cx="570.6" cy="216.2" r="3.05" fill="#4ec592"/>
<circle cx="571.2" cy="216.8" r="3.05" fill="#4ec592"/>
<circle cx="571.8" cy="214.5" r="3.05" fill="#4ec592"/>
<circle cx="572.4" cy="214.9" r="3.05" fill="#4ec592"/>
<circle cx="573.0" cy="216.5" r="3.05" fill="#4ec592"/>
<circle cx="573.6" cy="216.3" r="3.05" fill="#4ec592"/>
<circle cx="574.2" cy="216.5" r="3.05" fill="#4ec592"/>
<circle cx="574.8" cy="215.5" r="3.05" fill="#4ec592"/>
<circle cx="575.4" cy="217.6" r="3.05" fill="#4ec592"/>
<circle cx="576.0" cy="216.4" r="3.05" fill="#4ec592"/>
<circle cx="576.6" cy="216.2" r="3.05" fill="#4ec592"/>
<circle cx="577.2" cy="216.9" r="3.05" fill="#4ec592"/>
<circle cx="577.8" cy="217.1" r="3.05" fill="#4ec592"/>
<circle cx="578.4" cy="216.2" r="3.05" fill="#4ec592"/>
<circle cx="579.0" cy="216.6" r="3.05" fill="#4ec592"/>
<circle cx="579.6" cy="216.6" r="3.05" fill="#4ec592"/>
<circle cx="580.2" cy="216.9" r="3.05" fill="#4ec592"/>
<circle cx="580.8" cy="216.4" r="3.05" fill="#4ec592"/>
<circle cx="581.4" cy="216.8" r="3.05" fill="#4ec592"/>
<circle cx="582.0" cy="215.8" r="3.05" fill="#4ec592"/>
<circle cx="582.6" cy="216.7" r="3.05" fill="#4ec592"/>
<circle cx="583.2" cy="218.8" r="3.05" fill="#4ec592"/>
<circle cx="583.8" cy="216.7" r="3.05" fill="#4ec592"/>
<circle cx="584.4" cy="217.1" r="3.05" fill="#4ec592"/>
<circle cx="585.0" cy="217.0" r="3.05" fill="#4ec592"/>
<circle cx="585.6" cy="215.9" r="3.05" fill="#4ec592"/>
<circle cx="586.2" cy="217.2" r="3.05" fill="#4ec592"/>
<circle cx="586.8" cy="215.4" r="3.05" fill="#4ec592"/>
<circle cx="587.4" cy="215.7" r="3.05" fill="#4ec592"/>
<circle cx="588.0" cy="216.9" r="3.05" fill="#4ec592"/>
<circle cx="588.6" cy="216.8" r="3.05" fill="#4ec592"/>
<circle cx="589.2" cy="216.8" r="3.05" fill="#4ec592"/>
<circle cx="589.8" cy="216.9" r="3.05" fill="#4ec592"/>
<circle cx="590.4" cy="218.4" r="3.05" fill="#4ec592"/>
<circle cx="591.0" cy="217.4" r="3.05" fill="#4ec592"/>
<circle cx="591.6" cy="216.3" r="3.05" fill="#4ec592"/>
<circle cx="592.2" cy="216.8" r="3.05" fill="#4ec592"/>
<circle cx="592.8" cy="216.6" r="3.05" fill="#4ec592"/>
<circle cx="593.4" cy="217.3" r="3.05" fill="#4ec592"/>
<circle cx="594.0" cy="216.2" r="3.05" fill="#4ec592"/>
<circle cx="594.6" cy="215.3" r="3.05" fill="#4ec592"/>
<circle cx="595.2" cy="218.2" r="3.05" fill="#4ec592"/>
<circle cx="595.8" cy="217.4" r="3.05" fill="#4ec592"/>
<circle cx="596.4" cy="216.2" r="3.05" fill="#4ec592"/>
<circle cx="597.0" cy="216.7" r="3.05" fill="#4ec592"/>
<circle cx="597.6" cy="217.1" r="3.05" fill="#4ec592"/>
<circle cx="598.2" cy="217.0" r="3.05" fill="#4ec592"/>
<circle cx="598.8" cy="218.1" r="3.05" fill="#4ec592"/>
<circle cx="599.4" cy="216.9" r="3.05" fill="#4ec592"/>
<circle cx="600.0" cy="215.9" r="3.05" fill="#4ec592"/>
<circle cx="600.6" cy="217.3" r="3.05" fill="#4ec592"/>
<circle cx="601.2" cy="216.4" r="3.05" fill="#4ec592"/>
<circle cx="601.8" cy="216.4" r="3.05" fill="#4ec592"/>
<circle cx="602.4" cy="216.5" r="3.05" fill="#4ec592"/>
<circle cx="603.0" cy="217.5" r="3.05" fill="#4ec592"/>
<circle cx="603.6" cy="217.5" r="3.05" fill="#4ec592"/>
<circle cx="604.2" cy="216.5" r="3.05" fill="#4ec592"/>
<circle cx="604.8" cy="216.5" r="3.05" fill="#4ec592"/>
<circle cx="605.4" cy="217.3" r="3.05" fill="#4ec592"/>
<circle cx="606.0" cy="217.1" r="3.05" fill="#4ec592"/>
<circle cx="606.6" cy="216.6" r="3.05" fill="#4ec592"/>
<circle cx="607.2" cy="215.8" r="3.05" fill="#4ec592"/>
<circle cx="607.8" cy="215.7" r="3.05" fill="#4ec592"/>
<circle cx="608.4" cy="217.2" r="3.05" fill="#4ec592"/>
<circle cx="609.0" cy="217.1" r="3.05" fill="#4ec592"/>
<circle cx="609.6" cy="217.0" r="3.05" fill="#4ec592"/>
<circle cx="610.2" cy="215.8" r="3.05" fill="#4ec592"/>
<circle cx="610.8" cy="217.6" r="3.05" fill="#4ec592"/>
<circle cx="611.4" cy="217.1" r="3.05" fill="#4ec592"/>
<circle cx="612.0" cy="217.1" r="3.05" fill="#4ec592"/>
<circle cx="612.6" cy="217.4" r="3.05" fill="#4ec592"/>
<circle cx="613.2" cy="217.4" r="3.05" fill="#4ec592"/>
<circle cx="613.8" cy="216.8" r="3.05" fill="#4ec592"/>
<circle cx="614.4" cy="218.1" r="3.05" fill="#4ec592"/>
<circle cx="615.0" cy="219.8" r="3.05" fill="#4ec592"/>
<circle cx="615.6" cy="217.1" r="3.05" fill="#4ec592"/>
<circle cx="616.2" cy="217.6" r="3.05" fill="#4ec592"/>
<circle cx="616.8" cy="216.9" r="3.05" fill="#4ec592"/>
<circle cx="617.4" cy="217.3" r="3.05" fill="#4ec592"/>
<circle cx="618.0" cy="218.1" r="3.05" fill="#4ec592"/>
<circle cx="618.6" cy="216.8" r="3.05" fill="#4ec592"/>
<circle cx="619.2" cy="217.6" r="3.05" fill="#4ec592"/>
<circle cx="619.8" cy="217.1" r="3.05" fill="#4ec592"/>
<circle cx="620.4" cy="218.1" r="3.05" fill="#4ec592"/>
<circle cx="621.0" cy="217.9" r="3.05" fill="#4ec592"/>
<circle cx="621.6" cy="217.2" r="3.05" fill="#4ec592"/>
<circle cx="622.2" cy="217.9" r="3.05" fill="#4ec592"/>
<circle cx="622.8" cy="217.0" r="3.05" fill="#4ec592"/>
<circle cx="623.4" cy="217.5" r="3.05" fill="#4ec592"/>
<circle cx="624.0" cy="216.2" r="3.05" fill="#4ec592"/>
<circle cx="624.6" cy="217.4" r="3.05" fill="#4ec592"/>
<circle cx="625.2" cy="217.5" r="3.05" fill="#4ec592"/>
<circle cx="625.8" cy="216.6" r="3.05" fill="#4ec592"/>
<circle cx="626.4" cy="217.2" r="3.05" fill="#4ec592"/>
<circle cx="627.0" cy="217.1" r="3.05" fill="#4ec592"/>
<circle cx="627.6" cy="216.7" r="3.05" fill="#4ec592"/>
<circle cx="628.2" cy="216.1" r="3.05" fill="#4ec592"/>
<circle cx="628.8" cy="216.9" r="3.05" fill="#4ec592"/>
<circle cx="629.4" cy="216.7" r="3.05" fill="#4ec592"/>
<circle cx="630.0" cy="217.8" r="3.05" fill="#4ec592"/>
<circle cx="630.6" cy="217.5" r="3.05" fill="#4ec592"/>
<circle cx="631.2" cy="217.6" r="3.05" fill="#4ec592"/>
<circle cx="631.8" cy="217.1" r="3.05" fill="#4ec592"/>
<circle cx="632.4" cy="217.4" r="3.05" fill="#4ec592"/>
<circle cx="633.0" cy="218.2" r="3.05" fill="#4ec592"/>
<circle cx="633.6" cy="216.3" r="3.05" fill="#4ec592"/>
<circle cx="634.2" cy="217.8" r="3.05" fill="#4ec592"/>
<circle cx="634.8" cy="215.9" r="3.05" fill="#4ec592"/>
<circle cx="635.4" cy="217.5" r="3.05" fill="#4ec592"/>
<circle cx="636.0" cy="217.1" r="3.05" fill="#4ec592"/>
<circle cx="636.6" cy="217.7" r="3.05" fill="#4ec592"/>
<circle cx="637.2" cy="218.0" r="3.05" fill="#4ec592"/>
<circle cx="637.8" cy="217.6" r="3.05" fill="#4ec592"/>
<circle cx="638.4" cy="217.3" r="3.05" fill="#4ec592"/>
<circle cx="639.0" cy="217.6" r="3.05" fill="#4ec592"/>
<circle cx="639.6" cy="218.4" r="3.05" fill="#4ec592"/>
<circle cx="640.2" cy="216.5" r="3.05" fill="#4ec592"/>
<circle cx="640.8" cy="217.5" r="3.05" fill="#4ec592"/>
<circle cx="641.4" cy="216.8" r="3.05" fill="#4ec592"/>
<circle cx="642.0" cy="217.4" r="3.05" fill="#4ec592"/>
<circle cx="642.6" cy="217.0" r="3.05" fill="#4ec592"/>
<circle cx="643.2" cy="216.8" r="3.05" fill="#4ec592"/>
<circle cx="643.8" cy="217.8" r="3.05" fill="#4ec592"/>
<circle cx="644.4" cy="218.4" r="3.05" fill="#4ec592"/>
<circle cx="645.0" cy="219.9" r="3.05" fill="#4ec592"/>
<circle cx="645.6" cy="217.7" r="3.05" fill="#4ec592"/>
<circle cx="646.2" cy="217.0" r="3.05" fill="#4ec592"/>
<circle cx="646.8" cy="217.3" r="3.05" fill="#4ec592"/>
<circle cx="647.4" cy="218.2" r="3.05" fill="#4ec592"/>
<circle cx="648.0" cy="217.4" r="3.05" fill="#4ec592"/>
<circle cx="648.6" cy="217.4" r="3.05" fill="#4ec592"/>
<circle cx="649.2" cy="217.8" r="3.05" fill="#4ec592"/>
<circle cx="649.8" cy="217.9" r="3.05" fill="#4ec592"/>
<circle cx="650.4" cy="217.3" r="3.05" fill="#4ec592"/>
<circle cx="651.0" cy="217.7" r="3.05" fill="#4ec592"/>
<circle cx="651.6" cy="216.6" r="3.05" fill="#4ec592"/>
<circle cx="652.2" cy="218.4" r="3.05" fill="#4ec592"/>
<circle cx="652.8" cy="217.3" r="3.05" fill="#4ec592"/>
<circle cx="653.4" cy="218.3" r="3.05" fill="#4ec592"/>
<circle cx="654.0" cy="218.0" r="3.05" fill="#4ec592"/>
<circle cx="654.6" cy="216.9" r="3.05" fill="#4ec592"/>
<circle cx="655.2" cy="217.5" r="3.05" fill="#4ec592"/>
<circle cx="655.8" cy="217.7" r="3.05" fill="#4ec592"/>
<circle cx="656.4" cy="218.3" r="3.05" fill="#4ec592"/>
<circle cx="657.0" cy="218.1" r="3.05" fill="#4ec592"/>
<circle cx="657.6" cy="217.4" r="3.05" fill="#4ec592"/>
<circle cx="658.2" cy="217.0" r="3.05" fill="#4ec592"/>
<circle cx="658.8" cy="218.4" r="3.05" fill="#4ec592"/>
<circle cx="659.4" cy="218.9" r="3.05" fill="#4ec592"/>
<circle cx="660.0" cy="217.7" r="3.05" fill="#4ec592"/>
<circle cx="660.6" cy="217.6" r="3.05" fill="#4ec592"/>
<circle cx="661.2" cy="217.7" r="3.05" fill="#4ec592"/>
<circle cx="661.8" cy="217.5" r="3.05" fill="#4ec592"/>
<circle cx="662.4" cy="218.9" r="3.05" fill="#4ec592"/>
<circle cx="663.0" cy="217.6" r="3.05" fill="#4ec592"/>
<circle cx="663.6" cy="217.4" r="3.05" fill="#4ec592"/>
<circle cx="664.2" cy="218.5" r="3.05" fill="#4ec592"/>
<circle cx="664.8" cy="217.1" r="3.05" fill="#4ec592"/>
<circle cx="665.4" cy="217.7" r="3.05" fill="#4ec592"/>
<circle cx="666.0" cy="217.5" r="3.05" fill="#4ec592"/>
<circle cx="666.6" cy="218.2" r="3.05" fill="#4ec592"/>
<circle cx="667.2" cy="217.5" r="3.05" fill="#4ec592"/>
<circle cx="667.8" cy="217.7" r="3.05" fill="#4ec592"/>
<circle cx="668.4" cy="217.0" r="3.05" fill="#4ec592"/>
<circle cx="669.0" cy="218.3" r="3.05" fill="#4ec592"/>
<circle cx="669.6" cy="218.2" r="3.05" fill="#4ec592"/>
<circle cx="670.2" cy="218.1" r="3.05" fill="#4ec592"/>
<circle cx="670.8" cy="217.9" r="3.05" fill="#4ec592"/>
<circle cx="671.4" cy="218.0" r="3.05" fill="#4ec592"/>
<circle cx="672.0" cy="218.5" r="3.05" fill="#4ec592"/>
<circle cx="672.6" cy="218.2" r="3.05" fill="#4ec592"/>
<circle cx="673.2" cy="218.5" r="3.05" fill="#4ec592"/>
<circle cx="673.8" cy="218.0" r="3.05" fill="#4ec592"/>
<circle cx="674.4" cy="220.2" r="3.05" fill="#4ec592"/>
<circle cx="675.0" cy="217.7" r="3.05" fill="#4ec592"/>
<circle cx="675.6" cy="218.8" r="3.05" fill="#4ec592"/>
<circle cx="676.2" cy="217.6" r="3.05" fill="#4ec592"/>
<circle cx="676.8" cy="217.1" r="3.05" fill="#4ec592"/>
<circle cx="677.4" cy="217.3" r="3.05" fill="#4ec592"/>
<circle cx="678.0" cy="218.0" r="3.05" fill="#4ec592"/>
<circle cx="678.6" cy="218.8" r="3.05" fill="#4ec592"/>
<circle cx="679.2" cy="218.5" r="3.05" fill="#4ec592"/>
<circle cx="53.0" cy="209.6" r="3.15" fill="#b24232"/>
<circle cx="53.4" cy="208.2" r="3.15" fill="#b24232"/>
<circle cx="53.8" cy="207.0" r="3.15" fill="#b24232"/>
<circle cx="54.2" cy="210.3" r="3.15" fill="#b24232"/>
<circle cx="54.6" cy="208.1" r="3.15" fill="#b24232"/>
<circle cx="55.0" cy="209.1" r="3.15" fill="#b24232"/>
<circle cx="55.4" cy="207.6" r="3.15" fill="#b24232"/>
<circle cx="55.8" cy="211.6" r="3.15" fill="#b24232"/>
<circle cx="56.2" cy="211.6" r="3.15" fill="#b24232"/>
<circle cx="56.6" cy="210.5" r="3.15" fill="#b24232"/>
<circle cx="57.0" cy="211.4" r="3.15" fill="#b24232"/>
<circle cx="57.4" cy="207.8" r="3.15" fill="#b24232"/>
<circle cx="57.8" cy="211.6" r="3.15" fill="#b24232"/>
<circle cx="58.2" cy="207.8" r="3.15" fill="#b24232"/>
<circle cx="58.6" cy="210.3" r="3.15" fill="#b24232"/>
<circle cx="59.0" cy="210.3" r="3.15" fill="#b24232"/>
<circle cx="59.4" cy="209.9" r="3.15" fill="#b24232"/>
<circle cx="59.8" cy="213.3" r="3.15" fill="#b24232"/>
<circle cx="60.2" cy="214.8" r="3.15" fill="#b24232"/>
<circle cx="60.6" cy="207.9" r="3.15" fill="#b24232"/>
<circle cx="61.0" cy="211.9" r="3.15" fill="#b24232"/>
<circle cx="61.4" cy="213.1" r="3.15" fill="#b24232"/>
<circle cx="61.8" cy="210.9" r="3.15" fill="#b24232"/>
<circle cx="62.2" cy="212.3" r="3.15" fill="#b24232"/>
<circle cx="62.6" cy="208.8" r="3.15" fill="#b24232"/>
<circle cx="63.0" cy="209.7" r="3.15" fill="#b24232"/>
<circle cx="63.4" cy="213.0" r="3.15" fill="#b24232"/>
<circle cx="63.8" cy="213.0" r="3.15" fill="#b24232"/>
<circle cx="64.2" cy="210.8" r="3.15" fill="#b24232"/>
<circle cx="64.6" cy="212.7" r="3.15" fill="#b24232"/>
<circle cx="65.0" cy="212.5" r="3.15" fill="#b24232"/>
<circle cx="65.4" cy="212.1" r="3.15" fill="#b24232"/>
<circle cx="65.8" cy="214.2" r="3.15" fill="#b24232"/>
<circle cx="66.2" cy="212.2" r="3.15" fill="#b24232"/>
<circle cx="66.6" cy="208.8" r="3.15" fill="#b24232"/>
<circle cx="67.0" cy="213.8" r="3.15" fill="#b24232"/>
<circle cx="67.4" cy="209.1" r="3.15" fill="#b24232"/>
<circle cx="67.8" cy="212.2" r="3.15" fill="#b24232"/>
<circle cx="68.2" cy="209.8" r="3.15" fill="#b24232"/>
<circle cx="68.6" cy="210.6" r="3.15" fill="#b24232"/>
<circle cx="69.0" cy="213.6" r="3.15" fill="#b24232"/>
<circle cx="69.4" cy="209.9" r="3.15" fill="#b24232"/>
<circle cx="69.8" cy="211.5" r="3.15" fill="#b24232"/>
<circle cx="70.2" cy="211.3" r="3.15" fill="#b24232"/>
<circle cx="70.6" cy="209.8" r="3.15" fill="#b24232"/>
<circle cx="71.0" cy="212.3" r="3.15" fill="#b24232"/>
<circle cx="71.4" cy="209.0" r="3.15" fill="#b24232"/>
<circle cx="71.8" cy="211.7" r="3.15" fill="#b24232"/>
<circle cx="72.2" cy="209.6" r="3.15" fill="#b24232"/>
<circle cx="72.6" cy="212.7" r="3.15" fill="#b24232"/>
<circle cx="73.0" cy="211.9" r="3.15" fill="#b24232"/>
<circle cx="73.4" cy="214.4" r="3.15" fill="#b24232"/>
<circle cx="73.8" cy="213.4" r="3.15" fill="#b24232"/>
<circle cx="74.2" cy="212.3" r="3.15" fill="#b24232"/>
<circle cx="74.6" cy="213.6" r="3.15" fill="#b24232"/>
<circle cx="75.0" cy="215.6" r="3.15" fill="#b24232"/>
<circle cx="75.4" cy="212.2" r="3.15" fill="#b24232"/>
<circle cx="75.8" cy="213.3" r="3.15" fill="#b24232"/>
<circle cx="76.2" cy="213.8" r="3.15" fill="#b24232"/>
<circle cx="76.6" cy="213.8" r="3.15" fill="#b24232"/>
<circle cx="77.0" cy="213.0" r="3.15" fill="#b24232"/>
<circle cx="77.4" cy="212.0" r="3.15" fill="#b24232"/>
<circle cx="77.8" cy="213.9" r="3.15" fill="#b24232"/>
<circle cx="78.2" cy="212.8" r="3.15" fill="#b24232"/>
<circle cx="78.6" cy="212.1" r="3.15" fill="#b24232"/>
<circle cx="79.0" cy="213.3" r="3.15" fill="#b24232"/>
<circle cx="79.4" cy="216.1" r="3.15" fill="#b24232"/>
<circle cx="79.8" cy="215.5" r="3.15" fill="#b24232"/>
<circle cx="80.2" cy="215.6" r="3.15" fill="#b24232"/>
<circle cx="80.6" cy="216.0" r="3.15" fill="#b24232"/>
<circle cx="81.0" cy="214.2" r="3.15" fill="#b24232"/>
<circle cx="81.4" cy="214.7" r="3.15" fill="#b24232"/>
<circle cx="81.8" cy="213.9" r="3.15" fill="#b24232"/>
<circle cx="82.2" cy="214.7" r="3.15" fill="#b24232"/>
<circle cx="82.6" cy="214.1" r="3.15" fill="#b24232"/>
<circle cx="83.0" cy="217.1" r="3.15" fill="#b24232"/>
<circle cx="83.4" cy="214.0" r="3.15" fill="#b24232"/>
<circle cx="83.8" cy="214.7" r="3.15" fill="#b24232"/>
<circle cx="84.2" cy="217.4" r="3.15" fill="#b24232"/>
<circle cx="84.6" cy="216.2" r="3.15" fill="#b24232"/>
<circle cx="85.0" cy="215.6" r="3.15" fill="#b24232"/>
<circle cx="85.4" cy="215.6" r="3.15" fill="#b24232"/>
<circle cx="85.8" cy="213.5" r="3.15" fill="#b24232"/>
<circle cx="86.2" cy="218.8" r="3.15" fill="#b24232"/>
<circle cx="86.6" cy="217.5" r="3.15" fill="#b24232"/>
<circle cx="87.0" cy="214.8" r="3.15" fill="#b24232"/>
<circle cx="87.4" cy="214.0" r="3.15" fill="#b24232"/>
<circle cx="87.8" cy="216.4" r="3.15" fill="#b24232"/>
<circle cx="88.2" cy="214.5" r="3.15" fill="#b24232"/>
<circle cx="88.6" cy="216.9" r="3.15" fill="#b24232"/>
<circle cx="89.0" cy="216.5" r="3.15" fill="#b24232"/>
<circle cx="89.4" cy="214.9" r="3.15" fill="#b24232"/>
<circle cx="89.8" cy="215.3" r="3.15" fill="#b24232"/>
<circle cx="90.2" cy="218.3" r="3.15" fill="#b24232"/>
<circle cx="90.6" cy="213.9" r="3.15" fill="#b24232"/>
<circle cx="91.0" cy="215.6" r="3.15" fill="#b24232"/>
<circle cx="91.4" cy="216.9" r="3.15" fill="#b24232"/>
<circle cx="91.8" cy="215.4" r="3.15" fill="#b24232"/>
<circle cx="92.2" cy="215.4" r="3.15" fill="#b24232"/>
<circle cx="92.6" cy="216.2" r="3.15" fill="#b24232"/>
<circle cx="93.0" cy="215.1" r="3.15" fill="#b24232"/>
<circle cx="93.4" cy="217.6" r="3.15" fill="#b24232"/>
<circle cx="93.8" cy="215.1" r="3.15" fill="#b24232"/>
<circle cx="94.2" cy="213.8" r="3.15" fill="#b24232"/>
<circle cx="94.6" cy="219.1" r="3.15" fill="#b24232"/>
<circle cx="95.0" cy="214.5" r="3.15" fill="#b24232"/>
<circle cx="95.4" cy="216.9" r="3.15" fill="#b24232"/>
<circle cx="95.8" cy="216.5" r="3.15" fill="#b24232"/>
<circle cx="96.2" cy="215.3" r="3.15" fill="#b24232"/>
<circle cx="96.6" cy="212.8" r="3.15" fill="#b24232"/>
<circle cx="97.0" cy="218.3" r="3.15" fill="#b24232"/>
<circle cx="97.4" cy="218.2" r="3.15" fill="#b24232"/>
<circle cx="97.8" cy="217.0" r="3.15" fill="#b24232"/>
<circle cx="98.2" cy="215.8" r="3.15" fill="#b24232"/>
<circle cx="98.6" cy="219.1" r="3.15" fill="#b24232"/>
<circle cx="99.0" cy="213.3" r="3.15" fill="#b24232"/>
<circle cx="99.4" cy="216.9" r="3.15" fill="#b24232"/>
<circle cx="99.8" cy="217.6" r="3.15" fill="#b24232"/>
<circle cx="100.2" cy="215.7" r="3.15" fill="#b24232"/>
<circle cx="100.6" cy="214.2" r="3.15" fill="#b24232"/>
<circle cx="101.0" cy="214.2" r="3.15" fill="#b24232"/>
<circle cx="101.4" cy="213.6" r="3.15" fill="#b24232"/>
<circle cx="101.8" cy="213.9" r="3.15" fill="#b24232"/>
<circle cx="102.2" cy="215.4" r="3.15" fill="#b24232"/>
<circle cx="102.6" cy="212.5" r="3.15" fill="#b24232"/>
<circle cx="103.0" cy="217.2" r="3.15" fill="#b24232"/>
<circle cx="103.4" cy="214.2" r="3.15" fill="#b24232"/>
<circle cx="103.8" cy="217.1" r="3.15" fill="#b24232"/>
<circle cx="104.2" cy="216.4" r="3.15" fill="#b24232"/>
<circle cx="104.6" cy="212.5" r="3.15" fill="#b24232"/>
<circle cx="105.0" cy="214.6" r="3.15" fill="#b24232"/>
<circle cx="105.4" cy="213.7" r="3.15" fill="#b24232"/>
<circle cx="105.8" cy="216.8" r="3.15" fill="#b24232"/>
<circle cx="106.2" cy="218.3" r="3.15" fill="#b24232"/>
<circle cx="106.6" cy="212.8" r="3.15" fill="#b24232"/>
<circle cx="107.0" cy="216.7" r="3.15" fill="#b24232"/>
<circle cx="107.4" cy="215.9" r="3.15" fill="#b24232"/>
<circle cx="107.8" cy="219.8" r="3.15" fill="#b24232"/>
<circle cx="108.2" cy="213.2" r="3.15" fill="#b24232"/>
<circle cx="108.6" cy="217.9" r="3.15" fill="#b24232"/>
<circle cx="109.0" cy="217.3" r="3.15" fill="#b24232"/>
<circle cx="109.4" cy="216.4" r="3.15" fill="#b24232"/>
<circle cx="109.8" cy="216.4" r="3.15" fill="#b24232"/>
<circle cx="110.2" cy="220.1" r="3.15" fill="#b24232"/>
<circle cx="110.6" cy="216.2" r="3.15" fill="#b24232"/>
<circle cx="111.0" cy="218.0" r="3.15" fill="#b24232"/>
<circle cx="111.4" cy="216.0" r="3.15" fill="#b24232"/>
<circle cx="111.8" cy="220.3" r="3.15" fill="#b24232"/>
<circle cx="112.2" cy="215.1" r="3.15" fill="#b24232"/>
<circle cx="112.6" cy="215.4" r="3.15" fill="#b24232"/>
<circle cx="113.0" cy="218.6" r="3.15" fill="#b24232"/>
<circle cx="113.4" cy="217.8" r="3.15" fill="#b24232"/>
<circle cx="113.8" cy="218.0" r="3.15" fill="#b24232"/>
<circle cx="114.2" cy="217.7" r="3.15" fill="#b24232"/>
<circle cx="114.6" cy="220.9" r="3.15" fill="#b24232"/>
<circle cx="115.0" cy="217.0" r="3.15" fill="#b24232"/>
<circle cx="115.4" cy="215.7" r="3.15" fill="#b24232"/>
<circle cx="115.8" cy="216.4" r="3.15" fill="#b24232"/>
<circle cx="116.2" cy="218.0" r="3.15" fill="#b24232"/>
<circle cx="116.6" cy="221.3" r="3.15" fill="#b24232"/>
<circle cx="117.0" cy="216.8" r="3.15" fill="#b24232"/>
<circle cx="117.4" cy="219.2" r="3.15" fill="#b24232"/>
<circle cx="117.8" cy="219.0" r="3.15" fill="#b24232"/>
<circle cx="118.2" cy="220.3" r="3.15" fill="#b24232"/>
<circle cx="118.6" cy="220.1" r="3.15" fill="#b24232"/>
<circle cx="119.0" cy="219.4" r="3.15" fill="#b24232"/>
<circle cx="119.4" cy="217.2" r="3.15" fill="#b24232"/>
<circle cx="119.8" cy="218.0" r="3.15" fill="#b24232"/>
<circle cx="120.2" cy="218.1" r="3.15" fill="#b24232"/>
<circle cx="120.6" cy="221.0" r="3.15" fill="#b24232"/>
<circle cx="121.0" cy="216.4" r="3.15" fill="#b24232"/>
<circle cx="121.4" cy="216.7" r="3.15" fill="#b24232"/>
<circle cx="121.8" cy="217.3" r="3.15" fill="#b24232"/>
<circle cx="122.2" cy="221.4" r="3.15" fill="#b24232"/>
<circle cx="122.6" cy="219.9" r="3.15" fill="#b24232"/>
<circle cx="123.0" cy="221.3" r="3.15" fill="#b24232"/>
<circle cx="123.4" cy="221.9" r="3.15" fill="#b24232"/>
<circle cx="123.8" cy="219.3" r="3.15" fill="#b24232"/>
<circle cx="124.2" cy="219.5" r="3.15" fill="#b24232"/>
<circle cx="124.6" cy="217.2" r="3.15" fill="#b24232"/>
<circle cx="125.0" cy="222.8" r="3.15" fill="#b24232"/>
<circle cx="125.4" cy="219.3" r="3.15" fill="#b24232"/>
<circle cx="125.8" cy="222.8" r="3.15" fill="#b24232"/>
<circle cx="126.2" cy="218.3" r="3.15" fill="#b24232"/>
<circle cx="126.6" cy="223.5" r="3.15" fill="#b24232"/>
<circle cx="127.0" cy="222.4" r="3.15" fill="#b24232"/>
<circle cx="127.4" cy="220.0" r="3.15" fill="#b24232"/>
<circle cx="127.8" cy="221.7" r="3.15" fill="#b24232"/>
<circle cx="128.2" cy="218.1" r="3.15" fill="#b24232"/>
<circle cx="128.6" cy="223.0" r="3.15" fill="#b24232"/>
<circle cx="129.0" cy="219.4" r="3.15" fill="#b24232"/>
<circle cx="129.4" cy="221.6" r="3.15" fill="#b24232"/>
<circle cx="129.8" cy="225.3" r="3.15" fill="#b24232"/>
<circle cx="130.2" cy="220.9" r="3.15" fill="#b24232"/>
<circle cx="130.6" cy="222.5" r="3.15" fill="#b24232"/>
<circle cx="131.0" cy="221.1" r="3.15" fill="#b24232"/>
<circle cx="131.4" cy="223.9" r="3.15" fill="#b24232"/>
<circle cx="131.8" cy="223.7" r="3.15" fill="#b24232"/>
<circle cx="132.2" cy="224.2" r="3.15" fill="#b24232"/>
<circle cx="132.6" cy="220.7" r="3.15" fill="#b24232"/>
<circle cx="133.0" cy="225.1" r="3.15" fill="#b24232"/>
<circle cx="133.4" cy="219.1" r="3.15" fill="#b24232"/>
<circle cx="133.8" cy="221.4" r="3.15" fill="#b24232"/>
<circle cx="134.2" cy="222.5" r="3.15" fill="#b24232"/>
<circle cx="134.6" cy="220.6" r="3.15" fill="#b24232"/>
<circle cx="135.0" cy="221.6" r="3.15" fill="#b24232"/>
<circle cx="135.4" cy="220.9" r="3.15" fill="#b24232"/>
<circle cx="135.8" cy="221.1" r="3.15" fill="#b24232"/>
<circle cx="136.2" cy="218.5" r="3.15" fill="#b24232"/>
<circle cx="136.6" cy="223.2" r="3.15" fill="#b24232"/>
<circle cx="137.0" cy="222.5" r="3.15" fill="#b24232"/>
<circle cx="137.4" cy="221.6" r="3.15" fill="#b24232"/>
<circle cx="137.8" cy="221.7" r="3.15" fill="#b24232"/>
<circle cx="138.2" cy="221.4" r="3.15" fill="#b24232"/>
<circle cx="138.6" cy="218.6" r="3.15" fill="#b24232"/>
<circle cx="139.0" cy="223.4" r="3.15" fill="#b24232"/>
<circle cx="139.4" cy="220.6" r="3.15" fill="#b24232"/>
<circle cx="139.8" cy="222.1" r="3.15" fill="#b24232"/>
<circle cx="140.2" cy="223.2" r="3.15" fill="#b24232"/>
<circle cx="140.6" cy="220.2" r="3.15" fill="#b24232"/>
<circle cx="141.0" cy="219.1" r="3.15" fill="#b24232"/>
<circle cx="141.4" cy="220.8" r="3.15" fill="#b24232"/>
<circle cx="141.8" cy="220.8" r="3.15" fill="#b24232"/>
<circle cx="142.2" cy="219.0" r="3.15" fill="#b24232"/>
<circle cx="142.6" cy="220.4" r="3.15" fill="#b24232"/>
<circle cx="143.0" cy="217.4" r="3.15" fill="#b24232"/>
<circle cx="143.4" cy="215.6" r="3.15" fill="#b24232"/>
<circle cx="143.8" cy="219.2" r="3.15" fill="#b24232"/>
<circle cx="144.2" cy="215.4" r="3.15" fill="#b24232"/>
<circle cx="144.6" cy="220.9" r="3.15" fill="#b24232"/>
<circle cx="145.0" cy="221.8" r="3.15" fill="#b24232"/>
<circle cx="145.4" cy="219.5" r="3.15" fill="#b24232"/>
<circle cx="145.8" cy="217.0" r="3.15" fill="#b24232"/>
<circle cx="146.2" cy="220.4" r="3.15" fill="#b24232"/>
<circle cx="146.6" cy="217.5" r="3.15" fill="#b24232"/>
<circle cx="147.0" cy="219.4" r="3.15" fill="#b24232"/>
<circle cx="147.4" cy="217.1" r="3.15" fill="#b24232"/>
<circle cx="147.8" cy="221.0" r="3.15" fill="#b24232"/>
<circle cx="148.2" cy="219.1" r="3.15" fill="#b24232"/>
<circle cx="148.6" cy="216.6" r="3.15" fill="#b24232"/>
<circle cx="149.0" cy="218.1" r="3.15" fill="#b24232"/>
<circle cx="149.4" cy="217.3" r="3.15" fill="#b24232"/>
<circle cx="149.8" cy="219.9" r="3.15" fill="#b24232"/>
<circle cx="150.2" cy="218.3" r="3.15" fill="#b24232"/>
<circle cx="150.6" cy="218.9" r="3.15" fill="#b24232"/>
<circle cx="151.0" cy="219.4" r="3.15" fill="#b24232"/>
<circle cx="151.4" cy="218.7" r="3.15" fill="#b24232"/>
<circle cx="151.8" cy="218.5" r="3.15" fill="#b24232"/>
<circle cx="152.2" cy="219.8" r="3.15" fill="#b24232"/>
<circle cx="152.6" cy="218.2" r="3.15" fill="#b24232"/>
<circle cx="153.0" cy="219.7" r="3.15" fill="#b24232"/>
<circle cx="153.4" cy="218.0" r="3.15" fill="#b24232"/>
<circle cx="153.8" cy="217.2" r="3.15" fill="#b24232"/>
<circle cx="154.2" cy="215.5" r="3.15" fill="#b24232"/>
<circle cx="154.6" cy="217.2" r="3.15" fill="#b24232"/>
<circle cx="155.0" cy="217.0" r="3.15" fill="#b24232"/>
<circle cx="155.4" cy="216.4" r="3.15" fill="#b24232"/>
<circle cx="155.8" cy="220.6" r="3.15" fill="#b24232"/>
<circle cx="156.2" cy="214.1" r="3.15" fill="#b24232"/>
<circle cx="156.6" cy="217.3" r="3.15" fill="#b24232"/>
<circle cx="157.0" cy="215.8" r="3.15" fill="#b24232"/>
<circle cx="157.4" cy="217.4" r="3.15" fill="#b24232"/>
<circle cx="157.8" cy="220.5" r="3.15" fill="#b24232"/>
<circle cx="158.2" cy="218.4" r="3.15" fill="#b24232"/>
<circle cx="158.6" cy="218.8" r="3.15" fill="#b24232"/>
<circle cx="159.0" cy="216.7" r="3.15" fill="#b24232"/>
<circle cx="159.4" cy="213.6" r="3.15" fill="#b24232"/>
<circle cx="159.8" cy="214.8" r="3.15" fill="#b24232"/>
<circle cx="160.2" cy="214.7" r="3.15" fill="#b24232"/>
<circle cx="160.6" cy="213.6" r="3.15" fill="#b24232"/>
<circle cx="161.0" cy="217.5" r="3.15" fill="#b24232"/>
<circle cx="161.4" cy="217.2" r="3.15" fill="#b24232"/>
<circle cx="161.8" cy="219.2" r="3.15" fill="#b24232"/>
<circle cx="162.2" cy="217.6" r="3.15" fill="#b24232"/>
<circle cx="162.6" cy="216.3" r="3.15" fill="#b24232"/>
<circle cx="163.0" cy="215.2" r="3.15" fill="#b24232"/>
<circle cx="163.4" cy="217.0" r="3.15" fill="#b24232"/>
<circle cx="163.8" cy="216.0" r="3.15" fill="#b24232"/>
<circle cx="164.2" cy="217.9" r="3.15" fill="#b24232"/>
<circle cx="164.6" cy="220.0" r="3.15" fill="#b24232"/>
<circle cx="165.0" cy="218.0" r="3.15" fill="#b24232"/>
<circle cx="165.4" cy="218.3" r="3.15" fill="#b24232"/>
<circle cx="165.8" cy="218.6" r="3.15" fill="#b24232"/>
<circle cx="166.2" cy="217.8" r="3.15" fill="#b24232"/>
<circle cx="166.6" cy="218.1" r="3.15" fill="#b24232"/>
<circle cx="167.0" cy="217.5" r="3.15" fill="#b24232"/>
<circle cx="167.4" cy="214.7" r="3.15" fill="#b24232"/>
<circle cx="167.8" cy="215.2" r="3.15" fill="#b24232"/>
<circle cx="168.2" cy="217.2" r="3.15" fill="#b24232"/>
<circle cx="168.6" cy="219.9" r="3.15" fill="#b24232"/>
<circle cx="169.0" cy="216.7" r="3.15" fill="#b24232"/>
<circle cx="169.4" cy="214.0" r="3.15" fill="#b24232"/>
<circle cx="169.8" cy="215.6" r="3.15" fill="#b24232"/>
<circle cx="170.2" cy="221.0" r="3.15" fill="#b24232"/>
<circle cx="170.6" cy="215.9" r="3.15" fill="#b24232"/>
<circle cx="171.0" cy="218.7" r="3.15" fill="#b24232"/>
<circle cx="171.4" cy="218.5" r="3.15" fill="#b24232"/>
<circle cx="171.8" cy="216.0" r="3.15" fill="#b24232"/>
<circle cx="172.2" cy="216.3" r="3.15" fill="#b24232"/>
<circle cx="172.6" cy="219.4" r="3.15" fill="#b24232"/>
<circle cx="173.0" cy="217.3" r="3.15" fill="#b24232"/>
<circle cx="173.4" cy="217.6" r="3.15" fill="#b24232"/>
<circle cx="173.8" cy="219.5" r="3.15" fill="#b24232"/>
<circle cx="174.2" cy="218.6" r="3.15" fill="#b24232"/>
<circle cx="174.6" cy="220.6" r="3.15" fill="#b24232"/>
<circle cx="175.0" cy="218.6" r="3.15" fill="#b24232"/>
<circle cx="175.4" cy="219.5" r="3.15" fill="#b24232"/>
<circle cx="175.8" cy="218.8" r="3.15" fill="#b24232"/>
<circle cx="176.2" cy="220.3" r="3.15" fill="#b24232"/>
<circle cx="176.6" cy="220.5" r="3.15" fill="#b24232"/>
<circle cx="177.0" cy="218.2" r="3.15" fill="#b24232"/>
<circle cx="177.4" cy="221.0" r="3.15" fill="#b24232"/>
<circle cx="177.8" cy="218.0" r="3.15" fill="#b24232"/>
<circle cx="178.2" cy="215.8" r="3.15" fill="#b24232"/>
<circle cx="178.6" cy="219.9" r="3.15" fill="#b24232"/>
<circle cx="179.0" cy="221.0" r="3.15" fill="#b24232"/>
<circle cx="179.4" cy="219.4" r="3.15" fill="#b24232"/>
<circle cx="179.8" cy="218.7" r="3.15" fill="#b24232"/>
<circle cx="180.2" cy="219.2" r="3.15" fill="#b24232"/>
<circle cx="180.6" cy="219.6" r="3.15" fill="#b24232"/>
<circle cx="181.0" cy="217.1" r="3.15" fill="#b24232"/>
<circle cx="181.4" cy="219.0" r="3.15" fill="#b24232"/>
<circle cx="181.8" cy="218.9" r="3.15" fill="#b24232"/>
<circle cx="182.2" cy="219.6" r="3.15" fill="#b24232"/>
<circle cx="182.6" cy="222.0" r="3.15" fill="#b24232"/>
<circle cx="183.0" cy="221.6" r="3.15" fill="#b24232"/>
<circle cx="183.4" cy="219.8" r="3.15" fill="#b24232"/>
<circle cx="183.8" cy="219.4" r="3.15" fill="#b24232"/>
<circle cx="184.2" cy="219.2" r="3.15" fill="#b24232"/>
<circle cx="184.6" cy="218.2" r="3.15" fill="#b24232"/>
<circle cx="185.0" cy="218.8" r="3.15" fill="#b24232"/>
<circle cx="185.4" cy="220.0" r="3.15" fill="#b24232"/>
<circle cx="185.8" cy="219.5" r="3.15" fill="#b24232"/>
<circle cx="186.2" cy="221.2" r="3.15" fill="#b24232"/>
<circle cx="186.6" cy="218.7" r="3.15" fill="#b24232"/>
<circle cx="187.0" cy="221.3" r="3.15" fill="#b24232"/>
<circle cx="187.4" cy="224.4" r="3.15" fill="#b24232"/>
<circle cx="187.8" cy="221.3" r="3.15" fill="#b24232"/>
<circle cx="188.2" cy="219.8" r="3.15" fill="#b24232"/>
<circle cx="188.6" cy="219.6" r="3.15" fill="#b24232"/>
<circle cx="189.0" cy="222.1" r="3.15" fill="#b24232"/>
<circle cx="189.4" cy="222.0" r="3.15" fill="#b24232"/>
<circle cx="189.8" cy="221.2" r="3.15" fill="#b24232"/>
<circle cx="190.2" cy="220.9" r="3.15" fill="#b24232"/>
<circle cx="190.6" cy="223.5" r="3.15" fill="#b24232"/>
<circle cx="191.0" cy="220.0" r="3.15" fill="#b24232"/>
<circle cx="191.4" cy="220.4" r="3.15" fill="#b24232"/>
<circle cx="191.8" cy="220.4" r="3.15" fill="#b24232"/>
<circle cx="192.2" cy="217.9" r="3.15" fill="#b24232"/>
<circle cx="192.6" cy="221.0" r="3.15" fill="#b24232"/>
<circle cx="193.0" cy="219.1" r="3.15" fill="#b24232"/>
<circle cx="193.4" cy="223.8" r="3.15" fill="#b24232"/>
<circle cx="193.8" cy="221.0" r="3.15" fill="#b24232"/>
<circle cx="194.2" cy="223.6" r="3.15" fill="#b24232"/>
<circle cx="194.6" cy="221.4" r="3.15" fill="#b24232"/>
<circle cx="195.0" cy="220.0" r="3.15" fill="#b24232"/>
<circle cx="195.4" cy="222.0" r="3.15" fill="#b24232"/>
<circle cx="195.8" cy="221.9" r="3.15" fill="#b24232"/>
<circle cx="196.2" cy="220.3" r="3.15" fill="#b24232"/>
<circle cx="196.6" cy="223.6" r="3.15" fill="#b24232"/>
<circle cx="197.0" cy="224.0" r="3.15" fill="#b24232"/>
<circle cx="197.4" cy="225.1" r="3.15" fill="#b24232"/>
<circle cx="197.8" cy="220.9" r="3.15" fill="#b24232"/>
<circle cx="198.2" cy="224.0" r="3.15" fill="#b24232"/>
<circle cx="198.6" cy="223.6" r="3.15" fill="#b24232"/>
<circle cx="199.0" cy="221.6" r="3.15" fill="#b24232"/>
<circle cx="199.4" cy="219.7" r="3.15" fill="#b24232"/>
<circle cx="199.8" cy="221.5" r="3.15" fill="#b24232"/>
<circle cx="200.2" cy="218.5" r="3.15" fill="#b24232"/>
<circle cx="200.6" cy="220.6" r="3.15" fill="#b24232"/>
<circle cx="201.0" cy="221.6" r="3.15" fill="#b24232"/>
<circle cx="201.4" cy="222.1" r="3.15" fill="#b24232"/>
<circle cx="201.8" cy="224.6" r="3.15" fill="#b24232"/>
<circle cx="202.2" cy="222.0" r="3.15" fill="#b24232"/>
<circle cx="202.6" cy="224.0" r="3.15" fill="#b24232"/>
<circle cx="203.0" cy="221.7" r="3.15" fill="#b24232"/>
<circle cx="203.4" cy="222.3" r="3.15" fill="#b24232"/>
<circle cx="203.8" cy="221.7" r="3.15" fill="#b24232"/>
<circle cx="204.2" cy="222.4" r="3.15" fill="#b24232"/>
<circle cx="204.6" cy="222.2" r="3.15" fill="#b24232"/>
<circle cx="205.0" cy="223.8" r="3.15" fill="#b24232"/>
<circle cx="205.4" cy="222.5" r="3.15" fill="#b24232"/>
<circle cx="205.8" cy="223.1" r="3.15" fill="#b24232"/>
<circle cx="206.2" cy="220.4" r="3.15" fill="#b24232"/>
<circle cx="206.6" cy="223.2" r="3.15" fill="#b24232"/>
<circle cx="207.0" cy="225.0" r="3.15" fill="#b24232"/>
<circle cx="207.4" cy="224.0" r="3.15" fill="#b24232"/>
<circle cx="207.8" cy="225.6" r="3.15" fill="#b24232"/>
<circle cx="208.2" cy="224.5" r="3.15" fill="#b24232"/>
<circle cx="208.6" cy="223.6" r="3.15" fill="#b24232"/>
<circle cx="209.0" cy="224.3" r="3.15" fill="#b24232"/>
<circle cx="209.4" cy="223.9" r="3.15" fill="#b24232"/>
<circle cx="209.8" cy="226.6" r="3.15" fill="#b24232"/>
<circle cx="210.2" cy="226.5" r="3.15" fill="#b24232"/>
<circle cx="210.6" cy="222.7" r="3.15" fill="#b24232"/>
<circle cx="211.0" cy="224.4" r="3.15" fill="#b24232"/>
<circle cx="211.4" cy="225.0" r="3.15" fill="#b24232"/>
<circle cx="211.8" cy="223.2" r="3.15" fill="#b24232"/>
<circle cx="212.2" cy="222.9" r="3.15" fill="#b24232"/>
<circle cx="212.6" cy="225.9" r="3.15" fill="#b24232"/>
<circle cx="213.0" cy="227.3" r="3.15" fill="#b24232"/>
<circle cx="213.4" cy="224.2" r="3.15" fill="#b24232"/>
<circle cx="213.8" cy="225.2" r="3.15" fill="#b24232"/>
<circle cx="214.2" cy="224.9" r="3.15" fill="#b24232"/>
<circle cx="214.6" cy="224.2" r="3.15" fill="#b24232"/>
<circle cx="215.0" cy="222.5" r="3.15" fill="#b24232"/>
<circle cx="215.4" cy="221.7" r="3.15" fill="#b24232"/>
<circle cx="215.8" cy="223.2" r="3.15" fill="#b24232"/>
<circle cx="216.2" cy="222.4" r="3.15" fill="#b24232"/>
<circle cx="216.6" cy="222.3" r="3.15" fill="#b24232"/>
<circle cx="217.0" cy="222.1" r="3.15" fill="#b24232"/>
<circle cx="217.4" cy="221.5" r="3.15" fill="#b24232"/>
<circle cx="52.8" cy="202.5" r="2.75" fill="#b24232"/>
<circle cx="53.2" cy="204.5" r="2.75" fill="#b24232"/>
<circle cx="54.0" cy="213.5" r="2.75" fill="#b24232"/>
<circle cx="65.0" cy="206.3" r="2.75" fill="#b24232"/>
<circle cx="105.3" cy="209.6" r="2.75" fill="#b24232"/>
<circle cx="166.0" cy="213.6" r="2.75" fill="#b24232"/>
<circle cx="216.3" cy="222.0" r="2.75" fill="#b24232"/>
<circle cx="86.7" cy="214.0" r="0.7" fill="#f0d0c8" opacity="0.85"/>
<circle cx="96.0" cy="214.5" r="0.7" fill="#f0d0c8" opacity="0.85"/>
<circle cx="145.5" cy="216.0" r="0.7" fill="#f0d0c8" opacity="0.85"/>
<circle cx="94.9" cy="213.5" r="0.7" fill="#f0d0c8" opacity="0.85"/>
<circle cx="59.8" cy="207.9" r="0.7" fill="#f0d0c8" opacity="0.85"/>
<circle cx="71.4" cy="210.2" r="0.7" fill="#f0d0c8" opacity="0.85"/>
<circle cx="214.5" cy="222.0" r="0.7" fill="#f0d0c8" opacity="0.85"/>
<circle cx="100.9" cy="213.0" r="0.7" fill="#f0d0c8" opacity="0.85"/>
<circle cx="129.5" cy="220.5" r="0.7" fill="#f0d0c8" opacity="0.85"/>
<circle cx="146.7" cy="215.2" r="0.7" fill="#f0d0c8" opacity="0.85"/>
<circle cx="162.1" cy="215.7" r="0.7" fill="#f0d0c8" opacity="0.85"/>
<circle cx="161.8" cy="213.6" r="0.7" fill="#f0d0c8" opacity="0.85"/>
<circle cx="86.5" cy="213.2" r="0.7" fill="#f0d0c8" opacity="0.85"/>
<circle cx="134.9" cy="218.7" r="0.7" fill="#f0d0c8" opacity="0.85"/>
<circle cx="77.0" cy="212.7" r="0.7" fill="#f0d0c8" opacity="0.85"/>
<circle cx="110.6" cy="214.2" r="0.7" fill="#f0d0c8" opacity="0.85"/>
<circle cx="116.5" cy="217.1" r="0.7" fill="#f0d0c8" opacity="0.85"/>
<circle cx="173.7" cy="217.3" r="0.7" fill="#f0d0c8" opacity="0.85"/>
<circle cx="106.2" cy="213.9" r="0.7" fill="#f0d0c8" opacity="0.85"/>
<circle cx="110.4" cy="214.9" r="0.7" fill="#f0d0c8" opacity="0.85"/>
<circle cx="151.2" cy="216.4" r="0.7" fill="#f0d0c8" opacity="0.85"/>
<circle cx="76.3" cy="210.9" r="0.7" fill="#f0d0c8" opacity="0.85"/>
<circle cx="121.8" cy="219.0" r="0.7" fill="#f0d0c8" opacity="0.85"/>
<circle cx="67.2" cy="209.6" r="0.7" fill="#f0d0c8" opacity="0.85"/>
<circle cx="189.7" cy="220.1" r="0.7" fill="#f0d0c8" opacity="0.85"/>
<circle cx="214.2" cy="223.0" r="0.7" fill="#f0d0c8" opacity="0.85"/>
<circle cx="150.0" cy="214.8" r="0.7" fill="#f0d0c8" opacity="0.85"/>
<circle cx="140.2" cy="218.5" r="0.7" fill="#f0d0c8" opacity="0.85"/>
<circle cx="105.6" cy="213.8" r="0.7" fill="#f0d0c8" opacity="0.85"/>
<circle cx="198.3" cy="220.0" r="0.7" fill="#f0d0c8" opacity="0.85"/>
<rect x="52.5" y="189.2" width="627.5" height="156.2" fill="none" stroke="#000" stroke-width="1.5"/>
<line x1="52.50" y1="345.4" x2="52.50" y2="350.4" stroke="#000" stroke-width="1.3"/>
<text x="52.50" y="365.20" font-size="14" font-weight="bold" font-style="normal" fill="#111" text-anchor="middle" >0</text>
<line x1="119.73" y1="345.4" x2="119.73" y2="348.0" stroke="#000" stroke-width="1.3"/>
<line x1="186.96" y1="345.4" x2="186.96" y2="350.4" stroke="#000" stroke-width="1.3"/>
<text x="186.96" y="365.20" font-size="14" font-weight="bold" font-style="normal" fill="#111" text-anchor="middle" >150</text>
<line x1="254.20" y1="345.4" x2="254.20" y2="348.0" stroke="#000" stroke-width="1.3"/>
<line x1="321.43" y1="345.4" x2="321.43" y2="350.4" stroke="#000" stroke-width="1.3"/>
<text x="321.43" y="365.20" font-size="14" font-weight="bold" font-style="normal" fill="#111" text-anchor="middle" >300</text>
<line x1="388.66" y1="345.4" x2="388.66" y2="348.0" stroke="#000" stroke-width="1.3"/>
<line x1="455.89" y1="345.4" x2="455.89" y2="350.4" stroke="#000" stroke-width="1.3"/>
<text x="455.89" y="365.20" font-size="14" font-weight="bold" font-style="normal" fill="#111" text-anchor="middle" >450</text>
<line x1="523.12" y1="345.4" x2="523.12" y2="348.0" stroke="#000" stroke-width="1.3"/>
<line x1="590.36" y1="345.4" x2="590.36" y2="350.4" stroke="#000" stroke-width="1.3"/>
<text x="590.36" y="365.20" font-size="14" font-weight="bold" font-style="normal" fill="#111" text-anchor="middle" >600</text>
<line x1="657.59" y1="345.4" x2="657.59" y2="348.0" stroke="#000" stroke-width="1.3"/>
<line x1="47.5" y1="345.40" x2="52.5" y2="345.40" stroke="#000" stroke-width="1.3"/>
<text x="44.20" y="349.70" font-size="14" font-weight="bold" font-style="normal" fill="#111" text-anchor="end" >0.0</text>
<line x1="50.1" y1="331.20" x2="52.5" y2="331.20" stroke="#000" stroke-width="1.3"/>
<line x1="47.5" y1="317.00" x2="52.5" y2="317.00" stroke="#000" stroke-width="1.3"/>
<text x="44.20" y="321.30" font-size="14" font-weight="bold" font-style="normal" fill="#111" text-anchor="end" >0.2</text>
<line x1="50.1" y1="302.80" x2="52.5" y2="302.80" stroke="#000" stroke-width="1.3"/>
<line x1="47.5" y1="288.60" x2="52.5" y2="288.60" stroke="#000" stroke-width="1.3"/>
<text x="44.20" y="292.90" font-size="14" font-weight="bold" font-style="normal" fill="#111" text-anchor="end" >0.4</text>
<line x1="50.1" y1="274.40" x2="52.5" y2="274.40" stroke="#000" stroke-width="1.3"/>
<line x1="47.5" y1="260.20" x2="52.5" y2="260.20" stroke="#000" stroke-width="1.3"/>
<text x="44.20" y="264.50" font-size="14" font-weight="bold" font-style="normal" fill="#111" text-anchor="end" >0.6</text>
<line x1="50.1" y1="246.00" x2="52.5" y2="246.00" stroke="#000" stroke-width="1.3"/>
<line x1="47.5" y1="231.80" x2="52.5" y2="231.80" stroke="#000" stroke-width="1.3"/>
<text x="44.20" y="236.10" font-size="14" font-weight="bold" font-style="normal" fill="#111" text-anchor="end" >0.8</text>
<line x1="50.1" y1="217.60" x2="52.5" y2="217.60" stroke="#000" stroke-width="1.3"/>
<line x1="47.5" y1="203.40" x2="52.5" y2="203.40" stroke="#000" stroke-width="1.3"/>
<text x="44.20" y="207.70" font-size="14" font-weight="bold" font-style="normal" fill="#111" text-anchor="end" >1.0</text>
<line x1="50.1" y1="189.20" x2="52.5" y2="189.20" stroke="#000" stroke-width="1.3"/>
<text x="369.60" y="383.50" font-size="17.4" font-weight="bold" font-style="normal" fill="#111" text-anchor="middle" textLength="70.5" lengthAdjust="spacingAndGlyphs" >Time (h)</text>
<text transform="translate(13.4,266.8) rotate(-90)" x="0" y="0" font-size="15.6" font-weight="bold" fill="#111" text-anchor="middle" textLength="129" lengthAdjust="spacingAndGlyphs">Normalized PCE</text>
<text x="14.00" y="198.80" font-size="24" font-weight="bold" font-style="normal" fill="#111" text-anchor="start" >d</text>
<line x1="56.1" y1="263.6" x2="96.6" y2="263.6" stroke="#b24232" stroke-width="1.6"/>
<circle cx="76.7" cy="263.6" r="2.4" fill="url(#rg)"/>
<line x1="56.1" y1="285" x2="96.6" y2="285" stroke="#4ec592" stroke-width="1.6"/>
<circle cx="76.7" cy="285" r="2.4" fill="url(#gg)"/>
<text x="100.60" y="268.00" font-size="15.6" font-weight="bold" font-style="normal" fill="#b5473a" text-anchor="start" textLength="62.6" lengthAdjust="spacing" >Control</text>
<text x="100.00" y="290.50" font-size="15.6" font-weight="bold" font-style="normal" fill="#4bc990" text-anchor="start" textLength="43.4" lengthAdjust="spacing" >ADAI</text>
<text x="58.20" y="319.60" font-size="12.4" font-weight="bold" font-style="italic" fill="#1e288c" text-anchor="start" textLength="259.6" lengthAdjust="spacingAndGlyphs" >MPP tracking under 1-sun illumination</text>
</svg>
</body></html>
